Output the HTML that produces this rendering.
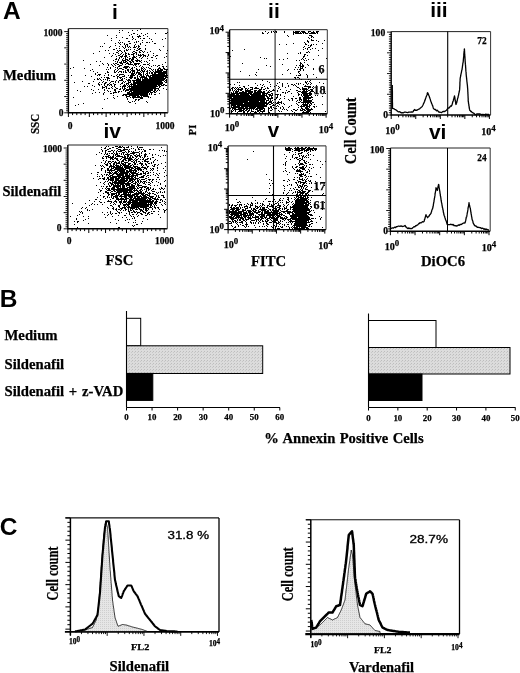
<!DOCTYPE html>
<html><head><meta charset="utf-8"><title>Figure</title>
<style>html,body{margin:0;padding:0;background:#fff}svg{display:block}text{fill:#000}</style>
</head><body>
<svg width="520" height="673" viewBox="0 0 520 673">
<defs>
<filter id="soft" x="0" y="0" width="520" height="673" filterUnits="userSpaceOnUse"><feGaussianBlur stdDeviation="0.35"/></filter>
<pattern id="dots" width="3" height="3" patternUnits="userSpaceOnUse"><rect width="3" height="3" fill="#dcdcdc"/><rect x="0" y="0" width="1" height="1" fill="#bdbdbd"/><rect x="2" y="1" width="1" height="1" fill="#c8c8c8"/></pattern>
<pattern id="dots2" width="2" height="2" patternUnits="userSpaceOnUse"><rect width="2" height="2" fill="#e6e6e6"/><rect x="0" y="0" width="1" height="1" fill="#cfcfcf"/></pattern>
</defs><rect width="520" height="673" fill="#fff"/>
<g filter="url(#soft)">
<text x="2.9" y="18.8" style="font-family:'Liberation Sans',sans-serif;font-weight:bold;font-size:24.5px" text-anchor="start" >A</text>
<text x="-0.3" y="307.3" style="font-family:'Liberation Sans',sans-serif;font-weight:bold;font-size:24.5px" text-anchor="start" >B</text>
<text x="-0.3" y="534.8" style="font-family:'Liberation Sans',sans-serif;font-weight:bold;font-size:24.5px" text-anchor="start" >C</text>
<text x="114.9" y="18.8" style="font-family:'Liberation Sans',sans-serif;font-weight:bold;font-size:21px" text-anchor="middle" >i</text>
<text x="273.9" y="18.1" style="font-family:'Liberation Sans',sans-serif;font-weight:bold;font-size:21px" text-anchor="middle" >ii</text>
<text x="438.9" y="16.9" style="font-family:'Liberation Sans',sans-serif;font-weight:bold;font-size:21px" text-anchor="middle" >iii</text>
<text x="112.2" y="137.7" style="font-family:'Liberation Sans',sans-serif;font-weight:bold;font-size:21px" text-anchor="middle" >iv</text>
<text x="273.5" y="136.9" style="font-family:'Liberation Sans',sans-serif;font-weight:bold;font-size:20.5px" text-anchor="middle" >v</text>
<text x="437.7" y="138.5" style="font-family:'Liberation Sans',sans-serif;font-weight:bold;font-size:21px" text-anchor="middle" >vi</text>
<line x1="68.4" y1="28.6" x2="68.4" y2="113.3" stroke="#000" stroke-width="1.4"/>
<line x1="67.9" y1="112.8" x2="167.9" y2="112.8" stroke="#000" stroke-width="1.4"/>
<line x1="68.4" y1="28.6" x2="167.9" y2="28.6" stroke="#222" stroke-width="1.0"/>
<line x1="167.9" y1="28.6" x2="167.9" y2="112.8" stroke="#333" stroke-width="1.0"/>
<line x1="64.2" y1="112.8" x2="68.4" y2="112.8" stroke="#000" stroke-width="0.9"/>
<line x1="66.10000000000001" y1="110.77" x2="68.4" y2="110.77" stroke="#000" stroke-width="0.9"/>
<line x1="66.10000000000001" y1="108.74" x2="68.4" y2="108.74" stroke="#000" stroke-width="0.9"/>
<line x1="66.10000000000001" y1="106.71" x2="68.4" y2="106.71" stroke="#000" stroke-width="0.9"/>
<line x1="66.10000000000001" y1="104.67999999999999" x2="68.4" y2="104.67999999999999" stroke="#000" stroke-width="0.9"/>
<line x1="66.10000000000001" y1="102.65" x2="68.4" y2="102.65" stroke="#000" stroke-width="0.9"/>
<line x1="66.10000000000001" y1="100.62" x2="68.4" y2="100.62" stroke="#000" stroke-width="0.9"/>
<line x1="66.10000000000001" y1="98.59" x2="68.4" y2="98.59" stroke="#000" stroke-width="0.9"/>
<line x1="64.2" y1="96.56" x2="68.4" y2="96.56" stroke="#000" stroke-width="0.9"/>
<line x1="66.10000000000001" y1="94.53" x2="68.4" y2="94.53" stroke="#000" stroke-width="0.9"/>
<line x1="66.10000000000001" y1="92.5" x2="68.4" y2="92.5" stroke="#000" stroke-width="0.9"/>
<line x1="66.10000000000001" y1="90.47" x2="68.4" y2="90.47" stroke="#000" stroke-width="0.9"/>
<line x1="66.10000000000001" y1="88.44" x2="68.4" y2="88.44" stroke="#000" stroke-width="0.9"/>
<line x1="66.10000000000001" y1="86.41" x2="68.4" y2="86.41" stroke="#000" stroke-width="0.9"/>
<line x1="66.10000000000001" y1="84.38" x2="68.4" y2="84.38" stroke="#000" stroke-width="0.9"/>
<line x1="66.10000000000001" y1="82.35" x2="68.4" y2="82.35" stroke="#000" stroke-width="0.9"/>
<line x1="64.2" y1="80.32" x2="68.4" y2="80.32" stroke="#000" stroke-width="0.9"/>
<line x1="66.10000000000001" y1="78.28999999999999" x2="68.4" y2="78.28999999999999" stroke="#000" stroke-width="0.9"/>
<line x1="66.10000000000001" y1="76.25999999999999" x2="68.4" y2="76.25999999999999" stroke="#000" stroke-width="0.9"/>
<line x1="66.10000000000001" y1="74.23" x2="68.4" y2="74.23" stroke="#000" stroke-width="0.9"/>
<line x1="66.10000000000001" y1="72.2" x2="68.4" y2="72.2" stroke="#000" stroke-width="0.9"/>
<line x1="66.10000000000001" y1="70.17" x2="68.4" y2="70.17" stroke="#000" stroke-width="0.9"/>
<line x1="66.10000000000001" y1="68.14000000000001" x2="68.4" y2="68.14000000000001" stroke="#000" stroke-width="0.9"/>
<line x1="66.10000000000001" y1="66.11000000000001" x2="68.4" y2="66.11000000000001" stroke="#000" stroke-width="0.9"/>
<line x1="64.2" y1="64.08000000000001" x2="68.4" y2="64.08000000000001" stroke="#000" stroke-width="0.9"/>
<line x1="66.10000000000001" y1="62.050000000000004" x2="68.4" y2="62.050000000000004" stroke="#000" stroke-width="0.9"/>
<line x1="66.10000000000001" y1="60.02" x2="68.4" y2="60.02" stroke="#000" stroke-width="0.9"/>
<line x1="66.10000000000001" y1="57.99000000000001" x2="68.4" y2="57.99000000000001" stroke="#000" stroke-width="0.9"/>
<line x1="66.10000000000001" y1="55.96000000000001" x2="68.4" y2="55.96000000000001" stroke="#000" stroke-width="0.9"/>
<line x1="66.10000000000001" y1="53.93000000000001" x2="68.4" y2="53.93000000000001" stroke="#000" stroke-width="0.9"/>
<line x1="66.10000000000001" y1="51.900000000000006" x2="68.4" y2="51.900000000000006" stroke="#000" stroke-width="0.9"/>
<line x1="66.10000000000001" y1="49.870000000000005" x2="68.4" y2="49.870000000000005" stroke="#000" stroke-width="0.9"/>
<line x1="64.2" y1="47.84" x2="68.4" y2="47.84" stroke="#000" stroke-width="0.9"/>
<line x1="66.10000000000001" y1="45.81000000000002" x2="68.4" y2="45.81000000000002" stroke="#000" stroke-width="0.9"/>
<line x1="66.10000000000001" y1="43.78" x2="68.4" y2="43.78" stroke="#000" stroke-width="0.9"/>
<line x1="66.10000000000001" y1="41.750000000000014" x2="68.4" y2="41.750000000000014" stroke="#000" stroke-width="0.9"/>
<line x1="66.10000000000001" y1="39.72" x2="68.4" y2="39.72" stroke="#000" stroke-width="0.9"/>
<line x1="66.10000000000001" y1="37.69000000000001" x2="68.4" y2="37.69000000000001" stroke="#000" stroke-width="0.9"/>
<line x1="66.10000000000001" y1="35.66000000000001" x2="68.4" y2="35.66000000000001" stroke="#000" stroke-width="0.9"/>
<line x1="66.10000000000001" y1="33.63000000000001" x2="68.4" y2="33.63000000000001" stroke="#000" stroke-width="0.9"/>
<line x1="64.2" y1="31.60000000000001" x2="68.4" y2="31.60000000000001" stroke="#000" stroke-width="0.9"/>
<line x1="68.4" y1="112.8" x2="68.4" y2="117.0" stroke="#000" stroke-width="1.0"/>
<line x1="72.5913043478261" y1="112.8" x2="72.5913043478261" y2="115.1" stroke="#000" stroke-width="1.0"/>
<line x1="76.78260869565219" y1="112.8" x2="76.78260869565219" y2="115.1" stroke="#000" stroke-width="1.0"/>
<line x1="80.97391304347826" y1="112.8" x2="80.97391304347826" y2="115.1" stroke="#000" stroke-width="1.0"/>
<line x1="85.16521739130435" y1="112.8" x2="85.16521739130435" y2="115.1" stroke="#000" stroke-width="1.0"/>
<line x1="89.35652173913044" y1="112.8" x2="89.35652173913044" y2="117.0" stroke="#000" stroke-width="1.0"/>
<line x1="93.54782608695653" y1="112.8" x2="93.54782608695653" y2="115.1" stroke="#000" stroke-width="1.0"/>
<line x1="97.73913043478262" y1="112.8" x2="97.73913043478262" y2="115.1" stroke="#000" stroke-width="1.0"/>
<line x1="101.9304347826087" y1="112.8" x2="101.9304347826087" y2="115.1" stroke="#000" stroke-width="1.0"/>
<line x1="106.12173913043479" y1="112.8" x2="106.12173913043479" y2="117.0" stroke="#000" stroke-width="1.0"/>
<line x1="110.31304347826088" y1="112.8" x2="110.31304347826088" y2="115.1" stroke="#000" stroke-width="1.0"/>
<line x1="114.50434782608696" y1="112.8" x2="114.50434782608696" y2="115.1" stroke="#000" stroke-width="1.0"/>
<line x1="118.69565217391306" y1="112.8" x2="118.69565217391306" y2="115.1" stroke="#000" stroke-width="1.0"/>
<line x1="122.88695652173914" y1="112.8" x2="122.88695652173914" y2="115.1" stroke="#000" stroke-width="1.0"/>
<line x1="127.07826086956523" y1="112.8" x2="127.07826086956523" y2="117.0" stroke="#000" stroke-width="1.0"/>
<line x1="131.26956521739132" y1="112.8" x2="131.26956521739132" y2="115.1" stroke="#000" stroke-width="1.0"/>
<line x1="135.46086956521742" y1="112.8" x2="135.46086956521742" y2="115.1" stroke="#000" stroke-width="1.0"/>
<line x1="139.6521739130435" y1="112.8" x2="139.6521739130435" y2="115.1" stroke="#000" stroke-width="1.0"/>
<line x1="143.84347826086957" y1="112.8" x2="143.84347826086957" y2="117.0" stroke="#000" stroke-width="1.0"/>
<line x1="148.03478260869565" y1="112.8" x2="148.03478260869565" y2="115.1" stroke="#000" stroke-width="1.0"/>
<line x1="152.22608695652173" y1="112.8" x2="152.22608695652173" y2="115.1" stroke="#000" stroke-width="1.0"/>
<line x1="156.41739130434783" y1="112.8" x2="156.41739130434783" y2="115.1" stroke="#000" stroke-width="1.0"/>
<line x1="160.60869565217394" y1="112.8" x2="160.60869565217394" y2="115.1" stroke="#000" stroke-width="1.0"/>
<line x1="164.8" y1="112.8" x2="164.8" y2="117.0" stroke="#000" stroke-width="1.0"/>
<text x="62.5" y="36" style="font-family:'Liberation Serif',serif;font-weight:bold;stroke:#000;stroke-width:0.25px;font-size:9.5px" text-anchor="end" >1000</text>
<text x="63.5" y="116" style="font-family:'Liberation Serif',serif;font-weight:bold;stroke:#000;stroke-width:0.25px;font-size:9.5px" text-anchor="end" >0</text>
<text x="70" y="128.6" style="font-family:'Liberation Serif',serif;font-weight:bold;stroke:#000;stroke-width:0.25px;font-size:9.5px" text-anchor="middle" >0</text>
<text x="165" y="129.1" style="font-family:'Liberation Serif',serif;font-weight:bold;stroke:#000;stroke-width:0.25px;font-size:9.5px" text-anchor="middle" >1000</text>
<path d="M159 80h1M145 89h1M139 89h1M145 79h1M153 87h1M140 88h1M149 84h1M143 81h1M149 86h1M147 79h1M158 83h1M142 98h1M145 80h1M142 77h1M153 82h1M139 94h1M132 94h1M128 90h1M135 97h1M159 81h1M152 84h1M150 82h1M131 83h1M148 97h1M147 84h1M160 83h1M146 88h1M144 86h1M134 93h1M144 93h1M142 79h1M144 95h1M142 84h1M135 85h1M143 82h1M157 82h1M146 94h1M148 90h1M143 79h1M150 89h1M148 81h1M143 85h1M143 94h1M157 86h1M149 89h1M145 87h1M140 89h1M163 85h1M142 86h1M138 91h1M148 79h1M149 83h1M156 84h1M143 89h1M135 91h1M145 85h1M140 97h1M150 86h1M144 91h1M149 87h1M153 86h1M140 87h1M141 89h1M136 81h1M146 80h1M129 94h1M139 91h1M141 83h1M135 88h1M143 84h1M143 80h1M145 78h1M143 91h1M154 92h1M133 95h1M155 88h1M138 92h1M160 75h1M149 91h1M139 92h1M136 86h1M138 90h1M144 92h1M137 89h1M134 94h1M141 90h1M147 92h1M146 78h1M143 93h1M147 83h1M154 80h1M129 102h1M130 95h1M153 85h1M132 96h1M133 85h1M142 92h1M147 90h1M141 87h1M136 89h1M150 84h1M143 90h1M146 95h1M143 87h1M137 90h1M145 91h1M144 85h1M148 91h1M154 82h1M144 78h1M155 84h1M151 79h1M155 81h1M144 81h1M144 90h1M141 84h1M145 90h1M155 87h1M131 94h1M157 83h1M141 91h1M145 94h1M149 82h1M150 90h1M127 98h1M140 79h1M131 91h1M151 84h1M149 80h1M134 95h1M155 79h1M142 93h1M160 82h1M158 80h1M148 85h1M132 93h1M144 94h1M135 83h1M140 83h1M156 85h1M138 86h1M138 84h1M150 85h1M132 97h1M140 82h1M144 87h1M159 77h1M134 88h1M136 87h1M158 79h1M166 89h1M143 77h1M144 88h1M127 94h1M140 85h1M146 89h1M140 78h1M150 78h1M145 81h1M133 97h1M143 83h1M120 88h1M146 90h1M138 88h1M157 88h1M146 79h1M156 80h1M150 83h1M153 91h1M138 82h1M142 85h1M149 73h1M136 88h1M133 91h1M139 93h1M150 87h1M148 84h1M162 77h1M151 87h1M153 71h1M140 84h1M144 84h1M140 92h1M160 68h1M134 86h1M151 90h1M146 83h1M146 86h1M140 90h1M136 94h1M154 78h1M154 88h1M143 92h1M142 89h1M154 83h1M135 92h1M157 74h1M138 81h1M135 82h1M158 81h1M137 84h1M135 99h1M139 85h1M147 93h1M156 81h1M147 87h1M146 81h1M156 83h1M137 88h1M141 88h1M153 78h1M130 94h1M149 85h1M151 81h1M136 93h1M150 76h1M136 91h1M154 81h1M165 82h1M152 88h1M152 87h1M142 91h1M146 93h1M139 86h1M150 91h1M160 86h1M155 85h1M141 94h1M158 85h1M145 92h1M139 84h1M160 80h1M145 82h1M130 84h1M154 91h1M143 96h1M137 93h1M151 78h1M134 97h1M155 83h1M150 80h1M147 91h1M137 86h1M148 86h1M145 93h1M151 82h1M161 71h1M136 85h1M158 84h1M148 87h1M139 82h1M147 86h1M144 79h1M140 74h1M152 79h1M144 83h1M154 76h1M155 94h1M141 82h1M143 95h1M130 90h1M130 93h1M142 94h1M134 81h1M153 88h1M140 86h1M151 86h1M147 78h1M152 80h1M127 90h1M148 96h1M142 82h1M162 82h1M137 97h1M141 96h1M138 93h1M158 82h1M138 83h1M147 85h1M145 83h1M146 85h1M133 93h1M151 89h1M151 75h1M152 85h1M137 83h1M139 90h1M145 86h1M153 79h1M145 95h1M160 74h1M151 94h1M157 81h1M162 85h1M142 90h1M129 96h1M145 84h1M141 95h1M148 82h1M140 94h1M151 93h1M135 87h1M135 103h1M139 88h1M151 88h1M133 92h1M142 88h1M135 89h1M156 82h1M159 87h1M138 85h1M154 89h1M154 87h1M159 79h1M146 84h1M154 85h1M151 80h1M150 88h1M153 84h1M150 97h1M156 91h1M156 76h1M155 92h1M154 84h1M151 92h1M156 74h1M136 83h1M146 91h1M149 90h1M159 90h1M164 84h1M133 87h1M135 86h1M154 72h1M138 89h1M126 97h1M132 87h1M142 81h1M142 87h1M157 90h1M157 72h1M143 72h1M151 85h1M155 82h1M148 88h1M152 78h1M138 87h1M147 88h1M135 93h1M154 90h1M153 80h1M156 88h1M134 83h1M140 81h1M146 87h1M148 83h1M155 69h1M161 84h1M127 99h1M137 91h1M152 82h1M146 96h1M148 80h1M139 96h1M141 97h1M152 83h1M152 77h1M141 92h1M131 90h1M150 77h1M155 89h1M131 85h1M152 76h1M133 98h1M154 79h1M130 102h1M142 83h1M151 83h1M136 97h1M134 92h1M151 77h1M132 88h1M155 90h1M155 80h1M139 87h1M137 95h1M141 81h1M143 88h1M152 89h1M144 89h1M135 96h1M143 86h1M140 80h1M138 100h1M133 86h1M130 97h1M138 97h1M166 81h1M144 82h1M145 96h1M129 88h1M144 96h1M134 87h1M124 87h1M141 86h1M154 94h1M158 89h1M163 77h1M153 83h1M131 93h1M141 85h1M162 80h1M150 81h1M126 94h1M149 76h1M133 96h1M139 83h1M126 95h1M134 101h1M152 90h1M128 101h1M152 81h1M132 86h1M136 92h1M136 95h1M129 85h1M138 78h1M165 85h1M161 82h1M132 95h1M129 82h1M161 85h1M157 79h1M149 72h1M147 80h1M136 79h1M162 76h1M129 95h1M123 95h1M139 79h1M156 75h1M146 82h1M140 93h1M147 81h1M142 97h1M163 84h1M147 82h1M155 77h1M158 76h1M155 76h1M159 82h1M159 78h1M155 78h1M157 75h1M162 75h1M161 72h1M165 71h1M145 77h1M164 72h1M166 73h1M155 71h1M160 69h1M151 72h1M166 77h1M147 89h1M151 73h1M163 80h1M165 72h1M163 73h1M149 77h1M162 78h1M148 76h1M160 78h1M153 77h1M156 71h1M164 68h1M155 73h1M166 82h1M155 72h1M147 75h1M154 74h1M152 75h1M158 71h1M163 68h1M158 75h1M164 69h1M156 79h1M151 66h1M153 75h1M164 78h1M159 85h1M162 83h1M160 79h1M147 74h1M154 73h1M159 83h1M166 74h1M157 80h1M152 70h1M161 77h1M164 75h1M158 77h1M149 81h1M159 68h1M162 74h1M159 76h1M161 69h1M165 78h1M163 78h1M155 86h1M153 69h1M164 73h1M163 76h1M155 70h1M165 76h1M152 74h1M150 79h1M157 71h1M161 76h1M160 72h1M161 83h1M164 81h1M162 69h1M161 73h1M149 79h1M160 70h1M161 81h1M162 70h1M166 71h1M154 75h1M154 86h1M165 73h1M157 76h1M159 86h1M164 76h1M164 71h1M166 72h1M156 77h1M161 75h1M156 72h1M150 71h1M165 80h1M158 88h1M160 76h1M159 73h1M159 67h1M158 78h1M156 86h1M163 66h1M166 79h1M160 84h1M161 74h1M163 74h1M160 77h1M157 84h1M155 74h1M160 71h1M163 67h1M154 77h1M163 79h1M163 75h1M163 72h1M167 75h1M146 77h1M161 78h1M167 77h1M159 70h1M158 65h1M150 92h1M153 81h1M159 71h1M164 79h1M159 74h1M153 74h1M156 78h1M165 69h1M162 79h1M158 73h1M157 70h1M161 79h1M164 74h1M160 73h1M153 65h1M152 92h1M161 80h1M162 73h1M161 70h1M159 93h1M167 69h1M162 72h1M159 75h1M165 75h1M166 80h1M158 74h1M165 62h1M165 77h1M157 77h1M148 92h1M158 72h1M159 72h1M163 88h1M163 71h1M153 76h1M157 69h1M159 84h1M166 85h1M166 70h1M166 75h1M166 76h1M158 70h1M149 78h1M158 69h1M157 78h1M155 75h1M152 73h1M160 81h1M166 69h1M150 75h1M130 91h1M141 68h1M128 82h1M141 77h1M133 89h1M131 87h1M128 92h1M148 75h1M122 79h1M145 74h1M137 81h1M138 70h1M142 78h1M134 84h1M139 80h1M134 96h1M137 79h1M137 77h1M133 82h1M135 77h1M134 85h1M134 80h1M147 72h1M130 80h1M131 75h1M130 82h1M131 88h1M138 79h1M137 80h1M134 82h1M137 94h1M133 84h1M120 80h1M141 74h1M124 82h1M129 86h1M137 72h1M139 74h1M124 88h1M132 90h1M137 78h1M133 75h1M130 75h1M124 94h1M127 85h1M128 86h1M140 91h1M136 90h1M144 80h1M135 90h1M137 82h1M125 94h1M135 65h1M139 81h1M128 83h1M139 72h1M134 89h1M127 87h1M115 81h1M133 81h1M126 79h1M132 101h1M129 77h1M126 90h1M146 76h1M136 82h1M135 78h1M126 77h1M141 76h1M128 75h1M128 94h1M146 75h1M133 88h1M129 89h1M152 86h1M131 73h1M142 80h1M131 92h1M130 78h1M122 95h1M138 96h1M137 87h1M129 87h1M144 77h1M125 95h1M131 84h1M139 73h1M132 84h1M141 75h1M137 85h1M135 84h1M123 90h1M131 86h1M135 80h1M145 88h1M122 87h1M142 95h1M135 94h1M133 90h1M140 98h1M147 94h1M133 94h1M141 93h1M134 91h1M149 94h1M139 97h1M135 95h1M137 92h1M131 89h1M130 88h1M130 86h1M146 92h1M134 90h1M131 95h1M137 96h1M138 95h1M149 93h1M140 95h1M146 101h1M138 99h1M141 98h1M132 92h1M132 89h1M127 92h1M129 91h1M126 89h1M128 89h1M129 93h1M147 96h1M139 99h1M138 94h1M135 100h1M130 89h1M127 93h1M148 89h1M127 83h1M129 92h1M147 95h1M128 96h1M124 89h1M109 53h1M143 35h1M138 36h1M113 63h1M119 57h1M115 63h1M137 36h1M134 64h1M138 41h1M125 53h1M116 48h1M120 63h1M136 54h1M136 61h1M140 38h1M129 59h1M129 64h1M136 60h1M133 54h1M126 50h1M139 69h1M142 51h1M126 96h1M139 36h1M136 63h1M124 56h1M118 53h1M119 43h1M123 47h1M135 74h1M126 55h1M134 57h1M102 46h1M133 70h1M122 60h1M124 67h1M152 72h1M127 67h1M117 70h1M120 56h1M136 52h1M131 64h1M129 41h1M133 62h1M152 41h1M139 52h1M124 86h1M126 72h1M129 46h1M125 54h1M125 88h1M133 33h1M149 63h1M119 66h1M125 62h1M141 70h1M131 78h1M103 64h1M132 64h1M144 61h1M143 55h1M125 68h1M134 46h1M139 55h1M128 32h1M138 47h1M123 58h1M115 59h1M144 55h1M118 69h1M145 45h1M143 56h1M99 65h1M149 68h1M140 65h1M116 56h1M117 50h1M109 47h1M127 57h1M102 108h1M136 64h1M107 67h1M115 69h1M131 60h1M133 51h1M136 56h1M156 58h1M102 87h1M120 44h1M128 79h1M150 51h1M130 63h1M121 53h1M126 59h1M140 29h1M133 65h1M143 52h1M124 62h1M122 52h1M121 51h1M117 52h1M119 50h1M113 76h1M131 59h1M116 71h1M125 59h1M129 58h1M139 46h1M121 63h1M126 68h1M138 54h1M141 55h1M119 46h1M136 46h1M99 75h1M132 71h1M139 66h1M132 60h1M119 30h1M106 69h1M137 59h1M120 71h1M128 60h1M124 43h1M117 67h1M126 67h1M127 63h1M133 73h1M116 88h1M127 46h1M154 43h1M128 49h1M132 36h1M131 54h1M144 38h1M125 60h1M130 77h1M127 44h1M113 60h1M133 74h1M135 39h1M134 49h1M142 54h1M125 52h1M139 57h1M115 61h1M140 71h1M135 63h1M111 40h1M137 50h1M128 70h1M107 35h1M134 51h1M124 78h1M131 34h1M147 64h1M122 78h1M118 51h1M120 65h1M121 65h1M132 61h1M119 32h1M132 39h1M132 59h1M127 60h1M134 45h1M131 76h1M137 75h1M149 65h1M118 59h1M133 58h1M145 64h1M138 46h1M134 67h1M128 69h1M151 57h1M121 79h1M133 57h1M152 60h1M148 55h1M115 54h1M140 36h1M131 68h1M132 67h1M107 85h1M132 52h1M136 42h1M115 43h1M138 45h1M130 43h1M128 53h1M120 78h1M155 43h1M116 37h1M146 61h1M132 76h1M130 71h1M147 62h1M137 63h1M135 64h1M108 50h1M121 61h1M127 66h1M132 73h1M109 78h1M124 48h1M128 81h1M132 30h1M92 69h1M155 33h1M121 62h1M111 64h1M121 74h1M115 45h1M120 54h1M120 42h1M122 37h1M139 51h1M114 64h1M110 68h1M134 47h1M138 60h1M123 54h1M142 42h1M132 57h1M113 53h1M134 56h1M127 38h1M125 61h1M146 42h1M145 49h1M112 55h1M133 47h1M130 47h1M145 48h1M117 68h1M122 82h1M125 55h1M119 62h1M131 70h1M127 50h1M116 52h1M124 75h1M137 34h1M138 55h1M130 58h1M116 63h1M128 71h1M134 77h1M134 42h1M136 41h1M120 62h1M119 55h1M139 49h1M118 42h1M159 49h1M140 50h1M118 55h1M119 40h1M107 63h1M123 81h1M122 55h1M141 33h1M115 67h1M129 43h1M137 60h1M122 59h1M133 56h1M112 65h1M133 55h1M121 83h1M127 59h1M122 56h1M111 38h1M121 56h1M121 71h1M127 70h1M133 80h1M115 65h1M116 35h1M130 72h1M125 58h1M120 84h1M132 54h1M118 66h1M126 38h1M123 62h1M134 71h1M123 60h1M120 50h1M133 71h1M129 35h1M119 48h1M93 53h1M125 67h1M127 45h1M123 61h1M134 63h1M137 30h1M130 64h1M117 64h1M122 42h1M114 70h1M134 75h1M136 66h1M116 58h1M125 90h1M117 76h1M121 72h1M122 76h1M111 56h1M118 82h1M113 49h1M128 41h1M114 49h1M127 80h1M138 73h1M123 72h1M137 71h1M128 54h1M126 66h1M147 58h1M142 40h1M104 57h1M132 37h1M126 63h1M128 64h1M140 55h1M123 69h1M140 52h1M143 69h1M124 60h1M119 71h1M100 46h1M122 69h1M124 50h1M133 53h1M120 68h1M126 49h1M135 60h1M124 76h1M139 35h1M110 46h1M137 61h1M122 46h1M110 67h1M128 66h1M138 63h1M144 64h1M122 63h1M151 39h1M130 61h1M148 54h1M135 52h1M116 59h1M125 70h1M140 44h1M147 36h1M122 64h1M124 44h1M135 44h1M138 37h1M139 70h1M140 43h1M125 57h1M125 56h1M102 63h1M131 77h1M136 50h1M125 46h1M124 51h1M139 63h1M134 53h1M119 68h1M128 47h1M118 60h1M136 58h1M132 75h1M117 74h1M119 65h1M129 79h1M118 64h1M108 69h1M135 47h1M126 61h1M99 51h1M143 75h1M125 45h1M144 68h1M133 61h1M117 77h1M126 83h1M120 74h1M119 80h1M134 33h1M113 66h1M127 89h1M119 58h1M128 63h1M147 56h1M111 85h1M133 38h1M121 57h1M129 72h1M126 53h1M129 67h1M105 50h1M107 71h1M129 61h1M149 42h1M141 60h1M122 30h1M115 84h1M126 56h1M125 47h1M108 74h1M155 56h1M104 77h1M132 70h1M129 56h1M140 54h1M141 50h1M130 49h1M138 49h1M119 75h1M132 58h1M117 61h1M132 69h1M108 64h1M118 72h1M123 94h1M104 43h1M139 48h1M140 48h1M137 48h1M130 69h1M115 72h1M126 44h1M123 74h1M130 62h1M129 54h1M141 58h1M95 73h1M103 81h1M114 71h1M115 92h1M104 90h1M102 82h1M104 92h1M118 92h1M98 83h1M113 93h1M107 78h1M123 89h1M121 91h1M97 78h1M114 90h1M114 85h1M116 80h1M106 77h1M117 88h1M114 84h1M85 75h1M109 85h1M116 92h1M103 87h1M92 85h1M89 83h1M88 83h1M122 86h1M114 92h1M84 68h1M108 78h1M104 99h1M125 91h1M102 86h1M111 84h1M123 76h1M123 85h1M120 86h1M103 79h1M111 87h1M136 99h1M108 77h1M109 88h1M93 81h1M94 86h1M123 86h1M110 91h1M113 81h1M105 83h1M108 91h1M99 85h1M107 72h1M115 87h1M97 72h1M117 96h1M109 83h1M115 82h1M104 89h1M98 89h1M111 93h1M91 89h1M108 88h1M101 77h1M119 89h1M114 89h1M114 76h1M106 82h1M127 96h1M100 74h1M115 89h1M121 80h1M120 89h1M105 79h1M121 68h1M119 91h1M102 88h1M107 77h1M106 87h1M109 80h1M115 90h1M122 83h1M104 75h1M108 84h1M118 76h1M118 91h1M106 86h1M97 75h1M99 84h1M104 84h1M98 74h1M112 86h1M112 81h1M111 75h1M98 84h1M99 92h1M104 85h1M107 98h1M107 90h1M108 75h1M114 98h1M113 97h1M115 91h1M104 83h1M113 92h1M99 74h1M107 84h1M113 95h1M103 94h1M114 86h1M93 90h1M113 83h1M91 76h1M95 74h1M100 79h1M106 88h1M105 82h1M111 81h1M110 82h1M122 88h1M101 80h1M105 73h1M110 84h1M118 81h1M110 93h1M101 84h1M107 79h1M105 86h1M112 88h1M107 80h1M108 72h1M97 79h1M104 87h1M103 93h1M95 92h1M125 66h1M124 85h1M143 74h1M147 71h1M142 71h1M142 66h1M120 77h1M130 81h1M127 69h1M125 71h1M131 62h1M146 73h1M133 59h1M134 73h1M136 80h1M138 72h1M125 86h1M141 67h1M136 72h1M141 72h1M125 72h1M143 67h1M140 73h1M136 73h1M139 61h1M132 80h1M121 77h1M131 74h1M138 80h1M146 71h1M123 67h1M149 88h1M136 69h1M114 72h1M141 62h1M122 74h1M147 73h1M130 76h1M117 62h1M140 75h1M139 60h1M123 71h1M144 76h1M155 65h1M143 64h1M122 80h1M147 70h1M159 65h1M133 83h1M143 73h1M125 85h1M132 68h1M134 72h1M132 77h1M134 70h1M132 72h1M148 64h1M143 71h1M145 56h1M135 57h1M124 66h1M140 77h1M141 69h1M132 74h1M142 76h1M128 84h1M140 61h1M119 77h1M108 65h1M119 74h1M134 78h1M147 102h1M129 80h1M125 81h1M124 84h1M146 67h1M148 67h1M117 78h1M142 57h1M138 64h1M149 70h1M116 75h1M138 74h1M126 84h1M143 76h1M137 70h1M144 71h1M139 76h1M128 93h1M137 76h1M137 69h1M145 69h1M125 64h1M136 53h1M127 62h1M144 70h1M128 80h1M151 69h1M136 68h1M83 103h1M93 71h1M99 78h1M96 61h1M90 64h1M90 70h1M83 60h1M75 105h1M99 82h1M73 97h1M82 81h1M100 61h1M74 82h1M87 86h1M80 91h1M77 90h1M70 68h1M71 75h1M98 79h1M84 86h1M78 104h1M73 67h1M92 93h1M94 79h1M162 64h1M147 52h1M157 55h1M153 53h1M167 50h1M145 34h1M165 38h1M143 38h1M166 33h1M153 55h1M158 68h1M147 42h1M167 32h1M164 57h1M150 68h1M166 53h1M144 51h1M162 66h1M145 55h1M163 46h1M142 68h1M149 60h1M166 56h1M160 50h1M152 57h1M142 70h1M147 33h1M140 56h1M157 66h1M162 39h1M156 55h1M166 66h1M149 38h1M165 33h1M143 54h1" stroke="#000" stroke-width="1.0" fill="none" transform="translate(0 0.5)"/>
<text x="3" y="80" style="font-family:'Liberation Serif',serif;font-weight:bold;stroke:#000;stroke-width:0.25px;font-size:14.7px" text-anchor="start" >Medium</text>
<text transform="translate(39.3 124) rotate(-90) scale(0.83 1)" style="font-family:'Liberation Serif',serif;font-weight:bold;stroke:#000;stroke-width:0.25px;font-size:13.3px" text-anchor="middle">SSC</text>
<line x1="67.85" y1="145" x2="67.85" y2="229.3" stroke="#000" stroke-width="1.4"/>
<line x1="67.35" y1="228.8" x2="167.3" y2="228.8" stroke="#000" stroke-width="1.4"/>
<line x1="67.85" y1="145" x2="167.3" y2="145" stroke="#222" stroke-width="1.0"/>
<line x1="167.3" y1="145" x2="167.3" y2="228.8" stroke="#333" stroke-width="1.0"/>
<line x1="63.64999999999999" y1="228.8" x2="67.85" y2="228.8" stroke="#000" stroke-width="0.9"/>
<line x1="65.55" y1="226.78" x2="67.85" y2="226.78" stroke="#000" stroke-width="0.9"/>
<line x1="65.55" y1="224.76000000000002" x2="67.85" y2="224.76000000000002" stroke="#000" stroke-width="0.9"/>
<line x1="65.55" y1="222.74" x2="67.85" y2="222.74" stroke="#000" stroke-width="0.9"/>
<line x1="65.55" y1="220.72" x2="67.85" y2="220.72" stroke="#000" stroke-width="0.9"/>
<line x1="65.55" y1="218.70000000000002" x2="67.85" y2="218.70000000000002" stroke="#000" stroke-width="0.9"/>
<line x1="65.55" y1="216.68" x2="67.85" y2="216.68" stroke="#000" stroke-width="0.9"/>
<line x1="65.55" y1="214.66" x2="67.85" y2="214.66" stroke="#000" stroke-width="0.9"/>
<line x1="63.64999999999999" y1="212.64000000000001" x2="67.85" y2="212.64000000000001" stroke="#000" stroke-width="0.9"/>
<line x1="65.55" y1="210.62" x2="67.85" y2="210.62" stroke="#000" stroke-width="0.9"/>
<line x1="65.55" y1="208.60000000000002" x2="67.85" y2="208.60000000000002" stroke="#000" stroke-width="0.9"/>
<line x1="65.55" y1="206.58" x2="67.85" y2="206.58" stroke="#000" stroke-width="0.9"/>
<line x1="65.55" y1="204.56" x2="67.85" y2="204.56" stroke="#000" stroke-width="0.9"/>
<line x1="65.55" y1="202.54000000000002" x2="67.85" y2="202.54000000000002" stroke="#000" stroke-width="0.9"/>
<line x1="65.55" y1="200.52" x2="67.85" y2="200.52" stroke="#000" stroke-width="0.9"/>
<line x1="65.55" y1="198.5" x2="67.85" y2="198.5" stroke="#000" stroke-width="0.9"/>
<line x1="63.64999999999999" y1="196.48000000000002" x2="67.85" y2="196.48000000000002" stroke="#000" stroke-width="0.9"/>
<line x1="65.55" y1="194.46" x2="67.85" y2="194.46" stroke="#000" stroke-width="0.9"/>
<line x1="65.55" y1="192.44" x2="67.85" y2="192.44" stroke="#000" stroke-width="0.9"/>
<line x1="65.55" y1="190.42000000000002" x2="67.85" y2="190.42000000000002" stroke="#000" stroke-width="0.9"/>
<line x1="65.55" y1="188.4" x2="67.85" y2="188.4" stroke="#000" stroke-width="0.9"/>
<line x1="65.55" y1="186.38" x2="67.85" y2="186.38" stroke="#000" stroke-width="0.9"/>
<line x1="65.55" y1="184.36" x2="67.85" y2="184.36" stroke="#000" stroke-width="0.9"/>
<line x1="65.55" y1="182.34" x2="67.85" y2="182.34" stroke="#000" stroke-width="0.9"/>
<line x1="63.64999999999999" y1="180.32" x2="67.85" y2="180.32" stroke="#000" stroke-width="0.9"/>
<line x1="65.55" y1="178.3" x2="67.85" y2="178.3" stroke="#000" stroke-width="0.9"/>
<line x1="65.55" y1="176.28" x2="67.85" y2="176.28" stroke="#000" stroke-width="0.9"/>
<line x1="65.55" y1="174.26" x2="67.85" y2="174.26" stroke="#000" stroke-width="0.9"/>
<line x1="65.55" y1="172.24" x2="67.85" y2="172.24" stroke="#000" stroke-width="0.9"/>
<line x1="65.55" y1="170.22" x2="67.85" y2="170.22" stroke="#000" stroke-width="0.9"/>
<line x1="65.55" y1="168.2" x2="67.85" y2="168.2" stroke="#000" stroke-width="0.9"/>
<line x1="65.55" y1="166.18" x2="67.85" y2="166.18" stroke="#000" stroke-width="0.9"/>
<line x1="63.64999999999999" y1="164.16" x2="67.85" y2="164.16" stroke="#000" stroke-width="0.9"/>
<line x1="65.55" y1="162.14" x2="67.85" y2="162.14" stroke="#000" stroke-width="0.9"/>
<line x1="65.55" y1="160.12" x2="67.85" y2="160.12" stroke="#000" stroke-width="0.9"/>
<line x1="65.55" y1="158.1" x2="67.85" y2="158.1" stroke="#000" stroke-width="0.9"/>
<line x1="65.55" y1="156.08" x2="67.85" y2="156.08" stroke="#000" stroke-width="0.9"/>
<line x1="65.55" y1="154.06" x2="67.85" y2="154.06" stroke="#000" stroke-width="0.9"/>
<line x1="65.55" y1="152.04" x2="67.85" y2="152.04" stroke="#000" stroke-width="0.9"/>
<line x1="65.55" y1="150.02" x2="67.85" y2="150.02" stroke="#000" stroke-width="0.9"/>
<line x1="63.64999999999999" y1="148.0" x2="67.85" y2="148.0" stroke="#000" stroke-width="0.9"/>
<line x1="67.85" y1="228.8" x2="67.85" y2="233.0" stroke="#000" stroke-width="1.0"/>
<line x1="72.0391304347826" y1="228.8" x2="72.0391304347826" y2="231.10000000000002" stroke="#000" stroke-width="1.0"/>
<line x1="76.22826086956522" y1="228.8" x2="76.22826086956522" y2="231.10000000000002" stroke="#000" stroke-width="1.0"/>
<line x1="80.41739130434783" y1="228.8" x2="80.41739130434783" y2="231.10000000000002" stroke="#000" stroke-width="1.0"/>
<line x1="84.60652173913043" y1="228.8" x2="84.60652173913043" y2="231.10000000000002" stroke="#000" stroke-width="1.0"/>
<line x1="88.79565217391304" y1="228.8" x2="88.79565217391304" y2="233.0" stroke="#000" stroke-width="1.0"/>
<line x1="92.98478260869565" y1="228.8" x2="92.98478260869565" y2="231.10000000000002" stroke="#000" stroke-width="1.0"/>
<line x1="97.17391304347827" y1="228.8" x2="97.17391304347827" y2="231.10000000000002" stroke="#000" stroke-width="1.0"/>
<line x1="101.36304347826086" y1="228.8" x2="101.36304347826086" y2="231.10000000000002" stroke="#000" stroke-width="1.0"/>
<line x1="105.55217391304348" y1="228.8" x2="105.55217391304348" y2="233.0" stroke="#000" stroke-width="1.0"/>
<line x1="109.74130434782609" y1="228.8" x2="109.74130434782609" y2="231.10000000000002" stroke="#000" stroke-width="1.0"/>
<line x1="113.9304347826087" y1="228.8" x2="113.9304347826087" y2="231.10000000000002" stroke="#000" stroke-width="1.0"/>
<line x1="118.11956521739131" y1="228.8" x2="118.11956521739131" y2="231.10000000000002" stroke="#000" stroke-width="1.0"/>
<line x1="122.30869565217392" y1="228.8" x2="122.30869565217392" y2="231.10000000000002" stroke="#000" stroke-width="1.0"/>
<line x1="126.49782608695654" y1="228.8" x2="126.49782608695654" y2="233.0" stroke="#000" stroke-width="1.0"/>
<line x1="130.68695652173915" y1="228.8" x2="130.68695652173915" y2="231.10000000000002" stroke="#000" stroke-width="1.0"/>
<line x1="134.87608695652176" y1="228.8" x2="134.87608695652176" y2="231.10000000000002" stroke="#000" stroke-width="1.0"/>
<line x1="139.06521739130437" y1="228.8" x2="139.06521739130437" y2="231.10000000000002" stroke="#000" stroke-width="1.0"/>
<line x1="143.25434782608698" y1="228.8" x2="143.25434782608698" y2="233.0" stroke="#000" stroke-width="1.0"/>
<line x1="147.4434782608696" y1="228.8" x2="147.4434782608696" y2="231.10000000000002" stroke="#000" stroke-width="1.0"/>
<line x1="151.6326086956522" y1="228.8" x2="151.6326086956522" y2="231.10000000000002" stroke="#000" stroke-width="1.0"/>
<line x1="155.8217391304348" y1="228.8" x2="155.8217391304348" y2="231.10000000000002" stroke="#000" stroke-width="1.0"/>
<line x1="160.01086956521743" y1="228.8" x2="160.01086956521743" y2="231.10000000000002" stroke="#000" stroke-width="1.0"/>
<line x1="164.20000000000002" y1="228.8" x2="164.20000000000002" y2="233.0" stroke="#000" stroke-width="1.0"/>
<text x="62" y="151.7" style="font-family:'Liberation Serif',serif;font-weight:bold;stroke:#000;stroke-width:0.25px;font-size:9.5px" text-anchor="end" >1000</text>
<text x="61.5" y="231" style="font-family:'Liberation Serif',serif;font-weight:bold;stroke:#000;stroke-width:0.25px;font-size:9.5px" text-anchor="end" >0</text>
<text x="69" y="244" style="font-family:'Liberation Serif',serif;font-weight:bold;stroke:#000;stroke-width:0.25px;font-size:9.5px" text-anchor="middle" >0</text>
<text x="164.5" y="243.9" style="font-family:'Liberation Serif',serif;font-weight:bold;stroke:#000;stroke-width:0.25px;font-size:9.5px" text-anchor="middle" >1000</text>
<path d="M141 181h1M121 177h1M122 163h1M131 173h1M108 193h1M120 150h1M123 163h1M127 155h1M119 146h1M106 175h1M116 202h1M114 177h1M107 201h1M124 148h1M127 167h1M153 200h1M113 187h1M130 170h1M120 171h1M111 179h1M117 173h1M119 162h1M150 185h1M133 226h1M101 147h1M132 152h1M123 207h1M105 192h1M128 159h1M140 181h1M132 178h1M139 190h1M111 158h1M113 189h1M132 182h1M121 165h1M129 192h1M134 207h1M147 173h1M158 208h1M128 184h1M132 168h1M115 176h1M129 171h1M116 189h1M113 157h1M128 181h1M115 161h1M114 181h1M130 192h1M123 160h1M134 225h1M146 161h1M134 175h1M123 171h1M113 147h1M130 159h1M117 168h1M125 168h1M122 168h1M128 183h1M144 189h1M117 186h1M137 168h1M144 182h1M142 151h1M113 178h1M114 190h1M120 173h1M131 169h1M119 199h1M123 181h1M131 180h1M131 212h1M139 153h1M110 157h1M127 185h1M153 168h1M116 179h1M139 174h1M136 174h1M145 212h1M150 188h1M136 154h1M130 171h1M138 168h1M121 161h1M149 182h1M111 167h1M107 196h1M128 150h1M145 178h1M152 170h1M130 193h1M135 176h1M139 185h1M124 157h1M141 179h1M131 176h1M129 170h1M158 214h1M133 183h1M133 162h1M132 176h1M119 163h1M115 184h1M124 162h1M130 180h1M123 202h1M121 151h1M126 158h1M135 188h1M120 185h1M119 167h1M119 207h1M108 172h1M113 173h1M129 168h1M122 172h1M131 188h1M134 185h1M131 178h1M135 155h1M112 159h1M128 165h1M112 180h1M119 156h1M129 175h1M130 187h1M116 169h1M122 188h1M123 194h1M117 175h1M141 153h1M107 186h1M134 194h1M135 196h1M131 155h1M107 163h1M137 191h1M117 176h1M126 176h1M112 193h1M137 159h1M122 194h1M118 200h1M110 190h1M147 166h1M141 193h1M116 177h1M142 171h1M103 166h1M122 186h1M135 212h1M134 201h1M114 183h1M136 195h1M118 175h1M108 180h1M111 191h1M127 189h1M132 185h1M135 179h1M103 196h1M115 191h1M131 184h1M126 181h1M127 177h1M132 170h1M127 153h1M121 182h1M133 154h1M135 160h1M151 197h1M121 183h1M142 163h1M146 182h1M120 169h1M107 188h1M130 167h1M109 166h1M129 167h1M132 189h1M131 186h1M124 165h1M108 146h1M118 187h1M124 158h1M136 161h1M109 157h1M116 173h1M129 181h1M130 190h1M125 207h1M121 175h1M141 185h1M122 175h1M109 185h1M141 192h1M127 183h1M126 206h1M100 165h1M114 182h1M122 177h1M149 184h1M135 171h1M115 157h1M142 159h1M118 215h1M129 178h1M121 156h1M129 195h1M113 166h1M145 173h1M134 217h1M141 189h1M121 184h1M117 150h1M116 162h1M111 193h1M113 156h1M126 184h1M145 184h1M106 158h1M136 166h1M130 209h1M105 147h1M135 149h1M132 173h1M102 168h1M130 208h1M116 187h1M107 192h1M125 204h1M107 153h1M102 204h1M114 189h1M132 184h1M107 170h1M132 192h1M144 167h1M105 152h1M113 165h1M120 210h1M137 164h1M114 164h1M128 178h1M124 156h1M110 163h1M108 195h1M139 206h1M139 193h1M146 190h1M119 170h1M122 169h1M123 161h1M153 189h1M113 170h1M124 192h1M122 217h1M107 174h1M118 178h1M130 156h1M125 163h1M115 158h1M121 163h1M115 168h1M107 197h1M128 160h1M125 149h1M123 178h1M119 188h1M113 177h1M124 205h1M134 189h1M117 211h1M129 163h1M135 197h1M117 178h1M156 181h1M124 155h1M112 177h1M134 162h1M121 167h1M112 194h1M122 152h1M111 166h1M105 164h1M137 195h1M126 183h1M101 186h1M132 181h1M127 157h1M118 147h1M118 170h1M115 195h1M113 180h1M127 173h1M122 187h1M110 158h1M126 217h1M114 167h1M125 195h1M124 166h1M118 184h1M126 200h1M127 174h1M109 161h1M129 183h1M146 168h1M133 176h1M128 171h1M116 195h1M121 181h1M134 170h1M133 160h1M108 194h1M114 169h1M112 158h1M126 168h1M139 151h1M117 154h1M107 207h1M145 187h1M135 183h1M129 189h1M116 208h1M120 159h1M148 182h1M128 198h1M153 179h1M125 151h1M124 206h1M114 158h1M102 150h1M106 174h1M129 200h1M135 164h1M135 168h1M109 148h1M104 167h1M111 214h1M129 151h1M136 196h1M101 168h1M150 203h1M119 149h1M119 177h1M123 168h1M111 197h1M119 161h1M127 179h1M124 197h1M110 179h1M137 169h1M126 188h1M131 177h1M108 157h1M124 171h1M120 166h1M110 203h1M161 195h1M130 165h1M137 179h1M102 188h1M117 190h1M118 189h1M116 199h1M114 201h1M106 154h1M132 204h1M120 190h1M112 156h1M124 215h1M120 146h1M126 162h1M140 187h1M105 162h1M140 177h1M129 201h1M116 158h1M122 184h1M102 165h1M148 175h1M124 181h1M112 147h1M109 188h1M117 156h1M116 148h1M109 189h1M124 169h1M140 189h1M117 146h1M115 196h1M110 212h1M120 149h1M117 199h1M133 165h1M137 202h1M127 188h1M135 209h1M127 176h1M138 155h1M119 151h1M129 174h1M127 147h1M120 189h1M121 189h1M131 187h1M121 172h1M107 168h1M119 202h1M108 177h1M119 175h1M137 175h1M111 175h1M136 182h1M133 151h1M136 168h1M107 178h1M104 177h1M145 168h1M111 194h1M148 163h1M126 172h1M108 190h1M140 157h1M125 205h1M146 196h1M117 182h1M111 201h1M128 202h1M117 167h1M107 181h1M112 208h1M118 166h1M114 185h1M128 158h1M112 174h1M112 179h1M108 178h1M120 192h1M119 171h1M114 150h1M126 175h1M149 214h1M121 194h1M123 196h1M136 190h1M137 167h1M165 186h1M112 182h1M117 196h1M120 165h1M121 154h1M126 174h1M122 161h1M123 179h1M100 191h1M144 156h1M110 156h1M125 157h1M112 206h1M138 205h1M105 181h1M134 198h1M115 167h1M120 164h1M122 171h1M127 165h1M110 166h1M121 195h1M154 203h1M132 186h1M125 209h1M108 188h1M135 222h1M123 205h1M109 197h1M108 169h1M147 162h1M132 214h1M145 194h1M115 209h1M131 179h1M130 169h1M101 190h1M128 166h1M119 186h1M132 161h1M111 173h1M125 198h1M108 189h1M118 206h1M139 168h1M126 185h1M141 167h1M124 185h1M128 167h1M109 170h1M114 187h1M144 183h1M134 187h1M134 161h1M141 188h1M149 195h1M113 197h1M143 199h1M121 169h1M143 165h1M137 181h1M118 186h1M116 174h1M138 152h1M122 174h1M146 208h1M150 168h1M140 170h1M112 189h1M121 200h1M106 146h1M145 200h1M126 147h1M136 224h1M113 184h1M115 193h1M109 179h1M138 192h1M128 147h1M121 198h1M132 175h1M135 198h1M110 205h1M126 171h1M118 185h1M116 183h1M134 167h1M119 185h1M123 187h1M123 169h1M140 147h1M140 196h1M129 185h1M130 189h1M117 184h1M122 191h1M127 192h1M119 182h1M157 168h1M106 156h1M120 175h1M134 152h1M133 199h1M124 170h1M131 210h1M128 154h1M143 186h1M136 214h1M123 165h1M143 172h1M118 181h1M128 163h1M146 171h1M116 165h1M126 180h1M131 171h1M120 177h1M131 158h1M125 165h1M124 164h1M125 180h1M134 206h1M135 194h1M131 206h1M107 172h1M112 191h1M128 206h1M126 173h1M97 172h1M118 167h1M109 176h1M121 170h1M103 179h1M136 175h1M116 186h1M135 170h1M161 204h1M144 187h1M133 168h1M113 196h1M126 194h1M126 165h1M137 188h1M140 174h1M151 202h1M128 151h1M122 173h1M120 203h1M142 166h1M132 164h1M108 184h1M117 189h1M139 183h1M145 164h1M118 182h1M141 147h1M137 199h1M114 172h1M117 169h1M118 149h1M134 163h1M106 164h1M112 184h1M116 146h1M138 161h1M125 174h1M118 179h1M124 188h1M144 160h1M150 199h1M109 171h1M111 205h1M109 167h1M116 152h1M109 163h1M146 200h1M117 166h1M126 195h1M117 163h1M123 149h1M140 192h1M116 171h1M111 180h1M153 162h1M133 202h1M110 213h1M115 173h1M130 194h1M135 173h1M117 198h1M113 186h1M134 180h1M117 165h1M143 159h1M116 164h1M120 183h1M140 182h1M145 172h1M133 192h1M126 189h1M110 199h1M135 181h1M119 191h1M137 224h1M123 201h1M133 148h1M107 164h1M140 205h1M139 204h1M123 175h1M138 200h1M117 188h1M127 187h1M116 210h1M135 166h1M101 166h1M118 169h1M115 186h1M141 169h1M138 185h1M108 149h1M125 196h1M121 196h1M152 165h1M119 169h1M139 163h1M120 199h1M138 198h1M112 183h1M117 192h1M131 191h1M122 179h1M130 174h1M129 160h1M123 192h1M130 178h1M122 181h1M132 203h1M141 214h1M132 167h1M142 157h1M136 160h1M135 190h1M127 166h1M136 173h1M123 182h1M127 202h1M144 154h1M115 165h1M122 176h1M129 157h1M129 158h1M126 190h1M121 191h1M118 151h1M136 189h1M119 181h1M105 153h1M135 169h1M115 155h1M130 155h1M111 184h1M131 168h1M115 183h1M115 181h1M98 179h1M138 174h1M125 159h1M108 192h1M121 192h1M136 170h1M125 154h1M144 193h1M121 162h1M120 174h1M133 194h1M107 154h1M119 166h1M129 191h1M133 171h1M115 169h1M130 179h1M113 152h1M132 157h1M146 159h1M147 192h1M142 200h1M156 173h1M126 152h1M124 186h1M115 177h1M130 157h1M118 160h1M137 216h1M116 213h1M126 170h1M138 212h1M148 195h1M113 164h1M125 167h1M118 212h1M102 176h1M131 151h1M109 153h1M135 158h1M134 153h1M110 178h1M111 153h1M144 200h1M152 168h1M139 192h1M117 170h1M112 175h1M140 193h1M117 183h1M118 162h1M127 190h1M127 149h1M126 193h1M119 173h1M135 175h1M134 190h1M135 193h1M108 201h1M134 155h1M106 179h1M119 147h1M112 166h1M123 188h1M120 172h1M104 184h1M137 184h1M150 183h1M128 156h1M119 192h1M141 149h1M123 172h1M130 196h1M129 159h1M121 153h1M110 222h1M118 199h1M122 185h1M112 181h1M131 161h1M108 161h1M131 196h1M104 154h1M117 160h1M135 177h1M115 179h1M138 169h1M111 189h1M145 205h1M133 172h1M134 186h1M131 175h1M137 193h1M106 186h1M110 175h1M104 182h1M116 181h1M123 183h1M131 153h1M114 162h1M129 199h1M131 189h1M128 211h1M124 147h1M102 212h1M117 155h1M124 201h1M117 153h1M131 170h1M110 182h1M113 204h1M112 176h1M116 168h1M147 197h1M137 183h1M124 179h1M131 216h1M110 176h1M118 220h1M133 188h1M139 187h1M121 212h1M115 189h1M117 179h1M131 199h1M126 198h1M141 198h1M137 187h1M111 168h1M138 204h1M106 160h1M134 169h1M133 206h1M103 178h1M140 203h1M134 164h1M142 221h1M132 174h1M130 186h1M142 176h1M125 215h1M141 174h1M111 177h1M134 177h1M108 155h1M130 200h1M102 157h1M120 151h1M128 207h1M105 171h1M123 173h1M116 154h1M110 169h1M112 153h1M124 177h1M119 194h1M120 201h1M134 195h1M127 180h1M124 149h1M117 158h1M124 173h1M143 195h1M145 181h1M150 172h1M143 176h1M116 167h1M123 184h1M154 199h1M124 200h1M117 195h1M128 222h1M125 160h1M123 185h1M112 170h1M102 151h1M123 157h1M147 171h1M143 181h1M148 161h1M142 190h1M119 213h1M163 209h1M146 180h1M122 207h1M129 154h1M113 198h1M105 172h1M116 194h1M140 173h1M138 148h1M112 216h1M125 192h1M136 194h1M130 183h1M110 170h1M132 196h1M126 154h1M101 162h1M123 150h1M141 155h1M129 164h1M122 156h1M131 172h1M144 151h1M146 188h1M107 149h1M124 202h1M126 201h1M140 195h1M109 194h1M119 180h1M144 181h1M145 167h1M128 177h1M121 178h1M98 192h1M105 217h1M111 150h1M139 156h1M110 201h1M133 178h1M133 190h1M112 150h1M105 150h1M145 154h1M124 199h1M148 173h1M119 168h1M138 170h1M133 203h1M119 174h1M114 163h1M111 195h1M148 209h1M130 198h1M148 189h1M136 152h1M119 227h1M110 161h1M123 170h1M148 187h1M123 191h1M108 183h1M135 178h1M125 199h1M120 188h1M128 194h1M145 161h1M139 167h1M128 146h1M133 181h1M129 180h1M118 165h1M128 152h1M145 174h1M121 168h1M135 167h1M110 173h1M123 164h1M142 161h1M113 193h1M114 153h1M135 184h1M150 179h1M118 195h1M118 194h1M128 182h1M113 155h1M115 146h1M109 186h1M152 208h1M133 222h1M138 178h1M126 179h1M120 168h1M119 209h1M111 196h1M116 178h1M118 163h1M131 185h1M125 162h1M144 212h1M133 170h1M131 146h1M120 179h1M115 171h1M143 169h1M108 156h1M121 190h1M127 172h1M136 193h1M127 184h1M119 155h1M121 173h1M124 150h1M134 191h1M100 190h1M132 202h1M142 206h1M122 150h1M119 212h1M131 198h1M134 188h1M120 156h1M136 162h1M146 189h1M102 158h1M137 156h1M109 201h1M129 212h1M138 186h1M101 169h1M102 178h1M106 192h1M130 181h1M126 177h1M134 179h1M119 183h1M115 197h1M121 174h1M142 205h1M99 189h1M130 163h1M140 168h1M146 169h1M128 164h1M138 158h1M129 184h1M119 196h1M149 180h1M125 175h1M114 170h1M117 197h1M139 147h1M123 204h1M125 158h1M138 182h1M138 172h1M154 166h1M133 185h1M135 150h1M97 174h1M128 190h1M125 173h1M146 206h1M127 207h1M146 165h1M114 166h1M99 152h1M105 161h1M120 195h1M128 189h1M124 187h1M124 172h1M141 187h1M134 208h1M122 164h1M104 178h1M143 175h1M138 180h1M131 159h1M134 211h1M139 169h1M99 176h1M109 172h1M147 187h1M124 195h1M148 177h1M119 201h1M135 182h1M129 190h1M152 191h1M129 214h1M107 212h1M132 218h1M133 216h1M138 188h1M116 198h1M140 169h1M116 201h1M129 173h1M129 176h1M162 205h1M104 179h1M108 179h1M112 161h1M122 178h1M122 180h1M138 167h1M129 187h1M126 166h1M109 151h1M114 203h1M107 190h1M111 165h1M119 193h1M116 209h1M111 157h1M140 162h1M144 175h1M146 209h1M132 159h1M117 191h1M130 172h1M144 155h1M117 174h1M135 200h1M103 156h1M113 154h1M145 192h1M125 194h1M121 147h1M123 174h1M110 177h1M128 203h1M142 167h1M150 198h1M146 176h1M139 149h1M141 165h1M125 178h1M107 177h1M138 181h1M141 223h1M126 203h1M127 156h1M136 156h1M125 220h1M115 154h1M124 196h1M113 202h1M128 176h1M123 198h1M127 158h1M105 191h1M108 208h1M128 168h1M97 176h1M107 228h1M128 172h1M146 164h1M152 179h1M108 200h1M111 162h1M143 193h1M112 213h1M118 176h1M137 213h1M119 178h1M110 164h1M118 192h1M134 159h1M121 209h1M123 210h1M130 176h1M116 172h1M123 186h1M132 156h1M139 209h1M121 188h1M121 171h1M137 166h1M103 186h1M143 209h1M125 156h1M99 178h1M145 150h1M134 173h1M152 155h1M104 163h1M118 227h1M116 223h1M151 162h1M113 185h1M160 184h1M109 174h1M125 176h1M131 165h1M125 169h1M132 194h1M113 209h1M121 158h1M132 172h1M139 161h1M129 219h1M137 178h1M137 155h1M134 166h1M127 219h1M143 158h1M121 179h1M104 148h1M127 204h1M111 178h1M106 157h1M133 200h1M120 186h1M127 170h1M117 187h1M113 182h1M136 159h1M128 201h1M130 160h1M133 198h1M120 167h1M113 188h1M139 154h1M122 170h1M134 197h1M130 199h1M137 190h1M131 197h1M146 178h1M109 182h1M144 168h1M122 166h1M104 196h1M119 205h1M112 157h1M119 206h1M125 190h1M120 182h1M104 174h1M113 179h1M131 182h1M133 152h1M117 159h1M132 188h1M145 160h1M116 163h1M132 177h1M113 151h1M106 187h1M135 163h1M109 190h1M134 193h1M147 194h1M134 200h1M132 179h1M130 191h1M120 176h1M106 191h1M100 199h1M123 176h1M142 197h1M101 149h1M136 171h1M113 167h1M138 149h1M113 161h1M115 172h1M110 151h1M108 170h1M135 220h1M109 155h1M141 170h1M159 197h1M130 210h1M121 208h1M101 170h1M118 177h1M119 153h1M124 193h1M135 172h1M129 169h1M142 187h1M107 169h1M133 179h1M147 159h1M107 165h1M139 179h1M133 214h1M135 156h1M128 193h1M139 202h1M112 172h1M112 198h1M127 194h1M110 180h1M112 195h1M141 164h1M106 150h1M144 179h1M101 153h1M137 198h1M147 161h1M141 177h1M103 183h1M131 190h1M118 191h1M108 162h1M139 177h1M122 160h1M113 168h1M137 200h1M111 171h1M132 153h1M144 173h1M151 169h1M137 147h1M128 161h1M133 157h1M115 182h1M151 181h1M129 177h1M133 186h1M141 152h1M133 166h1M143 218h1M139 199h1M145 196h1M129 166h1M110 192h1M137 180h1M116 159h1M133 175h1M125 164h1M132 187h1M128 175h1M134 212h1M129 149h1M147 219h1M100 182h1M120 181h1M116 193h1M152 182h1M121 202h1M110 165h1M111 170h1M122 198h1M118 180h1M140 180h1M120 184h1M118 172h1M113 163h1M125 183h1M95 165h1M128 204h1M132 225h1M142 182h1M130 153h1M127 168h1M122 146h1M133 173h1M121 201h1M110 183h1M145 201h1M124 159h1M113 194h1M115 200h1M126 160h1M144 186h1M105 151h1M118 209h1M151 213h1M137 194h1M110 211h1M133 153h1M128 209h1M116 185h1M124 204h1M126 167h1M103 158h1M126 197h1M137 146h1M123 193h1M126 149h1M144 203h1M134 218h1M127 171h1M128 155h1M116 196h1M128 208h1M122 167h1M127 154h1M120 170h1M119 176h1M118 193h1M142 194h1M134 172h1M101 174h1M117 148h1M145 153h1M128 210h1M118 198h1M116 190h1M136 157h1M137 176h1M118 156h1M125 172h1M115 162h1M137 204h1M103 160h1M114 176h1M105 198h1M107 156h1M118 188h1M130 166h1M98 172h1M138 215h1M128 185h1M110 159h1M112 168h1M152 197h1M115 178h1M137 174h1M132 180h1M113 176h1M109 173h1M100 178h1M108 214h1M131 148h1M123 180h1M124 152h1M137 185h1M131 167h1M102 175h1M118 174h1M108 151h1M130 158h1M112 187h1M115 219h1M93 178h1M126 213h1M116 166h1M127 178h1M133 187h1M147 158h1M138 191h1M142 164h1M108 168h1M123 159h1M123 154h1M111 169h1M125 166h1M151 201h1M121 199h1M137 212h1M111 202h1M137 152h1M114 188h1M139 200h1M134 196h1M127 191h1M123 153h1M107 193h1M130 188h1M115 204h1M160 183h1M125 184h1M133 174h1M123 147h1M106 165h1M149 179h1M116 156h1M134 183h1M125 181h1M117 171h1M144 157h1M121 150h1M105 188h1M105 148h1M123 152h1M116 153h1M136 205h1M144 150h1M140 185h1M127 175h1M136 186h1M137 173h1M136 178h1M147 175h1M140 190h1M113 159h1M143 179h1M124 176h1M116 151h1M126 204h1M150 175h1M145 186h1M117 185h1M141 176h1M142 179h1M96 185h1M149 163h1M155 164h1M139 196h1M135 152h1M148 184h1M115 180h1M120 147h1M105 156h1M132 199h1M115 213h1M127 162h1M106 189h1M118 155h1M141 173h1M138 184h1M157 177h1M122 157h1M123 190h1M117 180h1M96 154h1M146 191h1M118 190h1M129 194h1M138 199h1M120 196h1M121 197h1M126 186h1M126 199h1M123 177h1M120 202h1M126 196h1M108 175h1M124 167h1M118 168h1M111 185h1M129 197h1M119 189h1M120 191h1M122 189h1M116 197h1M110 172h1M125 193h1M125 201h1M126 191h1M123 189h1M124 178h1M116 180h1M125 189h1M122 199h1M125 208h1M128 196h1M112 188h1M128 187h1M132 191h1M105 170h1M112 178h1M113 207h1M127 195h1M130 195h1M114 173h1M122 182h1M114 194h1M116 192h1M122 183h1M126 209h1M116 182h1M123 199h1M113 208h1M115 185h1M122 196h1M128 195h1M126 178h1M129 179h1M120 180h1M129 196h1M125 188h1M122 190h1M125 202h1M124 194h1M124 191h1M130 197h1M124 190h1M116 176h1M129 186h1M134 202h1M128 192h1M125 191h1M111 183h1M124 182h1M129 188h1M118 183h1M132 197h1M119 190h1M133 195h1M120 198h1M114 196h1M113 190h1M114 193h1M131 200h1M131 192h1M131 202h1M133 205h1M127 182h1M113 174h1M114 191h1M124 180h1M124 183h1M120 187h1M124 189h1M110 186h1M126 192h1M111 188h1M121 180h1M114 186h1M142 202h1M129 211h1M130 207h1M152 202h1M133 211h1M149 192h1M138 202h1M144 199h1M142 195h1M137 207h1M152 198h1M149 198h1M140 200h1M148 190h1M124 208h1M135 206h1M149 204h1M141 196h1M145 197h1M147 195h1M131 205h1M154 198h1M146 203h1M141 197h1M132 200h1M155 203h1M143 200h1M160 200h1M144 205h1M145 209h1M156 200h1M145 203h1M153 191h1M141 205h1M145 207h1M137 209h1M150 197h1M149 200h1M152 193h1M144 207h1M141 203h1M138 208h1M136 199h1M136 203h1M147 210h1M137 197h1M143 212h1M138 203h1M142 203h1M142 198h1M118 205h1M156 195h1M131 195h1M132 205h1M156 201h1M150 201h1M141 213h1M146 197h1M135 204h1M150 207h1M153 198h1M143 196h1M148 203h1M136 206h1M134 204h1M152 200h1M147 201h1M146 205h1M137 206h1M150 202h1M144 206h1M143 198h1M142 201h1M141 202h1M135 202h1M132 201h1M143 202h1M145 195h1M141 209h1M130 202h1M135 207h1M154 207h1M142 204h1M137 201h1M154 202h1M135 201h1M129 203h1M136 202h1M146 194h1M144 198h1M148 200h1M127 205h1M145 206h1M133 210h1M129 206h1M138 197h1M140 206h1M140 201h1M155 199h1M130 203h1M145 215h1M144 202h1M140 213h1M122 203h1M145 198h1M129 202h1M144 201h1M141 201h1M145 202h1M139 201h1M154 194h1M137 196h1M148 206h1M143 211h1M141 204h1M146 202h1M147 199h1M142 199h1M140 198h1M156 196h1M134 205h1M146 207h1M143 205h1M150 196h1M140 199h1M144 195h1M148 213h1M155 197h1M145 204h1M148 204h1M130 201h1M154 191h1M137 205h1M150 200h1M152 201h1M132 207h1M128 205h1M155 198h1M145 208h1M139 205h1M151 203h1M136 208h1M133 207h1M143 207h1M135 205h1M157 198h1M157 193h1M148 208h1M143 201h1M142 211h1M129 207h1M148 201h1M140 204h1M131 207h1M162 195h1M149 212h1M140 207h1M149 202h1M130 215h1M147 204h1M143 192h1M147 208h1M122 208h1M148 198h1M147 200h1M150 204h1M127 198h1M137 203h1M151 205h1M163 196h1M135 203h1M153 196h1M147 202h1M143 204h1M140 202h1M141 194h1M158 197h1M131 204h1M150 193h1M149 199h1M139 212h1M120 208h1M154 205h1M156 203h1M145 210h1M149 207h1M146 198h1M145 213h1M155 204h1M144 196h1M132 206h1M133 208h1M149 201h1M158 196h1M139 197h1M136 192h1M132 208h1M138 206h1M150 206h1M138 207h1M159 209h1M160 202h1M142 193h1M158 195h1M143 206h1M138 196h1M143 194h1M140 209h1M146 204h1M136 207h1M124 207h1M136 201h1M152 206h1M143 197h1M151 199h1M152 196h1M131 208h1M136 198h1M156 205h1M148 205h1M136 200h1M141 206h1M153 204h1M157 199h1M153 193h1M133 204h1M162 201h1M138 194h1M144 204h1M143 203h1M139 203h1M154 211h1M147 206h1M146 210h1M139 198h1M156 192h1M145 199h1M142 207h1M139 208h1M150 205h1M143 208h1M155 194h1M148 202h1M141 199h1M135 199h1M133 201h1M120 204h1M155 201h1M129 213h1M141 207h1M149 193h1M158 199h1M136 204h1M115 201h1M141 200h1M144 197h1M146 201h1M140 191h1M132 195h1M157 207h1M148 197h1M125 210h1M132 212h1M140 210h1M148 193h1M136 209h1M132 209h1M140 211h1M149 196h1M155 207h1M151 204h1M136 211h1M142 210h1M125 197h1M151 196h1M129 204h1M155 202h1M147 205h1M149 189h1M149 194h1M153 201h1M153 166h1M145 163h1M159 173h1M142 186h1M158 207h1M143 183h1M166 151h1M153 172h1M161 163h1M158 177h1M165 166h1M161 188h1M153 174h1M160 199h1M159 202h1M165 202h1M163 155h1M154 206h1M158 211h1M156 179h1M148 212h1M157 167h1M140 159h1M142 214h1M164 210h1M141 163h1M150 187h1M161 199h1M153 157h1M164 172h1M152 157h1M159 179h1M164 192h1M165 204h1M165 210h1M143 167h1M159 150h1M152 154h1M157 174h1M150 170h1M146 215h1M142 177h1M155 154h1M150 149h1M158 175h1M164 212h1M148 179h1M145 159h1M148 172h1M166 175h1M166 209h1M165 199h1M154 165h1M165 170h1M148 158h1M163 195h1M148 188h1M152 189h1M149 149h1M158 164h1M155 208h1M161 187h1M164 151h1M156 202h1M164 197h1M155 189h1M143 177h1M151 163h1M151 211h1M157 201h1M164 176h1M160 189h1M154 185h1M143 149h1M143 171h1M143 173h1M145 156h1M164 203h1M148 166h1M138 193h1M152 213h1M153 169h1M162 200h1M165 185h1M157 160h1M165 155h1M147 213h1M159 188h1M154 160h1M157 185h1M165 180h1M150 159h1M163 197h1M157 165h1M162 188h1M140 163h1M162 192h1M149 153h1M151 190h1M158 182h1M153 161h1M145 151h1M162 150h1M152 180h1M146 186h1M164 191h1M147 167h1M160 192h1M161 147h1M153 149h1M140 156h1M156 199h1M165 162h1M146 154h1M142 147h1M158 192h1M155 159h1M154 164h1M147 156h1M144 161h1M157 170h1M150 158h1M164 201h1M164 211h1M145 155h1M152 209h1M160 191h1M163 189h1M163 168h1M147 214h1M164 181h1M164 150h1M164 188h1M147 188h1M146 211h1M141 191h1M160 156h1M158 155h1M153 188h1M152 203h1M139 155h1M88 223h1M134 203h1M145 191h1M153 211h1M155 175h1M104 214h1M141 210h1M151 207h1M72 203h1M110 148h1M107 215h1M92 203h1M78 221h1M91 173h1M77 227h1M160 217h1M82 212h1M77 215h1M81 208h1M79 214h1M79 211h1M89 210h1M100 195h1M87 210h1M96 199h1M97 197h1M76 219h1M91 204h1M86 207h1M97 204h1M77 222h1M104 202h1M82 213h1M94 201h1M85 208h1M76 218h1M83 216h1M74 221h1M100 202h1M85 203h1M89 205h1M83 220h1M103 193h1M85 219h1M99 201h1M101 202h1M87 209h1M80 212h1M89 200h1M94 204h1M70 216h1M103 197h1M88 218h1M77 221h1M95 199h1M74 224h1M92 209h1M81 211h1M88 216h1M82 207h1" stroke="#000" stroke-width="1.0" fill="none" transform="translate(0 0.5)"/>
<text x="2.5" y="196" style="font-family:'Liberation Serif',serif;font-weight:bold;stroke:#000;stroke-width:0.25px;font-size:14.5px" text-anchor="start" >Sildenafil</text>
<text x="105.5" y="264.9" style="font-family:'Liberation Serif',serif;font-weight:bold;stroke:#000;stroke-width:0.25px;font-size:14.7px" text-anchor="start" >FSC</text>
<line x1="229.6" y1="29.7" x2="229.6" y2="114.2" stroke="#000" stroke-width="1.4"/>
<line x1="229.1" y1="113.7" x2="327.3" y2="113.7" stroke="#000" stroke-width="1.4"/>
<line x1="229.6" y1="29.7" x2="327.3" y2="29.7" stroke="#222" stroke-width="1.0"/>
<line x1="327.3" y1="29.7" x2="327.3" y2="113.7" stroke="#333" stroke-width="1.0"/>
<line x1="229.6" y1="113.7" x2="229.6" y2="117.7" stroke="#000" stroke-width="1.0"/>
<line x1="236.86234864539355" y1="113.7" x2="236.86234864539355" y2="116.0" stroke="#000" stroke-width="1.0"/>
<line x1="241.11055027011184" y1="113.7" x2="241.11055027011184" y2="116.0" stroke="#000" stroke-width="1.0"/>
<line x1="244.12469729078708" y1="113.7" x2="244.12469729078708" y2="116.0" stroke="#000" stroke-width="1.0"/>
<line x1="246.46265135460646" y1="113.7" x2="246.46265135460646" y2="116.0" stroke="#000" stroke-width="1.0"/>
<line x1="248.3728989155054" y1="113.7" x2="248.3728989155054" y2="116.0" stroke="#000" stroke-width="1.0"/>
<line x1="249.98799021534393" y1="113.7" x2="249.98799021534393" y2="116.0" stroke="#000" stroke-width="1.0"/>
<line x1="251.38704593618064" y1="113.7" x2="251.38704593618064" y2="116.0" stroke="#000" stroke-width="1.0"/>
<line x1="252.62110054022372" y1="113.7" x2="252.62110054022372" y2="116.0" stroke="#000" stroke-width="1.0"/>
<line x1="253.725" y1="113.7" x2="253.725" y2="117.7" stroke="#000" stroke-width="1.0"/>
<line x1="260.9873486453935" y1="113.7" x2="260.9873486453935" y2="116.0" stroke="#000" stroke-width="1.0"/>
<line x1="265.23555027011184" y1="113.7" x2="265.23555027011184" y2="116.0" stroke="#000" stroke-width="1.0"/>
<line x1="268.2496972907871" y1="113.7" x2="268.2496972907871" y2="116.0" stroke="#000" stroke-width="1.0"/>
<line x1="270.58765135460646" y1="113.7" x2="270.58765135460646" y2="116.0" stroke="#000" stroke-width="1.0"/>
<line x1="272.4978989155054" y1="113.7" x2="272.4978989155054" y2="116.0" stroke="#000" stroke-width="1.0"/>
<line x1="274.1129902153439" y1="113.7" x2="274.1129902153439" y2="116.0" stroke="#000" stroke-width="1.0"/>
<line x1="275.51204593618064" y1="113.7" x2="275.51204593618064" y2="116.0" stroke="#000" stroke-width="1.0"/>
<line x1="276.7461005402237" y1="113.7" x2="276.7461005402237" y2="116.0" stroke="#000" stroke-width="1.0"/>
<line x1="277.85" y1="113.7" x2="277.85" y2="117.7" stroke="#000" stroke-width="1.0"/>
<line x1="285.1123486453936" y1="113.7" x2="285.1123486453936" y2="116.0" stroke="#000" stroke-width="1.0"/>
<line x1="289.36055027011184" y1="113.7" x2="289.36055027011184" y2="116.0" stroke="#000" stroke-width="1.0"/>
<line x1="292.3746972907871" y1="113.7" x2="292.3746972907871" y2="116.0" stroke="#000" stroke-width="1.0"/>
<line x1="294.71265135460646" y1="113.7" x2="294.71265135460646" y2="116.0" stroke="#000" stroke-width="1.0"/>
<line x1="296.6228989155054" y1="113.7" x2="296.6228989155054" y2="116.0" stroke="#000" stroke-width="1.0"/>
<line x1="298.237990215344" y1="113.7" x2="298.237990215344" y2="116.0" stroke="#000" stroke-width="1.0"/>
<line x1="299.63704593618064" y1="113.7" x2="299.63704593618064" y2="116.0" stroke="#000" stroke-width="1.0"/>
<line x1="300.8711005402237" y1="113.7" x2="300.8711005402237" y2="116.0" stroke="#000" stroke-width="1.0"/>
<line x1="301.975" y1="113.7" x2="301.975" y2="117.7" stroke="#000" stroke-width="1.0"/>
<line x1="309.2373486453936" y1="113.7" x2="309.2373486453936" y2="116.0" stroke="#000" stroke-width="1.0"/>
<line x1="313.48555027011184" y1="113.7" x2="313.48555027011184" y2="116.0" stroke="#000" stroke-width="1.0"/>
<line x1="316.4996972907871" y1="113.7" x2="316.4996972907871" y2="116.0" stroke="#000" stroke-width="1.0"/>
<line x1="318.83765135460646" y1="113.7" x2="318.83765135460646" y2="116.0" stroke="#000" stroke-width="1.0"/>
<line x1="320.7478989155054" y1="113.7" x2="320.7478989155054" y2="116.0" stroke="#000" stroke-width="1.0"/>
<line x1="322.362990215344" y1="113.7" x2="322.362990215344" y2="116.0" stroke="#000" stroke-width="1.0"/>
<line x1="323.76204593618064" y1="113.7" x2="323.76204593618064" y2="116.0" stroke="#000" stroke-width="1.0"/>
<line x1="324.9961005402237" y1="113.7" x2="324.9961005402237" y2="116.0" stroke="#000" stroke-width="1.0"/>
<line x1="326.1" y1="113.7" x2="326.1" y2="117.7" stroke="#000" stroke-width="1.0"/>
<line x1="225.6" y1="113.7" x2="229.6" y2="113.7" stroke="#000" stroke-width="1.0"/>
<line x1="227.29999999999998" y1="107.56651383834638" x2="229.6" y2="107.56651383834638" stroke="#000" stroke-width="1.0"/>
<line x1="227.29999999999998" y1="103.97865443508688" x2="229.6" y2="103.97865443508688" stroke="#000" stroke-width="1.0"/>
<line x1="227.29999999999998" y1="101.43302767669277" x2="229.6" y2="101.43302767669277" stroke="#000" stroke-width="1.0"/>
<line x1="227.29999999999998" y1="99.45848616165362" x2="229.6" y2="99.45848616165362" stroke="#000" stroke-width="1.0"/>
<line x1="227.29999999999998" y1="97.84516827343326" x2="229.6" y2="97.84516827343326" stroke="#000" stroke-width="1.0"/>
<line x1="227.29999999999998" y1="96.48112743470952" x2="229.6" y2="96.48112743470952" stroke="#000" stroke-width="1.0"/>
<line x1="227.29999999999998" y1="95.29954151503915" x2="229.6" y2="95.29954151503915" stroke="#000" stroke-width="1.0"/>
<line x1="227.29999999999998" y1="94.25730887017376" x2="229.6" y2="94.25730887017376" stroke="#000" stroke-width="1.0"/>
<line x1="225.6" y1="93.325" x2="229.6" y2="93.325" stroke="#000" stroke-width="1.0"/>
<line x1="227.29999999999998" y1="87.19151383834638" x2="229.6" y2="87.19151383834638" stroke="#000" stroke-width="1.0"/>
<line x1="227.29999999999998" y1="83.60365443508688" x2="229.6" y2="83.60365443508688" stroke="#000" stroke-width="1.0"/>
<line x1="227.29999999999998" y1="81.05802767669277" x2="229.6" y2="81.05802767669277" stroke="#000" stroke-width="1.0"/>
<line x1="227.29999999999998" y1="79.08348616165362" x2="229.6" y2="79.08348616165362" stroke="#000" stroke-width="1.0"/>
<line x1="227.29999999999998" y1="77.47016827343327" x2="229.6" y2="77.47016827343327" stroke="#000" stroke-width="1.0"/>
<line x1="227.29999999999998" y1="76.10612743470952" x2="229.6" y2="76.10612743470952" stroke="#000" stroke-width="1.0"/>
<line x1="227.29999999999998" y1="74.92454151503915" x2="229.6" y2="74.92454151503915" stroke="#000" stroke-width="1.0"/>
<line x1="227.29999999999998" y1="73.88230887017376" x2="229.6" y2="73.88230887017376" stroke="#000" stroke-width="1.0"/>
<line x1="225.6" y1="72.95" x2="229.6" y2="72.95" stroke="#000" stroke-width="1.0"/>
<line x1="227.29999999999998" y1="66.81651383834638" x2="229.6" y2="66.81651383834638" stroke="#000" stroke-width="1.0"/>
<line x1="227.29999999999998" y1="63.22865443508688" x2="229.6" y2="63.22865443508688" stroke="#000" stroke-width="1.0"/>
<line x1="227.29999999999998" y1="60.68302767669277" x2="229.6" y2="60.68302767669277" stroke="#000" stroke-width="1.0"/>
<line x1="227.29999999999998" y1="58.708486161653624" x2="229.6" y2="58.708486161653624" stroke="#000" stroke-width="1.0"/>
<line x1="227.29999999999998" y1="57.09516827343326" x2="229.6" y2="57.09516827343326" stroke="#000" stroke-width="1.0"/>
<line x1="227.29999999999998" y1="55.73112743470952" x2="229.6" y2="55.73112743470952" stroke="#000" stroke-width="1.0"/>
<line x1="227.29999999999998" y1="54.54954151503915" x2="229.6" y2="54.54954151503915" stroke="#000" stroke-width="1.0"/>
<line x1="227.29999999999998" y1="53.50730887017376" x2="229.6" y2="53.50730887017376" stroke="#000" stroke-width="1.0"/>
<line x1="225.6" y1="52.575" x2="229.6" y2="52.575" stroke="#000" stroke-width="1.0"/>
<line x1="227.29999999999998" y1="46.44151383834638" x2="229.6" y2="46.44151383834638" stroke="#000" stroke-width="1.0"/>
<line x1="227.29999999999998" y1="42.85365443508688" x2="229.6" y2="42.85365443508688" stroke="#000" stroke-width="1.0"/>
<line x1="227.29999999999998" y1="40.30802767669276" x2="229.6" y2="40.30802767669276" stroke="#000" stroke-width="1.0"/>
<line x1="227.29999999999998" y1="38.333486161653624" x2="229.6" y2="38.333486161653624" stroke="#000" stroke-width="1.0"/>
<line x1="227.29999999999998" y1="36.72016827343326" x2="229.6" y2="36.72016827343326" stroke="#000" stroke-width="1.0"/>
<line x1="227.29999999999998" y1="35.35612743470952" x2="229.6" y2="35.35612743470952" stroke="#000" stroke-width="1.0"/>
<line x1="227.29999999999998" y1="34.17454151503915" x2="229.6" y2="34.17454151503915" stroke="#000" stroke-width="1.0"/>
<line x1="227.29999999999998" y1="33.13230887017376" x2="229.6" y2="33.13230887017376" stroke="#000" stroke-width="1.0"/>
<line x1="225.6" y1="32.2" x2="229.6" y2="32.2" stroke="#000" stroke-width="1.0"/>
<line x1="275.1" y1="29.7" x2="275.1" y2="113.7" stroke="#222" stroke-width="1.1"/>
<line x1="229.6" y1="79.3" x2="327.3" y2="79.3" stroke="#000" stroke-width="1.1"/>
<text x="224" y="34.3" style="font-family:'Liberation Serif',serif;font-weight:bold;stroke:#000;stroke-width:0.25px;font-size:10.1px" text-anchor="end">10<tspan dy="-3.7" style="font-size:8.9px">4</tspan></text>
<text x="224.5" y="117" style="font-family:'Liberation Serif',serif;font-weight:bold;stroke:#000;stroke-width:0.25px;font-size:10.1px" text-anchor="end">10<tspan dy="-3.7" style="font-size:8.9px">0</tspan></text>
<text x="232" y="131" style="font-family:'Liberation Serif',serif;font-weight:bold;stroke:#000;stroke-width:0.25px;font-size:10.1px" text-anchor="middle">10<tspan dy="-3.7" style="font-size:8.9px">0</tspan></text>
<text x="326" y="132.5" style="font-family:'Liberation Serif',serif;font-weight:bold;stroke:#000;stroke-width:0.25px;font-size:10.1px" text-anchor="middle">10<tspan dy="-3.7" style="font-size:8.9px">4</tspan></text>
<path d="M254 97h1M257 105h1M239 101h1M231 88h1M263 103h1M244 97h1M241 96h1M231 97h1M259 99h1M254 95h1M243 101h1M232 101h1M251 106h1M230 94h1M260 99h1M241 100h1M237 98h1M241 98h1M246 107h1M250 102h1M247 103h1M236 102h1M231 92h1M251 97h1M246 99h1M234 103h1M236 96h1M236 98h1M261 96h1M257 108h1M250 107h1M258 108h1M254 108h1M262 93h1M247 108h1M244 98h1M256 103h1M234 97h1M250 98h1M259 91h1M264 86h1M243 97h1M238 101h1M260 100h1M251 104h1M251 102h1M251 100h1M248 97h1M240 99h1M243 109h1M233 96h1M240 97h1M240 103h1M234 99h1M257 101h1M251 105h1M230 98h1M236 92h1M260 104h1M243 86h1M264 105h1M249 97h1M247 97h1M257 100h1M255 92h1M261 91h1M256 88h1M239 98h1M247 96h1M251 87h1M253 103h1M251 96h1M259 102h1M234 102h1M245 104h1M260 97h1M238 102h1M256 98h1M243 110h1M250 108h1M250 105h1M233 100h1M262 99h1M233 107h1M254 101h1M253 101h1M237 100h1M256 100h1M241 99h1M251 107h1M256 97h1M241 92h1M247 105h1M262 106h1M240 105h1M243 96h1M255 100h1M254 91h1M262 100h1M251 101h1M247 104h1M236 104h1M235 100h1M255 106h1M242 100h1M237 102h1M263 108h1M251 111h1M263 91h1M264 98h1M251 93h1M255 101h1M261 101h1M256 92h1M235 101h1M261 95h1M237 93h1M257 99h1M233 98h1M250 103h1M245 96h1M231 94h1M264 93h1M237 99h1M257 111h1M237 94h1M253 99h1M248 92h1M252 99h1M249 95h1M230 102h1M233 94h1M259 96h1M249 96h1M244 100h1M263 99h1M252 98h1M231 107h1M239 87h1M253 105h1M248 93h1M258 107h1M245 101h1M233 91h1M254 93h1M254 98h1M230 96h1M250 101h1M249 100h1M240 109h1M234 88h1M253 95h1M256 108h1M241 103h1M234 105h1M241 95h1M264 100h1M264 102h1M231 103h1M257 98h1M246 105h1M238 96h1M247 102h1M246 100h1M252 97h1M262 102h1M237 104h1M252 94h1M258 106h1M256 106h1M238 104h1M259 104h1M244 106h1M232 95h1M237 106h1M255 98h1M232 108h1M249 108h1M244 86h1M259 106h1M259 103h1M240 96h1M237 95h1M237 101h1M259 95h1M231 96h1M236 97h1M261 107h1M259 97h1M245 105h1M246 97h1M230 100h1M255 104h1M258 104h1M252 104h1M242 99h1M249 103h1M250 99h1M246 88h1M230 90h1M252 95h1M250 112h1M235 97h1M256 112h1M240 104h1M262 97h1M258 98h1M232 100h1M254 94h1M254 99h1M252 103h1M257 107h1M245 107h1M253 104h1M260 102h1M260 105h1M249 102h1M248 98h1M250 92h1M239 97h1M249 106h1M258 100h1M246 92h1M255 102h1M249 105h1M243 99h1M231 93h1M244 101h1M249 104h1M242 101h1M244 99h1M241 90h1M242 91h1M253 94h1M262 92h1M250 100h1M249 93h1M232 104h1M252 102h1M231 110h1M248 91h1M236 99h1M259 107h1M252 100h1M243 95h1M260 91h1M262 96h1M239 99h1M235 89h1M264 97h1M238 100h1M244 102h1M231 98h1M240 107h1M245 90h1M257 104h1M244 93h1M250 97h1M244 103h1M261 98h1M249 101h1M234 98h1M258 93h1M237 112h1M235 102h1M258 103h1M238 90h1M248 102h1M255 93h1M235 104h1M239 95h1M245 110h1M260 93h1M261 89h1M260 103h1M248 94h1M255 103h1M252 88h1M247 112h1M231 106h1M235 99h1M237 96h1M248 106h1M262 107h1M252 106h1M249 90h1M248 103h1M253 97h1M256 105h1M236 103h1M259 105h1M263 105h1M240 101h1M244 108h1M258 110h1M259 92h1M258 95h1M244 105h1M233 102h1M255 111h1M243 105h1M233 93h1M253 100h1M260 109h1M230 108h1M244 92h1M239 100h1M245 92h1M241 101h1M258 101h1M260 96h1M247 94h1M236 109h1M248 96h1M251 95h1M231 95h1M258 111h1M239 105h1M238 109h1M239 82h1M256 99h1M245 106h1M253 106h1M232 103h1M258 92h1M233 95h1M240 87h1M262 105h1M245 94h1M249 99h1M246 93h1M246 103h1M241 108h1M258 102h1M233 97h1M252 96h1M249 98h1M256 104h1M233 106h1M232 99h1M232 109h1M252 92h1M241 104h1M257 110h1M254 112h1M249 110h1M257 109h1M262 108h1M248 95h1M246 102h1M260 108h1M234 94h1M254 105h1M238 111h1M240 92h1M242 107h1M234 100h1M235 105h1M236 94h1M241 97h1M249 92h1M254 88h1M256 102h1M246 109h1M232 102h1M250 104h1M262 85h1M244 95h1M241 94h1M248 110h1M260 101h1M230 89h1M232 93h1M232 89h1M261 103h1M251 98h1M252 108h1M240 110h1M247 100h1M245 97h1M234 104h1M238 99h1M230 84h1M246 90h1M234 95h1M258 97h1M238 98h1M260 94h1M259 98h1M257 91h1M250 94h1M236 95h1M232 105h1M245 98h1M237 103h1M247 101h1M253 98h1M250 90h1M232 107h1M240 98h1M249 107h1M260 106h1M263 98h1M241 89h1M237 105h1M261 104h1M244 96h1M242 94h1M253 102h1M248 100h1M251 110h1M256 95h1M246 91h1M262 103h1M239 109h1M242 96h1M245 100h1M262 111h1M254 96h1M232 98h1M261 111h1M252 91h1M242 97h1M263 100h1M250 93h1M236 100h1M235 108h1M263 101h1M247 91h1M230 103h1M264 109h1M254 100h1M262 104h1M260 98h1M264 103h1M248 90h1M263 92h1M261 108h1M261 106h1M234 107h1M240 111h1M241 109h1M242 105h1M259 109h1M257 103h1M238 103h1M251 99h1M239 92h1M263 97h1M243 106h1M235 98h1M232 87h1M240 100h1M246 106h1M252 101h1M233 105h1M241 102h1M241 110h1M262 95h1M245 89h1M243 104h1M253 93h1M244 94h1M260 111h1M240 102h1M232 88h1M263 96h1M257 97h1M242 98h1M264 101h1M261 105h1M235 103h1M233 104h1M255 94h1M240 95h1M259 110h1M238 108h1M260 95h1M261 88h1M262 101h1M252 87h1M235 95h1M232 96h1M232 90h1M254 90h1M261 102h1M252 105h1M264 95h1M247 99h1M256 96h1M251 108h1M243 102h1M240 89h1M255 95h1M260 84h1M244 111h1M234 90h1M243 107h1M238 107h1M255 96h1M239 93h1M257 85h1M239 106h1M239 89h1M247 98h1M236 101h1M254 102h1M235 110h1M230 97h1M261 109h1M261 97h1M252 107h1M260 90h1M246 94h1M246 96h1M235 106h1M247 106h1M238 94h1M263 93h1M231 104h1M238 91h1M238 89h1M235 109h1M234 93h1M255 107h1M242 104h1M245 103h1M263 94h1M240 94h1M242 106h1M257 102h1M250 91h1M264 91h1M239 111h1M233 103h1M238 105h1M247 111h1M242 102h1M233 92h1M251 92h1M234 96h1M256 93h1M263 104h1M234 84h1M245 99h1M248 105h1M261 100h1M236 107h1M239 104h1M237 82h1M244 112h1M233 87h1M262 94h1M252 89h1M264 108h1M248 108h1M253 96h1M247 107h1M250 87h1M258 96h1M235 93h1M231 102h1M245 108h1M251 103h1M239 107h1M242 89h1M256 94h1M254 104h1M260 107h1M263 110h1M236 88h1M231 99h1M249 91h1M247 89h1M243 91h1M234 109h1M237 97h1M241 105h1M245 91h1M239 96h1M257 95h1M237 87h1M239 85h1M248 111h1M247 95h1M251 94h1M242 108h1M231 105h1M241 88h1M256 109h1M264 99h1M260 110h1M236 106h1M231 100h1M242 93h1M239 102h1M259 89h1M254 107h1M257 92h1M231 101h1M263 95h1M242 92h1M258 99h1M237 113h1M253 111h1M250 96h1M237 107h1M233 99h1M256 90h1M239 108h1M239 110h1M255 105h1M243 100h1M248 99h1M237 92h1M238 95h1M235 96h1M263 89h1M234 101h1M243 98h1M258 94h1M243 108h1M232 111h1M233 101h1M240 93h1M257 94h1M242 103h1M235 87h1M263 102h1M240 90h1M264 94h1M255 97h1M258 105h1M264 110h1M233 108h1M261 92h1M255 87h1M241 93h1M242 95h1M246 108h1M241 107h1M234 106h1M243 111h1M259 93h1M254 92h1M251 109h1M262 112h1M262 80h1M248 104h1M248 85h1M261 99h1M249 109h1M259 108h1M243 112h1M238 97h1M230 95h1M246 110h1M255 99h1M253 108h1M245 95h1M247 109h1M246 101h1M257 93h1M263 107h1M238 106h1M241 111h1M256 101h1M251 91h1M261 87h1M260 92h1M239 103h1M255 109h1M250 106h1M252 111h1M259 90h1M246 95h1M243 93h1M255 112h1M245 93h1M257 96h1M255 91h1M241 106h1M237 109h1M258 90h1M233 110h1M257 106h1M231 112h1M238 93h1M262 98h1M234 108h1M240 108h1M262 109h1M244 87h1M235 91h1M255 88h1M242 110h1M245 88h1M248 88h1M232 94h1M235 111h1M245 102h1M238 88h1M237 89h1M257 88h1M244 104h1M236 90h1M231 111h1M244 109h1M237 91h1M254 103h1M243 94h1M236 93h1M235 107h1M246 98h1M235 92h1M247 93h1M247 90h1M253 109h1M236 91h1M246 104h1M242 88h1M267 100h1M266 104h1M269 92h1M268 94h1M278 94h1M270 86h1M264 96h1M272 109h1M273 102h1M268 99h1M266 100h1M268 92h1M276 97h1M271 101h1M266 105h1M270 110h1M275 94h1M264 89h1M271 103h1M271 96h1M270 100h1M271 107h1M272 100h1M284 98h1M276 106h1M266 102h1M250 89h1M275 108h1M268 110h1M255 90h1M266 95h1M280 102h1M272 93h1M267 92h1M269 90h1M259 94h1M269 112h1M265 103h1M268 103h1M272 98h1M270 104h1M276 85h1M269 95h1M269 102h1M269 96h1M267 88h1M271 110h1M269 101h1M272 105h1M259 112h1M269 94h1M268 100h1M268 97h1M264 104h1M270 99h1M270 102h1M272 103h1M273 90h1M277 95h1M267 96h1M282 86h1M268 88h1M276 94h1M270 91h1M270 107h1M255 83h1M268 112h1M266 106h1M266 93h1M278 103h1M267 98h1M264 92h1M272 97h1M276 103h1M265 93h1M274 99h1M278 88h1M266 103h1M270 84h1M277 105h1M277 103h1M267 81h1M268 91h1M269 104h1M286 90h1M274 105h1M264 106h1M277 97h1M278 102h1M268 108h1M279 104h1M277 94h1M271 98h1M271 95h1M267 97h1M254 106h1M263 111h1M270 101h1M267 104h1M270 94h1M269 98h1M258 91h1M265 105h1M270 106h1M275 99h1M265 95h1M260 89h1M278 106h1M272 95h1M273 104h1M258 88h1M268 107h1M271 93h1M281 103h1M270 95h1M279 102h1M272 94h1M259 100h1M266 90h1M268 109h1M265 106h1M277 102h1M272 90h1M267 87h1M267 93h1M275 104h1M279 87h1M269 82h1M266 94h1M271 102h1M274 90h1M256 87h1M276 108h1M278 101h1M271 108h1M276 98h1M265 99h1M271 97h1M263 84h1M271 106h1M263 106h1M266 96h1M273 107h1M265 98h1M251 89h1M265 102h1M274 108h1M253 107h1M275 102h1M274 86h1M243 92h1M262 87h1M267 103h1M273 89h1M271 91h1M264 111h1M268 98h1M265 88h1M270 98h1M266 101h1M268 111h1M273 105h1M268 102h1M269 108h1M306 101h1M300 106h1M311 89h1M310 110h1M303 102h1M306 97h1M303 92h1M302 92h1M305 97h1M304 100h1M309 86h1M307 91h1M311 100h1M307 106h1M310 89h1M306 93h1M312 91h1M308 96h1M311 97h1M304 110h1M304 94h1M304 98h1M314 104h1M305 99h1M306 100h1M304 95h1M307 100h1M305 108h1M310 101h1M301 106h1M312 87h1M308 95h1M311 83h1M304 99h1M305 105h1M311 93h1M308 87h1M297 104h1M305 112h1M306 113h1M312 90h1M306 98h1M310 105h1M310 91h1M298 95h1M305 94h1M308 99h1M305 103h1M300 101h1M305 95h1M303 91h1M313 106h1M306 92h1M305 88h1M305 104h1M303 84h1M310 93h1M306 112h1M308 100h1M305 89h1M309 92h1M308 112h1M308 109h1M303 93h1M310 112h1M308 93h1M309 105h1M305 81h1M308 86h1M306 106h1M310 95h1M301 99h1M306 107h1M307 108h1M306 90h1M308 98h1M306 88h1M307 101h1M307 75h1M300 89h1M305 93h1M304 92h1M303 98h1M307 97h1M303 97h1M304 102h1M302 93h1M309 87h1M300 74h1M305 100h1M305 102h1M306 94h1M302 102h1M309 94h1M305 101h1M311 103h1M310 84h1M311 101h1M309 102h1M307 104h1M311 96h1M306 95h1M302 106h1M308 110h1M307 111h1M310 82h1M314 106h1M309 93h1M309 111h1M296 103h1M303 106h1M302 104h1M303 105h1M303 103h1M307 86h1M307 102h1M306 96h1M309 98h1M307 98h1M304 93h1M308 83h1M303 100h1M308 79h1M306 104h1M304 104h1M304 89h1M301 100h1M305 85h1M301 107h1M305 98h1M303 99h1M303 109h1M306 86h1M314 92h1M305 91h1M300 110h1M304 97h1M306 105h1M306 102h1M312 97h1M308 101h1M312 89h1M299 102h1M309 97h1M309 90h1M301 108h1M313 88h1M304 86h1M311 94h1M299 99h1M307 103h1M299 91h1M301 95h1M300 97h1M307 105h1M307 89h1M308 106h1M309 101h1M307 95h1M307 81h1M304 90h1M311 104h1M307 96h1M313 102h1M302 110h1M310 87h1M310 94h1M302 96h1M304 88h1M304 91h1M303 95h1M304 109h1M308 108h1M302 109h1M301 105h1M308 102h1M306 91h1M307 77h1M303 111h1M300 109h1M308 88h1M306 99h1M308 111h1M303 90h1M301 94h1M307 110h1M307 94h1M302 108h1M305 82h1M303 89h1M310 97h1M303 94h1M308 90h1M310 98h1M309 95h1M308 103h1M307 84h1M303 104h1M297 100h1M301 92h1M306 108h1M313 86h1M310 103h1M303 112h1M310 86h1M309 110h1M310 109h1M310 102h1M302 91h1M309 81h1M309 109h1M311 90h1M310 80h1M307 107h1M304 112h1M306 82h1M306 111h1M305 107h1M312 102h1M309 106h1M303 88h1M306 89h1M302 88h1M307 112h1M316 106h1M304 106h1M304 96h1M309 104h1M301 102h1M313 91h1M307 76h1M303 101h1M312 99h1M304 101h1M310 100h1M300 99h1M305 110h1M309 107h1M307 109h1M308 113h1M306 109h1M311 108h1M310 92h1M299 97h1M304 105h1M299 94h1M311 91h1M305 92h1M311 109h1M306 83h1M305 86h1M305 96h1M301 110h1M296 101h1M307 93h1M302 89h1M308 97h1M302 112h1M299 100h1M309 100h1M302 87h1M307 49h1M311 45h1M301 66h1M300 75h1M303 57h1M304 56h1M302 58h1M302 65h1M310 49h1M307 52h1M300 67h1M308 42h1M304 46h1M297 77h1M300 65h1M316 40h1M299 71h1M312 40h1M298 72h1M304 55h1M311 35h1M306 52h1M303 49h1M305 43h1M303 70h1M306 44h1M310 46h1M309 35h1M298 77h1M299 65h1M300 70h1M296 65h1M309 52h1M312 48h1M299 78h1M296 75h1M305 58h1M307 41h1M295 77h1M303 66h1M297 69h1M313 37h1M311 39h1M305 48h1M308 45h1M307 40h1M303 65h1M313 40h1M305 67h1M311 37h1M303 56h1M308 41h1M308 59h1M304 54h1M309 47h1M312 36h1M298 71h1M301 63h1M309 38h1M302 66h1M300 68h1M307 55h1M299 73h1M303 47h1M299 69h1M301 68h1M302 68h1M300 62h1M304 60h1M302 64h1M307 64h1M310 35h1M308 51h1M300 66h1M300 63h1M310 45h1M304 62h1M304 42h1M308 47h1M303 59h1M305 54h1M298 67h1M306 60h1M294 69h1M298 75h1M308 37h1M305 44h1M299 60h1M294 77h1M300 69h1M300 53h1M307 48h1M311 36h1M301 59h1M311 44h1M302 67h1M271 32h1M262 32h1M273 31h1M262 33h1M274 32h1M268 32h1M267 33h1M276 32h1M271 31h1M276 31h1M263 33h1M265 31h1M275 31h1M311 32h1M299 31h1M300 33h1M301 31h1M297 31h1M298 31h1M316 32h1M293 33h1M318 31h1M317 32h1M304 32h1M298 33h1M314 33h1M307 33h1M313 33h1M302 31h1M296 31h1M296 32h1M295 33h1M303 33h1M312 33h1M309 31h1M310 31h1M298 32h1M295 32h1M305 32h1M304 31h1M316 31h1M299 33h1M293 32h1M315 33h1M308 32h1M301 33h1M309 33h1M311 33h1M312 32h1M308 31h1M313 31h1M306 33h1M314 32h1M305 33h1M300 32h1M295 31h1M303 32h1M297 33h1M297 32h1M296 33h1M313 32h1M317 31h1M303 31h1M310 33h1M293 31h1M317 33h1M302 32h1M295 85h1M283 92h1M285 93h1M288 85h1M279 111h1M280 98h1M277 91h1M293 85h1M291 98h1M291 84h1M296 86h1M288 107h1M277 90h1M285 87h1M293 96h1M292 111h1M293 109h1M289 100h1M283 107h1M296 83h1M300 98h1M287 92h1M282 109h1M291 93h1M294 84h1M297 92h1M284 104h1M294 109h1M300 83h1M291 105h1M277 96h1M277 83h1M292 99h1M289 91h1M297 109h1M279 99h1M299 98h1M278 86h1M298 93h1M280 94h1M282 84h1M288 91h1M298 91h1M283 103h1M284 96h1M281 101h1M299 88h1M297 90h1M298 83h1M287 83h1M298 105h1M295 110h1M292 98h1M282 106h1M296 90h1M284 109h1M288 99h1M298 87h1M292 100h1M279 82h1M296 98h1M281 102h1M282 85h1M280 108h1M298 84h1M285 92h1M290 89h1M296 110h1M281 111h1M292 84h1M280 95h1M295 98h1M282 92h1M298 102h1M298 107h1M287 110h1M280 89h1M300 91h1M282 83h1M294 112h1M289 106h1M278 110h1M286 109h1M280 107h1M297 87h1M283 108h1M291 110h1M298 94h1M288 86h1M325 111h1M324 89h1M314 107h1M325 93h1M322 96h1M319 82h1M315 95h1M317 95h1M323 83h1M312 109h1M322 104h1M316 85h1M294 32h1M322 48h1M299 75h1M303 69h1M322 43h1M284 31h1M316 44h1M315 48h1M311 40h1M318 50h1M300 52h1M306 74h1M326 58h1M279 44h1M301 79h1M316 77h1M324 40h1M295 67h1M318 41h1M282 64h1M318 55h1M287 53h1M288 36h1M290 73h1M313 59h1M296 60h1M284 32h1M313 69h1M287 58h1M286 44h1M293 43h1M282 74h1M279 59h1M293 34h1M300 64h1M288 69h1M298 53h1M313 68h1M287 70h1M321 73h1M283 59h1M308 65h1M313 74h1M295 78h1M313 44h1M287 35h1M242 63h1M255 74h1M266 65h1M232 50h1M240 71h1M244 49h1M264 58h1M256 75h1M256 72h1M270 66h1M258 69h1M249 75h1M260 57h1M230 56h1M266 58h1" stroke="#000" stroke-width="1.0" fill="none" transform="translate(0 0.5)"/>
<text x="321.5" y="73" style="font-family:'Liberation Serif',serif;font-weight:bold;stroke:#000;stroke-width:0.25px;font-size:12px" text-anchor="middle" >6</text>
<text x="319.5" y="94" style="font-family:'Liberation Serif',serif;font-weight:bold;stroke:#000;stroke-width:0.25px;font-size:12px" text-anchor="middle" >18</text>
<text transform="translate(196 130) rotate(-90) scale(1.0 1)" style="font-family:'Liberation Serif',serif;font-weight:bold;stroke:#000;stroke-width:0.25px;font-size:10.5px" text-anchor="middle">PI</text>
<line x1="228.1" y1="145.9" x2="228.1" y2="230.1" stroke="#000" stroke-width="1.4"/>
<line x1="227.6" y1="229.6" x2="326" y2="229.6" stroke="#000" stroke-width="1.4"/>
<line x1="228.1" y1="145.9" x2="326" y2="145.9" stroke="#222" stroke-width="1.0"/>
<line x1="326" y1="145.9" x2="326" y2="229.6" stroke="#333" stroke-width="1.0"/>
<line x1="228.1" y1="229.6" x2="228.1" y2="233.6" stroke="#000" stroke-width="1.0"/>
<line x1="235.37740014517675" y1="229.6" x2="235.37740014517675" y2="231.9" stroke="#000" stroke-width="1.0"/>
<line x1="239.63440633284785" y1="229.6" x2="239.63440633284785" y2="231.9" stroke="#000" stroke-width="1.0"/>
<line x1="242.65480029035348" y1="229.6" x2="242.65480029035348" y2="231.9" stroke="#000" stroke-width="1.0"/>
<line x1="244.99759985482325" y1="229.6" x2="244.99759985482325" y2="231.9" stroke="#000" stroke-width="1.0"/>
<line x1="246.91180647802457" y1="229.6" x2="246.91180647802457" y2="231.9" stroke="#000" stroke-width="1.0"/>
<line x1="248.53024511734466" y1="229.6" x2="248.53024511734466" y2="231.9" stroke="#000" stroke-width="1.0"/>
<line x1="249.93220043553023" y1="229.6" x2="249.93220043553023" y2="231.9" stroke="#000" stroke-width="1.0"/>
<line x1="251.16881266569567" y1="229.6" x2="251.16881266569567" y2="231.9" stroke="#000" stroke-width="1.0"/>
<line x1="252.275" y1="229.6" x2="252.275" y2="233.6" stroke="#000" stroke-width="1.0"/>
<line x1="259.55240014517676" y1="229.6" x2="259.55240014517676" y2="231.9" stroke="#000" stroke-width="1.0"/>
<line x1="263.80940633284786" y1="229.6" x2="263.80940633284786" y2="231.9" stroke="#000" stroke-width="1.0"/>
<line x1="266.8298002903535" y1="229.6" x2="266.8298002903535" y2="231.9" stroke="#000" stroke-width="1.0"/>
<line x1="269.17259985482326" y1="229.6" x2="269.17259985482326" y2="231.9" stroke="#000" stroke-width="1.0"/>
<line x1="271.0868064780246" y1="229.6" x2="271.0868064780246" y2="231.9" stroke="#000" stroke-width="1.0"/>
<line x1="272.70524511734465" y1="229.6" x2="272.70524511734465" y2="231.9" stroke="#000" stroke-width="1.0"/>
<line x1="274.1072004355302" y1="229.6" x2="274.1072004355302" y2="231.9" stroke="#000" stroke-width="1.0"/>
<line x1="275.3438126656957" y1="229.6" x2="275.3438126656957" y2="231.9" stroke="#000" stroke-width="1.0"/>
<line x1="276.45" y1="229.6" x2="276.45" y2="233.6" stroke="#000" stroke-width="1.0"/>
<line x1="283.7274001451767" y1="229.6" x2="283.7274001451767" y2="231.9" stroke="#000" stroke-width="1.0"/>
<line x1="287.9844063328478" y1="229.6" x2="287.9844063328478" y2="231.9" stroke="#000" stroke-width="1.0"/>
<line x1="291.0048002903535" y1="229.6" x2="291.0048002903535" y2="231.9" stroke="#000" stroke-width="1.0"/>
<line x1="293.3475998548232" y1="229.6" x2="293.3475998548232" y2="231.9" stroke="#000" stroke-width="1.0"/>
<line x1="295.2618064780246" y1="229.6" x2="295.2618064780246" y2="231.9" stroke="#000" stroke-width="1.0"/>
<line x1="296.88024511734466" y1="229.6" x2="296.88024511734466" y2="231.9" stroke="#000" stroke-width="1.0"/>
<line x1="298.2822004355302" y1="229.6" x2="298.2822004355302" y2="231.9" stroke="#000" stroke-width="1.0"/>
<line x1="299.5188126656957" y1="229.6" x2="299.5188126656957" y2="231.9" stroke="#000" stroke-width="1.0"/>
<line x1="300.625" y1="229.6" x2="300.625" y2="233.6" stroke="#000" stroke-width="1.0"/>
<line x1="307.9024001451767" y1="229.6" x2="307.9024001451767" y2="231.9" stroke="#000" stroke-width="1.0"/>
<line x1="312.1594063328478" y1="229.6" x2="312.1594063328478" y2="231.9" stroke="#000" stroke-width="1.0"/>
<line x1="315.17980029035346" y1="229.6" x2="315.17980029035346" y2="231.9" stroke="#000" stroke-width="1.0"/>
<line x1="317.5225998548233" y1="229.6" x2="317.5225998548233" y2="231.9" stroke="#000" stroke-width="1.0"/>
<line x1="319.4368064780246" y1="229.6" x2="319.4368064780246" y2="231.9" stroke="#000" stroke-width="1.0"/>
<line x1="321.05524511734467" y1="229.6" x2="321.05524511734467" y2="231.9" stroke="#000" stroke-width="1.0"/>
<line x1="322.45720043553024" y1="229.6" x2="322.45720043553024" y2="231.9" stroke="#000" stroke-width="1.0"/>
<line x1="323.69381266569565" y1="229.6" x2="323.69381266569565" y2="231.9" stroke="#000" stroke-width="1.0"/>
<line x1="324.8" y1="229.6" x2="324.8" y2="233.6" stroke="#000" stroke-width="1.0"/>
<line x1="224.1" y1="229.6" x2="228.1" y2="229.6" stroke="#000" stroke-width="1.0"/>
<line x1="225.79999999999998" y1="223.48909108802118" x2="228.1" y2="223.48909108802118" stroke="#000" stroke-width="1.0"/>
<line x1="225.79999999999998" y1="219.91443852919085" x2="228.1" y2="219.91443852919085" stroke="#000" stroke-width="1.0"/>
<line x1="225.79999999999998" y1="217.37818217604237" x2="228.1" y2="217.37818217604237" stroke="#000" stroke-width="1.0"/>
<line x1="225.79999999999998" y1="215.41090891197882" x2="228.1" y2="215.41090891197882" stroke="#000" stroke-width="1.0"/>
<line x1="225.79999999999998" y1="213.80352961721204" x2="228.1" y2="213.80352961721204" stroke="#000" stroke-width="1.0"/>
<line x1="225.79999999999998" y1="212.4445097877106" x2="228.1" y2="212.4445097877106" stroke="#000" stroke-width="1.0"/>
<line x1="225.79999999999998" y1="211.26727326406353" x2="228.1" y2="211.26727326406353" stroke="#000" stroke-width="1.0"/>
<line x1="225.79999999999998" y1="210.2288770583817" x2="228.1" y2="210.2288770583817" stroke="#000" stroke-width="1.0"/>
<line x1="224.1" y1="209.3" x2="228.1" y2="209.3" stroke="#000" stroke-width="1.0"/>
<line x1="225.79999999999998" y1="203.18909108802117" x2="228.1" y2="203.18909108802117" stroke="#000" stroke-width="1.0"/>
<line x1="225.79999999999998" y1="199.61443852919086" x2="228.1" y2="199.61443852919086" stroke="#000" stroke-width="1.0"/>
<line x1="225.79999999999998" y1="197.07818217604236" x2="228.1" y2="197.07818217604236" stroke="#000" stroke-width="1.0"/>
<line x1="225.79999999999998" y1="195.1109089119788" x2="228.1" y2="195.1109089119788" stroke="#000" stroke-width="1.0"/>
<line x1="225.79999999999998" y1="193.50352961721202" x2="228.1" y2="193.50352961721202" stroke="#000" stroke-width="1.0"/>
<line x1="225.79999999999998" y1="192.14450978771058" x2="228.1" y2="192.14450978771058" stroke="#000" stroke-width="1.0"/>
<line x1="225.79999999999998" y1="190.96727326406355" x2="228.1" y2="190.96727326406355" stroke="#000" stroke-width="1.0"/>
<line x1="225.79999999999998" y1="189.92887705838172" x2="228.1" y2="189.92887705838172" stroke="#000" stroke-width="1.0"/>
<line x1="224.1" y1="189.0" x2="228.1" y2="189.0" stroke="#000" stroke-width="1.0"/>
<line x1="225.79999999999998" y1="182.8890910880212" x2="228.1" y2="182.8890910880212" stroke="#000" stroke-width="1.0"/>
<line x1="225.79999999999998" y1="179.31443852919085" x2="228.1" y2="179.31443852919085" stroke="#000" stroke-width="1.0"/>
<line x1="225.79999999999998" y1="176.77818217604238" x2="228.1" y2="176.77818217604238" stroke="#000" stroke-width="1.0"/>
<line x1="225.79999999999998" y1="174.81090891197883" x2="228.1" y2="174.81090891197883" stroke="#000" stroke-width="1.0"/>
<line x1="225.79999999999998" y1="173.20352961721204" x2="228.1" y2="173.20352961721204" stroke="#000" stroke-width="1.0"/>
<line x1="225.79999999999998" y1="171.8445097877106" x2="228.1" y2="171.8445097877106" stroke="#000" stroke-width="1.0"/>
<line x1="225.79999999999998" y1="170.66727326406354" x2="228.1" y2="170.66727326406354" stroke="#000" stroke-width="1.0"/>
<line x1="225.79999999999998" y1="169.6288770583817" x2="228.1" y2="169.6288770583817" stroke="#000" stroke-width="1.0"/>
<line x1="224.1" y1="168.7" x2="228.1" y2="168.7" stroke="#000" stroke-width="1.0"/>
<line x1="225.79999999999998" y1="162.58909108802118" x2="228.1" y2="162.58909108802118" stroke="#000" stroke-width="1.0"/>
<line x1="225.79999999999998" y1="159.01443852919084" x2="228.1" y2="159.01443852919084" stroke="#000" stroke-width="1.0"/>
<line x1="225.79999999999998" y1="156.47818217604237" x2="228.1" y2="156.47818217604237" stroke="#000" stroke-width="1.0"/>
<line x1="225.79999999999998" y1="154.51090891197885" x2="228.1" y2="154.51090891197885" stroke="#000" stroke-width="1.0"/>
<line x1="225.79999999999998" y1="152.90352961721203" x2="228.1" y2="152.90352961721203" stroke="#000" stroke-width="1.0"/>
<line x1="225.79999999999998" y1="151.54450978771058" x2="228.1" y2="151.54450978771058" stroke="#000" stroke-width="1.0"/>
<line x1="225.79999999999998" y1="150.36727326406356" x2="228.1" y2="150.36727326406356" stroke="#000" stroke-width="1.0"/>
<line x1="225.79999999999998" y1="149.3288770583817" x2="228.1" y2="149.3288770583817" stroke="#000" stroke-width="1.0"/>
<line x1="224.1" y1="148.4" x2="228.1" y2="148.4" stroke="#000" stroke-width="1.0"/>
<line x1="273.5" y1="145.9" x2="273.5" y2="229.6" stroke="#000" stroke-width="1.1"/>
<line x1="228.1" y1="195.5" x2="326" y2="195.5" stroke="#000" stroke-width="1.0"/>
<text x="222.3" y="150.8" style="font-family:'Liberation Serif',serif;font-weight:bold;stroke:#000;stroke-width:0.25px;font-size:10.1px" text-anchor="end">10<tspan dy="-3.7" style="font-size:8.9px">4</tspan></text>
<text x="224" y="233" style="font-family:'Liberation Serif',serif;font-weight:bold;stroke:#000;stroke-width:0.25px;font-size:10.1px" text-anchor="end">10<tspan dy="-3.7" style="font-size:8.9px">0</tspan></text>
<text x="231" y="247.5" style="font-family:'Liberation Serif',serif;font-weight:bold;stroke:#000;stroke-width:0.25px;font-size:10.1px" text-anchor="middle">10<tspan dy="-3.7" style="font-size:8.9px">0</tspan></text>
<text x="325.5" y="249" style="font-family:'Liberation Serif',serif;font-weight:bold;stroke:#000;stroke-width:0.25px;font-size:10.1px" text-anchor="middle">10<tspan dy="-3.7" style="font-size:8.9px">4</tspan></text>
<path d="M271 211h1M231 208h1M233 208h1M261 216h1M232 215h1M262 218h1M275 209h1M269 204h1M251 209h1M273 210h1M274 219h1M266 212h1M265 217h1M276 215h1M236 213h1M270 213h1M267 206h1M274 217h1M231 222h1M248 215h1M254 208h1M265 211h1M260 208h1M262 215h1M266 209h1M235 215h1M256 220h1M229 210h1M266 198h1M270 214h1M251 214h1M264 214h1M275 208h1M280 216h1M250 222h1M253 211h1M243 216h1M259 211h1M238 209h1M232 220h1M264 209h1M266 217h1M258 218h1M254 217h1M272 207h1M257 206h1M239 217h1M253 223h1M262 208h1M268 215h1M256 213h1M243 215h1M277 223h1M254 212h1M237 216h1M273 215h1M271 212h1M272 218h1M249 218h1M267 214h1M231 219h1M244 210h1M239 213h1M236 210h1M234 216h1M231 214h1M239 219h1M274 220h1M274 218h1M277 217h1M231 223h1M234 205h1M248 218h1M262 214h1M234 207h1M255 212h1M231 209h1M263 215h1M271 217h1M247 215h1M245 210h1M234 214h1M267 210h1M276 208h1M271 205h1M241 213h1M237 219h1M261 212h1M238 215h1M262 207h1M253 210h1M266 223h1M275 206h1M255 227h1M231 211h1M277 205h1M244 213h1M249 214h1M269 217h1M250 219h1M241 212h1M248 219h1M251 223h1M261 219h1M253 215h1M229 216h1M244 207h1M277 219h1M237 213h1M262 211h1M252 220h1M232 208h1M275 212h1M233 211h1M241 204h1M241 214h1M231 205h1M243 218h1M233 222h1M264 211h1M262 212h1M244 215h1M278 222h1M255 209h1M271 220h1M271 214h1M247 210h1M230 211h1M272 213h1M233 216h1M245 227h1M250 212h1M252 205h1M244 226h1M239 201h1M236 211h1M231 213h1M236 209h1M254 220h1M233 210h1M251 208h1M255 216h1M279 214h1M240 202h1M241 211h1M269 212h1M234 227h1M269 214h1M239 209h1M240 217h1M260 222h1M251 203h1M269 215h1M267 207h1M253 217h1M265 209h1M245 216h1M240 214h1M230 209h1M276 223h1M267 219h1M262 210h1M260 207h1M275 211h1M279 209h1M237 222h1M270 206h1M235 220h1M251 211h1M263 218h1M243 220h1M233 228h1M255 211h1M275 216h1M243 211h1M237 208h1M274 222h1M240 208h1M268 210h1M262 203h1M277 215h1M249 211h1M236 216h1M265 212h1M278 209h1M259 221h1M233 214h1M244 204h1M276 219h1M239 220h1M254 209h1M266 216h1M246 216h1M248 216h1M266 225h1M279 213h1M265 220h1M258 222h1M246 220h1M272 215h1M230 218h1M278 215h1M229 223h1M263 224h1M242 210h1M258 217h1M247 214h1M234 211h1M243 209h1M270 212h1M258 219h1M252 213h1M256 221h1M272 206h1M232 218h1M236 218h1M278 204h1M242 218h1M256 217h1M239 216h1M230 214h1M274 225h1M232 217h1M271 215h1M247 206h1M240 220h1M251 215h1M276 206h1M263 214h1M251 202h1M261 209h1M260 219h1M233 218h1M238 214h1M250 217h1M269 216h1M268 205h1M229 211h1M268 224h1M268 213h1M279 216h1M238 211h1M252 214h1M268 212h1M229 212h1M278 226h1M256 210h1M265 199h1M246 225h1M237 215h1M237 209h1M270 215h1M250 218h1M243 212h1M239 205h1M277 218h1M240 212h1M235 222h1M279 215h1M250 206h1M272 227h1M275 213h1M262 209h1M264 213h1M248 212h1M235 221h1M237 224h1M245 213h1M247 217h1M236 199h1M259 218h1M257 208h1M250 216h1M229 204h1M264 212h1M249 213h1M267 215h1M246 222h1M276 210h1M234 215h1M276 217h1M265 213h1M245 208h1M252 197h1M232 209h1M238 217h1M259 226h1M245 214h1M262 217h1M267 220h1M242 214h1M272 201h1M255 210h1M270 209h1M273 212h1M274 204h1M266 221h1M230 216h1M267 221h1M280 214h1M262 205h1M257 213h1M246 208h1M256 212h1M274 221h1M268 214h1M268 211h1M277 211h1M248 217h1M261 218h1M247 219h1M260 209h1M260 214h1M234 218h1M267 213h1M278 207h1M236 215h1M244 216h1M241 217h1M238 213h1M250 211h1M275 207h1M240 211h1M269 218h1M265 221h1M272 216h1M278 223h1M238 225h1M268 201h1M250 205h1M236 205h1M266 215h1M242 221h1M255 205h1M270 222h1M261 210h1M271 218h1M259 215h1M230 207h1M253 209h1M264 226h1M253 208h1M240 213h1M231 225h1M249 215h1M277 210h1M250 221h1M259 214h1M270 217h1M269 222h1M268 218h1M234 209h1M244 220h1M242 222h1M273 218h1M232 219h1M262 221h1M247 207h1M277 216h1M268 208h1M241 215h1M250 215h1M249 212h1M240 204h1M270 219h1M232 204h1M251 213h1M273 207h1M240 224h1M238 208h1M275 228h1M258 216h1M260 217h1M242 209h1M276 218h1M277 212h1M276 213h1M234 220h1M274 215h1M231 206h1M231 207h1M257 202h1M256 219h1M255 203h1M277 202h1M243 213h1M264 215h1M275 222h1M259 209h1M236 208h1M248 226h1M267 226h1M276 203h1M235 218h1M264 208h1M260 203h1M238 210h1M244 217h1M233 212h1M238 226h1M266 219h1M242 219h1M276 212h1M264 216h1M279 207h1M263 207h1M229 221h1M247 213h1M246 213h1M238 218h1M251 205h1M241 216h1M236 214h1M231 215h1M238 202h1M272 209h1M261 206h1M230 221h1M231 218h1M240 219h1M259 206h1M233 219h1M251 218h1M232 226h1M243 219h1M229 217h1M255 207h1M264 217h1M243 214h1M255 215h1M247 203h1M273 220h1M258 207h1M252 203h1M269 201h1M263 223h1M274 214h1M245 224h1M263 204h1M246 211h1M242 217h1M248 210h1M231 216h1M277 214h1M271 206h1M260 211h1M239 204h1M238 207h1M263 208h1M280 208h1M236 207h1M259 212h1M255 219h1M263 216h1M256 216h1M237 217h1M239 212h1M277 220h1M262 220h1M267 212h1M261 215h1M267 218h1M232 205h1M272 212h1M237 210h1M246 206h1M236 223h1M266 207h1M235 212h1M257 207h1M253 220h1M255 223h1M245 221h1M257 216h1M269 206h1M264 207h1M237 214h1M278 213h1M270 210h1M252 212h1M246 224h1M245 218h1M264 210h1M245 209h1M255 206h1M269 203h1M237 207h1M277 213h1M249 207h1M248 211h1M255 218h1M237 202h1M253 213h1M267 223h1M233 221h1M252 210h1M262 213h1M258 211h1M255 217h1M266 213h1M280 205h1M257 212h1M273 216h1M267 205h1M261 213h1M241 218h1M260 205h1M235 227h1M274 213h1M272 217h1M263 209h1M266 211h1M262 216h1M245 217h1M271 222h1M246 205h1M239 215h1M249 217h1M275 226h1M275 227h1M233 207h1M260 216h1M232 221h1M257 219h1M242 207h1M270 216h1M242 223h1M239 206h1M246 223h1M275 219h1M280 218h1M257 217h1M251 220h1M280 206h1M237 220h1M243 225h1M232 211h1M270 201h1M269 213h1M260 220h1M236 217h1M273 217h1M246 212h1M261 217h1M232 213h1M276 225h1M257 203h1M245 206h1M254 211h1M245 215h1M279 222h1M275 220h1M265 210h1M252 204h1M267 229h1M250 210h1M276 220h1M240 218h1M258 223h1M251 222h1M235 226h1M230 217h1M272 221h1M262 204h1M268 220h1M256 206h1M274 210h1M250 214h1M239 222h1M267 211h1M230 212h1M266 228h1M233 209h1M241 221h1M254 225h1M273 224h1M246 219h1M258 210h1M240 222h1M272 205h1M264 205h1M248 204h1M253 222h1M231 212h1M245 219h1M235 214h1M244 214h1M261 214h1M274 208h1M247 208h1M280 217h1M246 215h1M229 213h1M241 205h1M237 212h1M246 226h1M244 206h1M244 212h1M242 225h1M239 211h1M266 222h1M235 205h1M236 212h1M252 216h1M256 208h1M229 205h1M232 214h1M242 211h1M234 212h1M279 208h1M265 218h1M275 221h1M247 224h1M275 214h1M232 210h1M253 214h1M255 222h1M250 207h1M255 200h1M237 204h1M238 216h1M245 212h1M258 214h1M252 217h1M262 226h1M272 214h1M249 210h1M273 206h1M274 211h1M263 210h1M250 213h1M269 209h1M250 204h1M258 212h1M272 210h1M263 221h1M276 209h1M267 224h1M258 220h1M243 210h1M235 213h1M235 210h1M241 222h1M235 217h1M235 206h1M238 212h1M234 208h1M236 221h1M233 213h1M232 212h1M234 213h1M230 223h1M240 207h1M231 217h1M233 217h1M240 215h1M235 208h1M235 211h1M286 202h1M278 217h1M285 218h1M276 222h1M281 214h1M280 220h1M285 211h1M277 207h1M282 227h1M278 210h1M283 206h1M287 205h1M292 211h1M287 213h1M271 204h1M284 215h1M296 212h1M283 211h1M290 222h1M275 203h1M297 215h1M290 208h1M287 209h1M287 210h1M286 222h1M283 204h1M292 221h1M288 213h1M286 218h1M297 210h1M292 215h1M282 217h1M282 208h1M280 212h1M290 215h1M286 208h1M284 211h1M293 210h1M288 219h1M286 216h1M286 210h1M290 220h1M292 209h1M293 206h1M278 203h1M285 213h1M282 221h1M288 209h1M300 213h1M292 217h1M290 212h1M278 205h1M292 201h1M281 217h1M284 218h1M286 203h1M295 208h1M289 214h1M287 197h1M282 226h1M293 208h1M297 221h1M289 212h1M288 212h1M296 214h1M290 209h1M300 222h1M282 202h1M286 207h1M284 212h1M284 205h1M278 211h1M275 210h1M294 223h1M282 214h1M295 219h1M286 211h1M303 218h1M275 201h1M290 211h1M297 201h1M263 201h1M292 204h1M293 205h1M303 211h1M284 220h1M311 210h1M281 215h1M294 219h1M282 218h1M289 213h1M288 226h1M293 203h1M296 220h1M282 219h1M279 212h1M293 209h1M282 200h1M293 214h1M289 219h1M301 221h1M280 221h1M281 227h1M284 217h1M271 226h1M288 204h1M283 218h1M291 195h1M294 209h1M292 216h1M302 202h1M282 209h1M306 209h1M303 188h1M305 207h1M297 207h1M299 217h1M305 209h1M302 214h1M300 221h1M296 207h1M300 212h1M297 213h1M300 207h1M301 218h1M303 209h1M304 227h1M299 223h1M304 203h1M301 210h1M300 204h1M303 212h1M304 196h1M304 206h1M305 214h1M301 201h1M300 192h1M300 211h1M299 212h1M301 219h1M302 226h1M299 216h1M304 213h1M302 227h1M304 201h1M301 205h1M304 208h1M303 210h1M303 222h1M295 224h1M297 214h1M304 218h1M310 206h1M302 210h1M296 216h1M298 222h1M297 216h1M301 193h1M300 200h1M304 219h1M307 210h1M294 212h1M305 219h1M304 224h1M310 219h1M297 209h1M302 204h1M294 197h1M303 214h1M299 224h1M294 214h1M303 225h1M305 211h1M295 200h1M301 226h1M298 219h1M297 222h1M306 217h1M301 213h1M296 209h1M296 210h1M299 213h1M299 199h1M301 227h1M295 187h1M302 209h1M298 204h1M301 197h1M298 206h1M300 205h1M303 199h1M297 208h1M302 205h1M306 206h1M301 211h1M301 204h1M297 224h1M296 208h1M295 205h1M298 226h1M298 198h1M299 205h1M298 190h1M308 208h1M302 218h1M306 211h1M291 224h1M300 202h1M303 195h1M300 210h1M303 205h1M301 200h1M301 224h1M296 227h1M311 221h1M308 202h1M306 195h1M303 198h1M302 223h1M300 217h1M300 228h1M301 216h1M305 216h1M301 203h1M301 225h1M299 222h1M307 212h1M300 193h1M300 206h1M306 210h1M305 208h1M302 189h1M297 218h1M295 216h1M299 204h1M295 201h1M297 219h1M299 215h1M296 205h1M298 209h1M308 221h1M300 214h1M304 191h1M302 198h1M302 219h1M296 215h1M298 207h1M297 203h1M302 203h1M299 208h1M306 212h1M298 210h1M302 213h1M301 198h1M303 200h1M296 222h1M313 210h1M301 215h1M303 207h1M303 224h1M299 210h1M304 226h1M295 217h1M300 194h1M306 200h1M307 225h1M300 216h1M304 215h1M304 210h1M306 222h1M307 209h1M300 201h1M294 224h1M299 190h1M306 208h1M304 207h1M301 217h1M308 212h1M302 220h1M305 213h1M308 209h1M301 202h1M305 221h1M302 215h1M303 206h1M307 216h1M299 220h1M303 202h1M298 215h1M299 214h1M307 196h1M308 199h1M302 211h1M301 206h1M303 223h1M298 201h1M303 216h1M298 208h1M294 207h1M302 207h1M304 217h1M299 200h1M298 196h1M302 217h1M302 201h1M305 205h1M305 212h1M297 226h1M294 195h1M300 199h1M298 213h1M303 201h1M303 197h1M302 216h1M303 217h1M296 201h1M300 219h1M295 212h1M307 201h1M301 214h1M308 214h1M301 223h1M296 225h1M301 199h1M304 211h1M298 221h1M296 204h1M298 195h1M296 196h1M304 225h1M298 197h1M298 225h1M305 218h1M304 195h1M303 220h1M306 213h1M297 198h1M294 215h1M297 202h1M298 211h1M301 212h1M300 196h1M293 217h1M296 217h1M307 205h1M294 216h1M305 217h1M304 221h1M295 213h1M297 225h1M305 215h1M288 224h1M304 192h1M294 208h1M305 196h1M298 228h1M298 223h1M300 223h1M307 217h1M299 207h1M303 196h1M297 220h1M294 199h1M300 195h1M290 206h1M296 199h1M303 228h1M295 223h1M302 212h1M307 195h1M299 219h1M304 200h1M300 218h1M304 216h1M297 206h1M304 209h1M300 198h1M305 197h1M301 222h1M298 212h1M305 204h1M306 221h1M302 222h1M296 219h1M302 208h1M304 205h1M298 205h1M306 207h1M299 227h1M309 203h1M300 208h1M301 209h1M303 204h1M307 197h1M304 214h1M294 217h1M292 206h1M301 220h1M294 210h1M294 204h1M307 206h1M306 216h1M298 202h1M303 221h1M302 206h1M307 222h1M303 215h1M297 228h1M296 213h1M291 227h1M304 228h1M293 188h1M302 199h1M292 222h1M309 217h1M303 227h1M305 224h1M304 222h1M296 197h1M305 225h1M304 220h1M309 222h1M298 217h1M299 197h1M298 199h1M303 219h1M296 203h1M309 224h1M295 204h1M295 228h1M305 203h1M299 202h1M302 195h1M305 223h1M302 190h1M297 223h1M307 202h1M305 210h1M300 220h1M301 208h1M308 219h1M298 224h1M308 220h1M310 208h1M298 218h1M296 211h1M304 223h1M298 192h1M292 226h1M303 208h1M303 193h1M297 204h1M299 206h1M299 211h1M305 194h1M306 218h1M310 204h1M312 223h1M306 198h1M298 203h1M306 220h1M297 199h1M302 224h1M311 214h1M311 223h1M307 200h1M300 226h1M300 215h1M309 226h1M303 226h1M305 222h1M302 221h1M308 217h1M305 206h1M294 226h1M309 214h1M304 198h1M299 203h1M305 200h1M300 191h1M298 220h1M291 217h1M305 182h1M310 202h1M303 203h1M294 211h1M299 226h1M292 219h1M300 225h1M308 228h1M309 212h1M304 202h1M291 185h1M295 206h1M305 227h1M294 205h1M306 228h1M303 213h1M311 206h1M306 203h1M305 202h1M297 227h1M294 218h1M309 209h1M301 228h1M298 214h1M296 218h1M300 224h1M307 219h1M296 228h1M305 198h1M300 209h1M295 198h1M297 189h1M299 209h1M307 193h1M298 200h1M293 225h1M295 202h1M308 213h1M293 216h1M310 215h1M295 214h1M297 196h1M299 187h1M297 212h1M295 191h1M311 218h1M310 211h1M299 218h1M311 215h1M307 207h1M295 207h1M294 221h1M305 193h1M304 212h1M308 205h1M297 211h1M296 206h1M308 203h1M300 189h1M302 193h1M297 191h1M305 226h1M298 216h1M308 204h1M297 205h1M306 219h1M307 220h1M306 205h1M299 225h1M300 203h1M301 207h1M309 219h1M306 214h1M293 192h1M314 207h1M293 207h1M302 228h1M302 194h1M308 216h1M291 202h1M312 215h1M295 220h1M296 202h1M306 183h1M293 219h1M306 202h1M304 199h1M302 200h1M302 225h1M301 187h1M299 201h1M311 197h1M307 204h1M308 201h1M295 203h1M295 211h1M306 223h1M295 209h1M297 200h1M309 211h1M293 213h1M307 227h1M294 206h1M310 200h1M305 199h1M303 192h1M307 215h1M296 194h1M300 171h1M311 207h1M306 199h1M302 186h1M299 228h1M307 213h1M301 196h1M301 190h1M299 194h1M306 201h1M306 193h1M306 215h1M306 204h1M307 218h1M302 197h1M307 192h1M294 225h1M296 224h1M308 226h1M291 212h1M290 221h1M294 228h1M306 225h1M306 224h1M287 211h1M291 223h1M309 210h1M307 228h1M310 214h1M310 224h1M293 211h1M288 211h1M311 226h1M315 218h1M290 219h1M296 223h1M312 218h1M295 218h1M314 212h1M295 225h1M292 214h1M292 218h1M305 220h1M291 216h1M296 221h1M313 218h1M295 222h1M292 207h1M309 218h1M308 218h1M288 220h1M308 210h1M299 221h1M295 227h1M310 221h1M293 227h1M293 221h1M308 222h1M316 222h1M295 221h1M306 227h1M293 218h1M309 225h1M296 226h1M311 220h1M297 170h1M306 172h1M302 168h1M309 190h1M304 179h1M301 182h1M299 153h1M299 162h1M303 169h1M299 175h1M301 152h1M296 158h1M303 167h1M299 164h1M307 198h1M299 151h1M294 179h1M302 182h1M301 159h1M301 147h1M299 156h1M313 155h1M311 176h1M303 191h1M299 174h1M300 186h1M300 175h1M305 167h1M294 189h1M308 190h1M296 171h1M309 181h1M307 153h1M304 183h1M301 167h1M305 162h1M299 178h1M302 159h1M301 168h1M294 169h1M298 187h1M306 189h1M298 170h1M313 167h1M299 185h1M303 164h1M309 170h1M303 183h1M305 175h1M297 173h1M303 182h1M303 156h1M298 151h1M297 169h1M302 166h1M306 176h1M308 191h1M299 177h1M304 160h1M294 158h1M302 178h1M300 197h1M304 168h1M307 172h1M309 148h1M301 153h1M310 181h1M301 192h1M309 164h1M305 191h1M304 175h1M300 167h1M306 149h1M308 194h1M302 147h1M300 170h1M312 191h1M308 157h1M302 157h1M296 157h1M298 159h1M305 180h1M293 179h1M298 186h1M293 168h1M300 160h1M311 182h1M302 164h1M304 161h1M303 180h1M300 182h1M300 183h1M295 157h1M302 149h1M305 188h1M305 181h1M301 163h1M311 183h1M308 169h1M304 157h1M292 167h1M303 184h1M289 172h1M307 208h1M305 170h1M305 163h1M309 167h1M306 179h1M301 173h1M306 166h1M300 168h1M303 173h1M300 153h1M300 158h1M301 176h1M317 188h1M307 189h1M304 165h1M306 194h1M306 181h1M300 174h1M293 154h1M302 156h1M303 174h1M306 163h1M310 190h1M311 187h1M303 166h1M299 167h1M308 154h1M310 154h1M294 177h1M306 161h1M299 179h1M299 171h1M308 162h1M297 166h1M306 151h1M312 164h1M308 197h1M302 185h1M305 156h1M301 149h1M310 148h1M302 167h1M301 186h1M309 183h1M305 177h1M307 171h1M298 181h1M304 151h1M299 170h1M296 167h1M304 182h1M307 178h1M296 170h1M303 155h1M304 186h1M297 192h1M309 191h1M306 185h1M306 165h1M299 192h1M299 181h1M302 174h1M300 176h1M301 179h1M306 157h1M304 169h1M297 184h1M308 152h1M298 154h1M297 180h1M302 169h1M304 185h1M287 193h1M301 171h1M305 185h1M300 163h1M295 192h1M298 182h1M302 158h1M304 162h1M303 160h1M302 184h1M301 155h1M310 149h1M299 155h1M299 191h1M311 168h1M299 158h1M295 182h1M305 189h1M295 154h1M302 176h1M308 176h1M307 186h1M302 152h1M308 155h1M301 164h1M309 173h1M309 171h1M310 164h1M300 179h1M295 167h1M310 176h1M302 192h1M297 159h1M310 159h1M302 150h1M301 188h1M292 166h1M303 168h1M302 180h1M315 183h1M297 157h1M302 179h1M301 175h1M298 153h1M302 191h1M320 161h1M310 180h1M302 171h1M302 163h1M303 187h1M308 180h1M296 189h1M301 174h1M304 149h1M306 155h1M305 174h1M306 187h1M297 177h1M299 160h1M301 195h1M295 152h1M308 192h1M300 185h1M300 181h1M286 150h1M298 149h1M299 148h1M287 149h1M285 149h1M308 149h1M315 148h1M295 147h1M309 147h1M313 148h1M296 149h1M288 150h1M312 150h1M304 150h1M289 150h1M289 148h1M286 149h1M302 148h1M297 148h1M290 149h1M300 150h1M289 147h1M296 150h1M303 148h1M292 149h1M289 149h1M311 148h1M303 149h1M311 149h1M301 148h1M287 148h1M295 150h1M306 147h1M287 150h1M307 148h1M296 148h1M294 150h1M315 150h1M305 148h1M299 149h1M297 150h1M286 148h1M285 148h1M313 147h1M288 149h1M313 150h1M295 149h1M312 148h1M298 148h1M305 150h1M304 148h1M290 150h1M309 149h1M308 148h1M310 150h1M315 149h1M298 147h1M316 148h1M294 148h1M291 148h1M312 149h1M301 150h1M314 148h1M307 150h1M306 150h1M295 148h1M288 148h1M288 147h1M300 148h1M285 147h1M307 149h1M308 150h1M290 148h1M305 147h1M297 147h1M308 147h1M297 149h1M316 149h1M314 149h1M298 150h1M285 219h1M284 208h1M291 218h1M283 215h1M296 200h1M279 206h1M288 197h1M281 218h1M288 202h1M285 216h1M288 198h1M287 212h1M276 214h1M284 209h1M293 215h1M286 201h1M285 208h1M287 224h1M278 201h1M281 213h1M281 211h1M278 216h1M280 226h1M284 225h1M294 227h1M287 202h1M290 216h1M286 226h1M291 198h1M279 200h1M276 224h1M289 201h1M279 199h1M292 228h1M274 212h1M283 198h1M279 205h1M288 199h1M295 215h1M286 217h1M292 213h1M280 200h1M279 228h1M289 228h1M278 228h1M292 212h1M284 207h1M283 219h1M280 202h1M284 224h1M275 218h1M291 221h1M291 207h1M289 211h1M287 217h1M278 221h1M277 228h1M276 226h1M287 199h1M280 210h1M279 224h1M288 222h1M290 207h1M291 220h1M287 219h1M289 221h1M288 200h1M274 199h1M283 212h1M295 210h1M280 198h1M291 215h1M280 223h1M282 211h1M289 227h1M290 218h1M276 211h1M282 224h1M286 206h1M324 202h1M320 218h1M320 219h1M322 227h1M321 208h1M319 216h1M322 209h1M321 217h1M312 221h1M287 181h1M285 168h1M295 173h1M283 180h1M300 172h1M298 171h1M286 194h1M283 164h1M289 180h1M285 162h1M292 156h1M299 161h1M290 188h1M287 185h1M288 192h1M297 193h1M285 163h1M299 169h1M285 170h1M283 193h1M286 161h1M291 184h1M283 185h1M298 163h1M295 164h1M288 179h1M292 155h1M296 183h1M297 185h1M290 159h1M287 174h1M292 151h1M292 193h1M283 192h1M297 195h1M300 164h1M296 182h1M297 171h1M285 165h1M286 156h1M284 188h1M284 180h1M286 171h1M296 166h1M289 152h1M289 190h1M292 157h1M285 164h1M289 184h1M291 190h1M284 154h1M283 171h1M299 165h1M297 194h1M285 158h1M299 150h1M284 186h1M284 190h1M315 181h1M320 167h1M316 174h1M310 151h1M324 185h1M325 161h1M323 193h1M317 160h1M322 164h1M320 177h1M322 194h1M253 151h1M247 159h1M266 174h1M242 195h1M269 183h1M270 185h1M272 183h1M269 192h1M272 194h1M271 180h1M269 188h1M269 179h1" stroke="#000" stroke-width="1.0" fill="none" transform="translate(0 0.5)"/>
<text x="319.5" y="189.5" style="font-family:'Liberation Serif',serif;font-weight:bold;stroke:#000;stroke-width:0.25px;font-size:12px" text-anchor="middle" >17</text>
<text x="319.5" y="209" style="font-family:'Liberation Serif',serif;font-weight:bold;stroke:#000;stroke-width:0.25px;font-size:12px" text-anchor="middle" >61</text>
<text x="251" y="265.9" style="font-family:'Liberation Serif',serif;font-weight:bold;stroke:#000;stroke-width:0.25px;font-size:14.7px" text-anchor="start" >FITC</text>
<text transform="translate(355.5 130.8) rotate(-90) scale(0.87 1)" style="font-family:'Liberation Serif',serif;font-weight:bold;stroke:#000;stroke-width:0.25px;font-size:16.6px" text-anchor="middle">Cell Count</text>
<line x1="391.2" y1="31.6" x2="391.2" y2="115.5" stroke="#000" stroke-width="1.4"/>
<line x1="390.7" y1="115" x2="490.6" y2="115" stroke="#000" stroke-width="1.4"/>
<line x1="391.2" y1="31.6" x2="490.6" y2="31.6" stroke="#222" stroke-width="1.0"/>
<line x1="490.6" y1="31.6" x2="490.6" y2="115" stroke="#333" stroke-width="1.0"/>
<line x1="391.2" y1="115" x2="391.2" y2="119" stroke="#000" stroke-width="1.0"/>
<line x1="398.59028639355074" y1="115" x2="398.59028639355074" y2="117.3" stroke="#000" stroke-width="1.0"/>
<line x1="402.9133268033677" y1="115" x2="402.9133268033677" y2="117.3" stroke="#000" stroke-width="1.0"/>
<line x1="405.9805727871015" y1="115" x2="405.9805727871015" y2="117.3" stroke="#000" stroke-width="1.0"/>
<line x1="408.35971360644925" y1="115" x2="408.35971360644925" y2="117.3" stroke="#000" stroke-width="1.0"/>
<line x1="410.30361319691843" y1="115" x2="410.30361319691843" y2="117.3" stroke="#000" stroke-width="1.0"/>
<line x1="411.94715688235" y1="115" x2="411.94715688235" y2="117.3" stroke="#000" stroke-width="1.0"/>
<line x1="413.3708591806522" y1="115" x2="413.3708591806522" y2="117.3" stroke="#000" stroke-width="1.0"/>
<line x1="414.62665360673543" y1="115" x2="414.62665360673543" y2="117.3" stroke="#000" stroke-width="1.0"/>
<line x1="415.75" y1="115" x2="415.75" y2="119" stroke="#000" stroke-width="1.0"/>
<line x1="423.14028639355075" y1="115" x2="423.14028639355075" y2="117.3" stroke="#000" stroke-width="1.0"/>
<line x1="427.4633268033677" y1="115" x2="427.4633268033677" y2="117.3" stroke="#000" stroke-width="1.0"/>
<line x1="430.5305727871015" y1="115" x2="430.5305727871015" y2="117.3" stroke="#000" stroke-width="1.0"/>
<line x1="432.90971360644926" y1="115" x2="432.90971360644926" y2="117.3" stroke="#000" stroke-width="1.0"/>
<line x1="434.85361319691845" y1="115" x2="434.85361319691845" y2="117.3" stroke="#000" stroke-width="1.0"/>
<line x1="436.49715688235" y1="115" x2="436.49715688235" y2="117.3" stroke="#000" stroke-width="1.0"/>
<line x1="437.9208591806522" y1="115" x2="437.9208591806522" y2="117.3" stroke="#000" stroke-width="1.0"/>
<line x1="439.17665360673544" y1="115" x2="439.17665360673544" y2="117.3" stroke="#000" stroke-width="1.0"/>
<line x1="440.3" y1="115" x2="440.3" y2="119" stroke="#000" stroke-width="1.0"/>
<line x1="447.69028639355076" y1="115" x2="447.69028639355076" y2="117.3" stroke="#000" stroke-width="1.0"/>
<line x1="452.0133268033677" y1="115" x2="452.0133268033677" y2="117.3" stroke="#000" stroke-width="1.0"/>
<line x1="455.08057278710146" y1="115" x2="455.08057278710146" y2="117.3" stroke="#000" stroke-width="1.0"/>
<line x1="457.45971360644927" y1="115" x2="457.45971360644927" y2="117.3" stroke="#000" stroke-width="1.0"/>
<line x1="459.40361319691846" y1="115" x2="459.40361319691846" y2="117.3" stroke="#000" stroke-width="1.0"/>
<line x1="461.04715688235" y1="115" x2="461.04715688235" y2="117.3" stroke="#000" stroke-width="1.0"/>
<line x1="462.4708591806522" y1="115" x2="462.4708591806522" y2="117.3" stroke="#000" stroke-width="1.0"/>
<line x1="463.72665360673545" y1="115" x2="463.72665360673545" y2="117.3" stroke="#000" stroke-width="1.0"/>
<line x1="464.85" y1="115" x2="464.85" y2="119" stroke="#000" stroke-width="1.0"/>
<line x1="472.2402863935508" y1="115" x2="472.2402863935508" y2="117.3" stroke="#000" stroke-width="1.0"/>
<line x1="476.5633268033677" y1="115" x2="476.5633268033677" y2="117.3" stroke="#000" stroke-width="1.0"/>
<line x1="479.6305727871015" y1="115" x2="479.6305727871015" y2="117.3" stroke="#000" stroke-width="1.0"/>
<line x1="482.0097136064493" y1="115" x2="482.0097136064493" y2="117.3" stroke="#000" stroke-width="1.0"/>
<line x1="483.95361319691847" y1="115" x2="483.95361319691847" y2="117.3" stroke="#000" stroke-width="1.0"/>
<line x1="485.59715688235" y1="115" x2="485.59715688235" y2="117.3" stroke="#000" stroke-width="1.0"/>
<line x1="487.0208591806522" y1="115" x2="487.0208591806522" y2="117.3" stroke="#000" stroke-width="1.0"/>
<line x1="488.2766536067354" y1="115" x2="488.2766536067354" y2="117.3" stroke="#000" stroke-width="1.0"/>
<line x1="489.40000000000003" y1="115" x2="489.40000000000003" y2="119" stroke="#000" stroke-width="1.0"/>
<line x1="387.0" y1="115.0" x2="391.2" y2="115.0" stroke="#000" stroke-width="0.9"/>
<line x1="388.9" y1="112.69722222222222" x2="391.2" y2="112.69722222222222" stroke="#000" stroke-width="0.9"/>
<line x1="388.9" y1="110.39444444444445" x2="391.2" y2="110.39444444444445" stroke="#000" stroke-width="0.9"/>
<line x1="388.9" y1="108.09166666666667" x2="391.2" y2="108.09166666666667" stroke="#000" stroke-width="0.9"/>
<line x1="388.9" y1="105.78888888888889" x2="391.2" y2="105.78888888888889" stroke="#000" stroke-width="0.9"/>
<line x1="388.9" y1="103.48611111111111" x2="391.2" y2="103.48611111111111" stroke="#000" stroke-width="0.9"/>
<line x1="388.9" y1="101.18333333333334" x2="391.2" y2="101.18333333333334" stroke="#000" stroke-width="0.9"/>
<line x1="388.9" y1="98.88055555555556" x2="391.2" y2="98.88055555555556" stroke="#000" stroke-width="0.9"/>
<line x1="388.9" y1="96.57777777777778" x2="391.2" y2="96.57777777777778" stroke="#000" stroke-width="0.9"/>
<line x1="387.0" y1="94.275" x2="391.2" y2="94.275" stroke="#000" stroke-width="0.9"/>
<line x1="388.9" y1="91.97222222222223" x2="391.2" y2="91.97222222222223" stroke="#000" stroke-width="0.9"/>
<line x1="388.9" y1="89.66944444444444" x2="391.2" y2="89.66944444444444" stroke="#000" stroke-width="0.9"/>
<line x1="388.9" y1="87.36666666666666" x2="391.2" y2="87.36666666666666" stroke="#000" stroke-width="0.9"/>
<line x1="388.9" y1="85.06388888888888" x2="391.2" y2="85.06388888888888" stroke="#000" stroke-width="0.9"/>
<line x1="388.9" y1="82.7611111111111" x2="391.2" y2="82.7611111111111" stroke="#000" stroke-width="0.9"/>
<line x1="388.9" y1="80.45833333333334" x2="391.2" y2="80.45833333333334" stroke="#000" stroke-width="0.9"/>
<line x1="388.9" y1="78.15555555555555" x2="391.2" y2="78.15555555555555" stroke="#000" stroke-width="0.9"/>
<line x1="388.9" y1="75.85277777777777" x2="391.2" y2="75.85277777777777" stroke="#000" stroke-width="0.9"/>
<line x1="387.0" y1="73.55" x2="391.2" y2="73.55" stroke="#000" stroke-width="0.9"/>
<line x1="388.9" y1="71.24722222222222" x2="391.2" y2="71.24722222222222" stroke="#000" stroke-width="0.9"/>
<line x1="388.9" y1="68.94444444444444" x2="391.2" y2="68.94444444444444" stroke="#000" stroke-width="0.9"/>
<line x1="388.9" y1="66.64166666666667" x2="391.2" y2="66.64166666666667" stroke="#000" stroke-width="0.9"/>
<line x1="388.9" y1="64.33888888888887" x2="391.2" y2="64.33888888888887" stroke="#000" stroke-width="0.9"/>
<line x1="388.9" y1="62.03611111111111" x2="391.2" y2="62.03611111111111" stroke="#000" stroke-width="0.9"/>
<line x1="388.9" y1="59.73333333333333" x2="391.2" y2="59.73333333333333" stroke="#000" stroke-width="0.9"/>
<line x1="388.9" y1="57.43055555555556" x2="391.2" y2="57.43055555555556" stroke="#000" stroke-width="0.9"/>
<line x1="388.9" y1="55.12777777777777" x2="391.2" y2="55.12777777777777" stroke="#000" stroke-width="0.9"/>
<line x1="387.0" y1="52.824999999999996" x2="391.2" y2="52.824999999999996" stroke="#000" stroke-width="0.9"/>
<line x1="388.9" y1="50.52222222222221" x2="391.2" y2="50.52222222222221" stroke="#000" stroke-width="0.9"/>
<line x1="388.9" y1="48.219444444444434" x2="391.2" y2="48.219444444444434" stroke="#000" stroke-width="0.9"/>
<line x1="388.9" y1="45.91666666666667" x2="391.2" y2="45.91666666666667" stroke="#000" stroke-width="0.9"/>
<line x1="388.9" y1="43.61388888888888" x2="391.2" y2="43.61388888888888" stroke="#000" stroke-width="0.9"/>
<line x1="388.9" y1="41.3111111111111" x2="391.2" y2="41.3111111111111" stroke="#000" stroke-width="0.9"/>
<line x1="388.9" y1="39.008333333333326" x2="391.2" y2="39.008333333333326" stroke="#000" stroke-width="0.9"/>
<line x1="388.9" y1="36.70555555555555" x2="391.2" y2="36.70555555555555" stroke="#000" stroke-width="0.9"/>
<line x1="388.9" y1="34.40277777777777" x2="391.2" y2="34.40277777777777" stroke="#000" stroke-width="0.9"/>
<line x1="387.0" y1="32.099999999999994" x2="391.2" y2="32.099999999999994" stroke="#000" stroke-width="0.9"/>
<line x1="447.7" y1="31.6" x2="447.7" y2="115" stroke="#000" stroke-width="1.1"/>
<text x="385.2" y="36.2" style="font-family:'Liberation Serif',serif;font-weight:bold;stroke:#000;stroke-width:0.25px;font-size:9.6px" text-anchor="end" >100</text>
<text x="388" y="118" style="font-family:'Liberation Serif',serif;font-weight:bold;stroke:#000;stroke-width:0.25px;font-size:9.5px" text-anchor="end" >0</text>
<text x="392.5" y="133.6" style="font-family:'Liberation Serif',serif;font-weight:bold;stroke:#000;stroke-width:0.25px;font-size:10.1px" text-anchor="middle">10<tspan dy="-3.7" style="font-size:8.9px">0</tspan></text>
<text x="488.5" y="135" style="font-family:'Liberation Serif',serif;font-weight:bold;stroke:#000;stroke-width:0.25px;font-size:10.1px" text-anchor="middle">10<tspan dy="-3.7" style="font-size:8.9px">4</tspan></text>
<text x="482" y="43.5" style="font-family:'Liberation Serif',serif;font-weight:bold;stroke:#000;stroke-width:0.25px;font-size:9.3px" text-anchor="middle" >72</text>
<path d="M392.3 84.9 L392.3 86.0 L392.3 87.1 L392.3 88.1 L392.3 89.3 L392.3 90.3 L392.4 91.2 L392.4 92.1 L392.4 93.0 L392.4 94.3 L392.4 94.7 L392.4 96.1 L392.4 96.9 L392.4 98.1 L392.4 99.6 L392.4 99.8 L392.4 101.1 L392.4 101.7 L392.5 103.1 L392.5 104.0 L392.5 104.9 L392.5 105.7 L392.5 107.5 L392.5 108.4 L393.2 108.6 L393.9 108.7 L394.7 109.3 L395.4 109.6 L396.1 110.0 L396.8 110.6 L397.5 111.1 L398.2 111.8 L398.9 111.9 L399.6 111.7 L400.3 112.1 L401.4 112.9 L402.4 112.7 L403.5 112.8 L404.5 112.1 L405.6 112.1 L406.6 112.4 L407.7 112.6 L408.7 112.1 L409.7 112.1 L410.6 112.2 L411.6 111.8 L412.6 112.1 L413.1 111.7 L413.6 110.4 L414.0 110.5 L414.5 109.5 L415.3 110.3 L416.1 110.2 L416.9 110.3 L417.5 109.9 L418.1 109.5 L418.8 109.2 L419.4 108.9 L420.0 108.4 L420.5 107.8 L421.0 107.6 L421.6 107.1 L422.1 106.6 L422.6 105.7 L423.1 104.7 L423.4 103.9 L423.7 103.4 L424.0 102.7 L424.3 102.2 L424.6 101.4 L424.9 100.0 L425.2 100.1 L425.5 98.7 L425.8 97.7 L426.0 97.3 L426.3 96.5 L426.6 95.8 L426.8 95.3 L427.1 94.7 L427.3 93.1 L427.6 92.7 L427.9 93.1 L428.2 94.1 L428.6 94.9 L428.9 95.5 L429.2 96.0 L429.5 97.3 L429.7 97.8 L430.0 98.6 L430.3 99.3 L430.6 100.6 L430.8 101.3 L431.1 101.7 L431.4 102.7 L431.7 103.7 L432.0 104.1 L432.3 105.2 L432.6 105.5 L432.9 106.6 L433.2 107.7 L433.5 108.6 L434.1 109.1 L434.8 109.5 L435.4 109.4 L436.0 110.3 L436.6 110.9 L437.2 110.3 L437.9 111.1 L438.5 111.6 L439.1 112.3 L439.7 112.0 L440.7 112.3 L441.7 112.6 L442.6 111.6 L443.6 111.4 L444.6 111.5 L445.2 111.1 L445.8 110.7 L446.5 110.3 L447.1 109.5 L447.7 108.4 L448.3 107.9 L448.9 108.1 L449.5 107.5 L450.1 106.7 L450.7 105.9 L451.3 106.2 L451.9 105.1 L452.1 104.6 L452.3 103.8 L452.5 103.0 L452.8 101.8 L453.0 101.4 L453.2 100.9 L453.4 100.1 L453.6 99.2 L453.9 98.7 L454.1 98.0 L454.3 96.6 L454.5 95.8 L454.6 96.4 L454.8 97.8 L454.9 98.1 L455.1 99.7 L455.2 100.5 L455.4 101.4 L455.6 101.9 L455.7 103.3 L455.9 104.2 L456.0 104.5 L456.2 103.9 L456.4 103.0 L456.7 102.8 L456.9 101.1 L457.1 101.2 L457.4 99.6 L457.6 98.7 L457.8 97.9 L458.0 97.7 L458.2 96.1 L458.3 95.9 L458.5 95.4 L458.7 94.2 L458.9 93.1 L459.1 92.3 L459.2 92.0 L459.4 90.8 L459.6 89.9 L459.7 88.5 L459.7 87.9 L459.8 86.9 L459.8 85.8 L459.9 85.3 L459.9 83.7 L459.9 82.9 L460.0 81.8 L460.1 80.8 L460.1 80.1 L460.1 79.3 L460.2 78.4 L460.4 77.1 L460.6 76.3 L460.7 76.0 L460.9 74.5 L461.1 73.6 L461.3 72.8 L461.5 71.8 L461.6 71.1 L461.8 70.1 L462.0 70.0 L462.1 68.9 L462.3 67.6 L462.4 67.1 L462.5 65.8 L462.7 65.0 L462.8 63.8 L462.9 63.1 L463.1 62.6 L463.2 61.7 L463.3 60.6 L463.4 59.4 L463.5 58.4 L463.6 57.3 L463.7 56.6 L463.8 56.0 L463.8 54.4 L463.9 53.3 L464.0 52.6 L464.1 51.3 L464.2 50.9 L464.3 49.5 L464.4 48.8 L464.5 50.0 L464.5 51.0 L464.6 51.7 L464.6 53.2 L464.7 53.9 L464.8 55.1 L464.8 56.0 L464.9 56.5 L465.0 57.9 L465.0 58.9 L465.1 59.4 L465.1 60.5 L465.2 61.6 L465.3 62.7 L465.3 62.9 L465.4 64.4 L465.5 64.8 L465.6 66.4 L465.6 67.0 L465.7 67.7 L465.8 69.2 L465.8 70.3 L465.9 70.7 L466.0 71.9 L466.1 72.3 L466.1 73.5 L466.2 74.6 L466.3 75.7 L466.4 76.6 L466.5 77.2 L466.6 78.7 L466.7 79.2 L466.8 80.3 L466.9 81.5 L467.0 82.2 L467.1 82.9 L467.2 84.0 L467.3 84.6 L467.4 85.4 L467.5 86.6 L467.6 88.1 L467.7 89.1 L467.7 89.3 L467.8 90.8 L467.8 92.0 L467.9 92.2 L467.9 94.0 L468.0 94.4 L468.0 95.8 L468.1 96.8 L468.1 98.0 L468.2 98.4 L468.2 99.8 L468.2 100.7 L468.3 101.7 L468.5 102.5 L468.6 104.0 L468.8 104.1 L468.9 105.9 L469.1 106.2 L469.2 107.8 L469.4 108.5 L469.5 109.2 L469.7 110.2 L470.3 110.7 L470.9 111.5 L471.5 111.5 L472.1 112.5 L472.7 112.6 L473.3 113.1 L474.1 113.3 L474.9 114.5 L475.7 114.6 L476.7 114.0 L477.7 114.0 L478.8 114.0 L479.8 113.9 L480.8 114.3 L481.8 114.7 L482.9 114.3 L483.9 114.6 L484.9 114.4 L485.9 114.1 L487.0 114.5 L488.0 114.5 L489.0 114.5" fill="none" stroke="#000" stroke-width="1.3" stroke-linejoin="round"/>
<line x1="390.4" y1="148" x2="390.4" y2="231.7" stroke="#000" stroke-width="1.4"/>
<line x1="389.9" y1="231.2" x2="490.2" y2="231.2" stroke="#000" stroke-width="1.4"/>
<line x1="390.4" y1="148" x2="490.2" y2="148" stroke="#222" stroke-width="1.0"/>
<line x1="490.2" y1="148" x2="490.2" y2="231.2" stroke="#333" stroke-width="1.0"/>
<line x1="390.4" y1="231.2" x2="390.4" y2="235.2" stroke="#000" stroke-width="1.0"/>
<line x1="397.8203893931171" y1="231.2" x2="397.8203893931171" y2="233.5" stroke="#000" stroke-width="1.0"/>
<line x1="402.1610389288397" y1="231.2" x2="402.1610389288397" y2="233.5" stroke="#000" stroke-width="1.0"/>
<line x1="405.2407787862343" y1="231.2" x2="405.2407787862343" y2="233.5" stroke="#000" stroke-width="1.0"/>
<line x1="407.62961060688286" y1="231.2" x2="407.62961060688286" y2="233.5" stroke="#000" stroke-width="1.0"/>
<line x1="409.5814283219568" y1="231.2" x2="409.5814283219568" y2="233.5" stroke="#000" stroke-width="1.0"/>
<line x1="411.2316666863514" y1="231.2" x2="411.2316666863514" y2="233.5" stroke="#000" stroke-width="1.0"/>
<line x1="412.66116817935136" y1="231.2" x2="412.66116817935136" y2="233.5" stroke="#000" stroke-width="1.0"/>
<line x1="413.9220778576793" y1="231.2" x2="413.9220778576793" y2="233.5" stroke="#000" stroke-width="1.0"/>
<line x1="415.04999999999995" y1="231.2" x2="415.04999999999995" y2="235.2" stroke="#000" stroke-width="1.0"/>
<line x1="422.4703893931171" y1="231.2" x2="422.4703893931171" y2="233.5" stroke="#000" stroke-width="1.0"/>
<line x1="426.81103892883965" y1="231.2" x2="426.81103892883965" y2="233.5" stroke="#000" stroke-width="1.0"/>
<line x1="429.89077878623425" y1="231.2" x2="429.89077878623425" y2="233.5" stroke="#000" stroke-width="1.0"/>
<line x1="432.27961060688284" y1="231.2" x2="432.27961060688284" y2="233.5" stroke="#000" stroke-width="1.0"/>
<line x1="434.2314283219568" y1="231.2" x2="434.2314283219568" y2="233.5" stroke="#000" stroke-width="1.0"/>
<line x1="435.8816666863514" y1="231.2" x2="435.8816666863514" y2="233.5" stroke="#000" stroke-width="1.0"/>
<line x1="437.3111681793514" y1="231.2" x2="437.3111681793514" y2="233.5" stroke="#000" stroke-width="1.0"/>
<line x1="438.57207785767935" y1="231.2" x2="438.57207785767935" y2="233.5" stroke="#000" stroke-width="1.0"/>
<line x1="439.7" y1="231.2" x2="439.7" y2="235.2" stroke="#000" stroke-width="1.0"/>
<line x1="447.12038939311714" y1="231.2" x2="447.12038939311714" y2="233.5" stroke="#000" stroke-width="1.0"/>
<line x1="451.4610389288397" y1="231.2" x2="451.4610389288397" y2="233.5" stroke="#000" stroke-width="1.0"/>
<line x1="454.5407787862342" y1="231.2" x2="454.5407787862342" y2="233.5" stroke="#000" stroke-width="1.0"/>
<line x1="456.9296106068829" y1="231.2" x2="456.9296106068829" y2="233.5" stroke="#000" stroke-width="1.0"/>
<line x1="458.88142832195683" y1="231.2" x2="458.88142832195683" y2="233.5" stroke="#000" stroke-width="1.0"/>
<line x1="460.5316666863514" y1="231.2" x2="460.5316666863514" y2="233.5" stroke="#000" stroke-width="1.0"/>
<line x1="461.9611681793514" y1="231.2" x2="461.9611681793514" y2="233.5" stroke="#000" stroke-width="1.0"/>
<line x1="463.2220778576793" y1="231.2" x2="463.2220778576793" y2="233.5" stroke="#000" stroke-width="1.0"/>
<line x1="464.34999999999997" y1="231.2" x2="464.34999999999997" y2="235.2" stroke="#000" stroke-width="1.0"/>
<line x1="471.7703893931171" y1="231.2" x2="471.7703893931171" y2="233.5" stroke="#000" stroke-width="1.0"/>
<line x1="476.11103892883966" y1="231.2" x2="476.11103892883966" y2="233.5" stroke="#000" stroke-width="1.0"/>
<line x1="479.19077878623426" y1="231.2" x2="479.19077878623426" y2="233.5" stroke="#000" stroke-width="1.0"/>
<line x1="481.57961060688285" y1="231.2" x2="481.57961060688285" y2="233.5" stroke="#000" stroke-width="1.0"/>
<line x1="483.5314283219568" y1="231.2" x2="483.5314283219568" y2="233.5" stroke="#000" stroke-width="1.0"/>
<line x1="485.18166668635143" y1="231.2" x2="485.18166668635143" y2="233.5" stroke="#000" stroke-width="1.0"/>
<line x1="486.6111681793514" y1="231.2" x2="486.6111681793514" y2="233.5" stroke="#000" stroke-width="1.0"/>
<line x1="487.87207785767936" y1="231.2" x2="487.87207785767936" y2="233.5" stroke="#000" stroke-width="1.0"/>
<line x1="489.0" y1="231.2" x2="489.0" y2="235.2" stroke="#000" stroke-width="1.0"/>
<line x1="386.2" y1="231.2" x2="390.4" y2="231.2" stroke="#000" stroke-width="0.9"/>
<line x1="388.09999999999997" y1="228.90277777777777" x2="390.4" y2="228.90277777777777" stroke="#000" stroke-width="0.9"/>
<line x1="388.09999999999997" y1="226.60555555555555" x2="390.4" y2="226.60555555555555" stroke="#000" stroke-width="0.9"/>
<line x1="388.09999999999997" y1="224.30833333333334" x2="390.4" y2="224.30833333333334" stroke="#000" stroke-width="0.9"/>
<line x1="388.09999999999997" y1="222.0111111111111" x2="390.4" y2="222.0111111111111" stroke="#000" stroke-width="0.9"/>
<line x1="388.09999999999997" y1="219.71388888888887" x2="390.4" y2="219.71388888888887" stroke="#000" stroke-width="0.9"/>
<line x1="388.09999999999997" y1="217.41666666666666" x2="390.4" y2="217.41666666666666" stroke="#000" stroke-width="0.9"/>
<line x1="388.09999999999997" y1="215.11944444444444" x2="390.4" y2="215.11944444444444" stroke="#000" stroke-width="0.9"/>
<line x1="388.09999999999997" y1="212.82222222222222" x2="390.4" y2="212.82222222222222" stroke="#000" stroke-width="0.9"/>
<line x1="386.2" y1="210.52499999999998" x2="390.4" y2="210.52499999999998" stroke="#000" stroke-width="0.9"/>
<line x1="388.09999999999997" y1="208.22777777777776" x2="390.4" y2="208.22777777777776" stroke="#000" stroke-width="0.9"/>
<line x1="388.09999999999997" y1="205.93055555555554" x2="390.4" y2="205.93055555555554" stroke="#000" stroke-width="0.9"/>
<line x1="388.09999999999997" y1="203.63333333333333" x2="390.4" y2="203.63333333333333" stroke="#000" stroke-width="0.9"/>
<line x1="388.09999999999997" y1="201.3361111111111" x2="390.4" y2="201.3361111111111" stroke="#000" stroke-width="0.9"/>
<line x1="388.09999999999997" y1="199.0388888888889" x2="390.4" y2="199.0388888888889" stroke="#000" stroke-width="0.9"/>
<line x1="388.09999999999997" y1="196.74166666666667" x2="390.4" y2="196.74166666666667" stroke="#000" stroke-width="0.9"/>
<line x1="388.09999999999997" y1="194.44444444444443" x2="390.4" y2="194.44444444444443" stroke="#000" stroke-width="0.9"/>
<line x1="388.09999999999997" y1="192.1472222222222" x2="390.4" y2="192.1472222222222" stroke="#000" stroke-width="0.9"/>
<line x1="386.2" y1="189.85" x2="390.4" y2="189.85" stroke="#000" stroke-width="0.9"/>
<line x1="388.09999999999997" y1="187.55277777777778" x2="390.4" y2="187.55277777777778" stroke="#000" stroke-width="0.9"/>
<line x1="388.09999999999997" y1="185.25555555555556" x2="390.4" y2="185.25555555555556" stroke="#000" stroke-width="0.9"/>
<line x1="388.09999999999997" y1="182.95833333333331" x2="390.4" y2="182.95833333333331" stroke="#000" stroke-width="0.9"/>
<line x1="388.09999999999997" y1="180.6611111111111" x2="390.4" y2="180.6611111111111" stroke="#000" stroke-width="0.9"/>
<line x1="388.09999999999997" y1="178.36388888888888" x2="390.4" y2="178.36388888888888" stroke="#000" stroke-width="0.9"/>
<line x1="388.09999999999997" y1="176.06666666666666" x2="390.4" y2="176.06666666666666" stroke="#000" stroke-width="0.9"/>
<line x1="388.09999999999997" y1="173.76944444444445" x2="390.4" y2="173.76944444444445" stroke="#000" stroke-width="0.9"/>
<line x1="388.09999999999997" y1="171.47222222222223" x2="390.4" y2="171.47222222222223" stroke="#000" stroke-width="0.9"/>
<line x1="386.2" y1="169.175" x2="390.4" y2="169.175" stroke="#000" stroke-width="0.9"/>
<line x1="388.09999999999997" y1="166.8777777777778" x2="390.4" y2="166.8777777777778" stroke="#000" stroke-width="0.9"/>
<line x1="388.09999999999997" y1="164.58055555555555" x2="390.4" y2="164.58055555555555" stroke="#000" stroke-width="0.9"/>
<line x1="388.09999999999997" y1="162.28333333333333" x2="390.4" y2="162.28333333333333" stroke="#000" stroke-width="0.9"/>
<line x1="388.09999999999997" y1="159.9861111111111" x2="390.4" y2="159.9861111111111" stroke="#000" stroke-width="0.9"/>
<line x1="388.09999999999997" y1="157.68888888888887" x2="390.4" y2="157.68888888888887" stroke="#000" stroke-width="0.9"/>
<line x1="388.09999999999997" y1="155.39166666666665" x2="390.4" y2="155.39166666666665" stroke="#000" stroke-width="0.9"/>
<line x1="388.09999999999997" y1="153.09444444444443" x2="390.4" y2="153.09444444444443" stroke="#000" stroke-width="0.9"/>
<line x1="388.09999999999997" y1="150.79722222222222" x2="390.4" y2="150.79722222222222" stroke="#000" stroke-width="0.9"/>
<line x1="386.2" y1="148.5" x2="390.4" y2="148.5" stroke="#000" stroke-width="0.9"/>
<line x1="447.5" y1="148" x2="447.5" y2="231.2" stroke="#000" stroke-width="1.0"/>
<text x="384.4" y="152.6" style="font-family:'Liberation Serif',serif;font-weight:bold;stroke:#000;stroke-width:0.25px;font-size:9.6px" text-anchor="end" >100</text>
<text x="388" y="233.5" style="font-family:'Liberation Serif',serif;font-weight:bold;stroke:#000;stroke-width:0.25px;font-size:9.5px" text-anchor="end" >0</text>
<text x="392" y="249.5" style="font-family:'Liberation Serif',serif;font-weight:bold;stroke:#000;stroke-width:0.25px;font-size:10.1px" text-anchor="middle">10<tspan dy="-3.7" style="font-size:8.9px">0</tspan></text>
<text x="489" y="251" style="font-family:'Liberation Serif',serif;font-weight:bold;stroke:#000;stroke-width:0.25px;font-size:10.1px" text-anchor="middle">10<tspan dy="-3.7" style="font-size:8.9px">4</tspan></text>
<text x="482" y="160.5" style="font-family:'Liberation Serif',serif;font-weight:bold;stroke:#000;stroke-width:0.25px;font-size:9.3px" text-anchor="middle" >24</text>
<path d="M391.0 228.2 L391.8 228.3 L392.6 227.8 L393.3 228.2 L394.1 227.5 L394.9 227.1 L395.7 227.6 L396.4 226.7 L397.2 226.7 L398.0 226.2 L399.0 226.2 L400.0 226.3 L401.0 225.9 L402.0 226.4 L403.0 226.5 L404.0 226.1 L405.0 225.5 L405.5 226.2 L406.0 227.1 L406.5 227.1 L407.0 228.0 L408.0 228.6 L409.0 227.9 L410.0 228.7 L411.0 228.3 L411.7 228.6 L412.3 228.2 L413.0 227.6 L413.7 226.9 L414.3 226.6 L415.0 226.8 L415.6 225.7 L416.2 225.8 L416.9 225.1 L417.5 225.1 L418.1 224.5 L418.8 223.5 L419.4 223.6 L420.0 222.7 L420.8 222.9 L421.6 222.7 L422.4 221.7 L423.2 222.0 L424.0 221.4 L424.2 221.0 L424.5 219.5 L424.8 219.2 L425.0 218.1 L425.2 217.4 L425.5 216.6 L425.8 215.8 L426.0 214.7 L426.4 215.8 L426.8 216.3 L427.2 217.0 L427.6 217.7 L428.0 217.0 L428.5 216.7 L428.9 216.3 L429.3 215.7 L429.7 214.6 L430.1 214.6 L430.6 213.8 L431.0 213.5 L431.2 212.4 L431.5 211.8 L431.8 210.4 L432.0 209.8 L432.2 209.1 L432.5 209.0 L432.8 207.7 L433.0 207.0 L433.1 206.3 L433.3 205.7 L433.4 204.4 L433.6 203.5 L433.7 202.5 L433.9 202.3 L434.0 201.4 L434.1 200.1 L434.3 199.6 L434.4 198.1 L434.6 197.9 L434.7 196.9 L434.9 195.9 L435.0 195.1 L435.1 193.8 L435.2 193.5 L435.4 192.0 L435.5 191.9 L435.6 191.0 L435.8 190.1 L435.9 188.9 L436.0 187.7 L436.5 188.8 L436.9 189.7 L437.4 190.2 L437.6 188.7 L437.7 188.5 L437.9 187.4 L438.1 186.3 L438.3 186.1 L438.4 185.0 L438.6 184.4 L438.7 184.4 L438.9 185.5 L439.0 186.6 L439.2 188.0 L439.3 188.2 L439.4 189.2 L439.6 190.3 L439.7 190.8 L439.9 191.8 L440.0 193.0 L440.1 193.6 L440.3 194.4 L440.4 196.0 L440.6 196.3 L440.7 197.0 L440.9 198.4 L441.0 199.2 L441.1 200.3 L441.3 201.0 L441.4 201.8 L441.6 202.8 L441.7 203.2 L441.9 204.0 L442.0 205.2 L442.2 205.8 L442.3 206.6 L442.5 208.0 L442.7 208.0 L442.8 209.2 L443.0 209.8 L443.2 210.5 L443.3 211.8 L443.5 212.7 L443.7 212.9 L443.8 214.2 L444.0 214.8 L444.2 215.5 L444.5 216.2 L444.8 217.0 L445.0 218.0 L445.2 218.3 L445.5 219.7 L445.8 220.2 L446.0 220.5 L446.3 221.4 L446.6 222.3 L446.8 223.1 L447.1 224.2 L447.4 224.8 L448.3 224.7 L449.2 224.6 L450.1 224.6 L451.0 224.2 L451.7 224.7 L452.4 224.9 L453.1 224.4 L453.9 225.5 L454.6 225.5 L455.3 225.9 L456.0 225.6 L456.8 226.2 L457.6 225.6 L458.4 224.9 L459.2 225.4 L460.0 224.5 L460.8 224.5 L461.7 224.3 L462.5 223.5 L463.3 223.2 L464.2 223.0 L465.0 222.9 L465.2 222.4 L465.4 221.4 L465.6 220.9 L465.8 220.1 L466.0 218.7 L466.2 218.0 L466.4 216.9 L466.6 217.0 L466.8 216.2 L467.0 214.7 L467.1 214.2 L467.3 212.9 L467.4 212.7 L467.6 211.6 L467.7 211.0 L467.9 209.9 L468.0 208.6 L468.1 207.8 L468.3 207.0 L468.4 206.6 L468.6 206.0 L468.7 204.9 L468.9 204.0 L469.0 202.6 L469.2 204.1 L469.4 205.2 L469.6 205.5 L469.8 206.5 L470.0 207.7 L470.2 207.9 L470.4 208.7 L470.5 209.6 L470.7 210.9 L470.8 212.1 L471.0 212.2 L471.1 214.0 L471.3 214.4 L471.4 215.0 L471.6 216.6 L471.7 216.8 L471.9 217.8 L472.0 219.1 L472.2 219.6 L472.5 220.7 L472.8 220.8 L473.0 222.3 L473.2 223.0 L473.5 223.7 L473.8 224.0 L474.0 224.6 L474.7 225.7 L475.3 226.0 L476.0 226.0 L476.7 226.7 L477.3 227.3 L478.0 227.2 L478.9 227.5 L479.7 227.7 L480.6 227.7 L481.4 228.6 L482.3 228.2 L483.1 228.4 L484.0 229.4 L484.8 228.7 L485.7 229.6 L486.5 229.1 L487.3 229.5 L488.2 230.0 L489.0 230.0" fill="none" stroke="#000" stroke-width="1.3" stroke-linejoin="round"/>
<text x="421" y="266.4" style="font-family:'Liberation Serif',serif;font-weight:bold;stroke:#000;stroke-width:0.25px;font-size:14.7px" text-anchor="start" >DiOC6</text>
<text x="4.5" y="340" style="font-family:'Liberation Serif',serif;font-weight:bold;stroke:#000;stroke-width:0.25px;font-size:14.7px" text-anchor="start" >Medium</text>
<text x="4.5" y="368.5" style="font-family:'Liberation Serif',serif;font-weight:bold;stroke:#000;stroke-width:0.25px;font-size:14.7px" text-anchor="start" >Sildenafil</text>
<text x="4.5" y="396" style="font-family:'Liberation Serif',serif;font-weight:bold;stroke:#000;stroke-width:0.25px;font-size:14.7px" text-anchor="start" word-spacing="1.1">Sildenafil + z-VAD</text>
<rect x="126.5" y="318.3" width="14.199999999999989" height="27.5" fill="#fff" stroke="#000" stroke-width="1"/>
<rect x="126.5" y="345.8" width="136.2" height="27.7" fill="url(#dots)" stroke="#000" stroke-width="1"/>
<rect x="126.5" y="373.4" width="26.30000000000001" height="27" fill="#000" stroke="#000" stroke-width="1"/>
<line x1="126.5" y1="311" x2="126.5" y2="407.5" stroke="#000" stroke-width="1.1"/>
<line x1="126.5" y1="407.5" x2="280" y2="407.5" stroke="#000" stroke-width="1.0"/>
<line x1="126.5" y1="407.5" x2="126.5" y2="410.5" stroke="#000" stroke-width="1"/>
<text x="126.5" y="420" style="font-family:'Liberation Serif',serif;font-weight:bold;stroke:#000;stroke-width:0.25px;font-size:8.9px" text-anchor="middle" >0</text>
<line x1="152.05" y1="407.5" x2="152.05" y2="410.5" stroke="#000" stroke-width="1"/>
<text x="152.05" y="420" style="font-family:'Liberation Serif',serif;font-weight:bold;stroke:#000;stroke-width:0.25px;font-size:8.9px" text-anchor="middle" >10</text>
<line x1="177.6" y1="407.5" x2="177.6" y2="410.5" stroke="#000" stroke-width="1"/>
<text x="177.6" y="420" style="font-family:'Liberation Serif',serif;font-weight:bold;stroke:#000;stroke-width:0.25px;font-size:8.9px" text-anchor="middle" >20</text>
<line x1="203.15" y1="407.5" x2="203.15" y2="410.5" stroke="#000" stroke-width="1"/>
<text x="203.15" y="420" style="font-family:'Liberation Serif',serif;font-weight:bold;stroke:#000;stroke-width:0.25px;font-size:8.9px" text-anchor="middle" >30</text>
<line x1="228.7" y1="407.5" x2="228.7" y2="410.5" stroke="#000" stroke-width="1"/>
<text x="228.7" y="420" style="font-family:'Liberation Serif',serif;font-weight:bold;stroke:#000;stroke-width:0.25px;font-size:8.9px" text-anchor="middle" >40</text>
<line x1="254.25" y1="407.5" x2="254.25" y2="410.5" stroke="#000" stroke-width="1"/>
<text x="254.25" y="420" style="font-family:'Liberation Serif',serif;font-weight:bold;stroke:#000;stroke-width:0.25px;font-size:8.9px" text-anchor="middle" >50</text>
<line x1="279.8" y1="407.5" x2="279.8" y2="410.5" stroke="#000" stroke-width="1"/>
<text x="279.8" y="420" style="font-family:'Liberation Serif',serif;font-weight:bold;stroke:#000;stroke-width:0.25px;font-size:8.9px" text-anchor="middle" >60</text>
<rect x="368.5" y="320.5" width="67.5" height="27" fill="#fff" stroke="#000" stroke-width="1"/>
<rect x="368.5" y="347.5" width="141.5" height="26.5" fill="url(#dots)" stroke="#000" stroke-width="1"/>
<rect x="368.5" y="374" width="53.5" height="26.5" fill="#000" stroke="#000" stroke-width="1"/>
<line x1="368.5" y1="313.5" x2="368.5" y2="407.5" stroke="#000" stroke-width="1.1"/>
<line x1="368.5" y1="407.5" x2="515.5" y2="407.5" stroke="#000" stroke-width="1.0"/>
<line x1="368.5" y1="407.5" x2="368.5" y2="410.5" stroke="#000" stroke-width="1"/>
<text x="368.5" y="421" style="font-family:'Liberation Serif',serif;font-weight:bold;stroke:#000;stroke-width:0.25px;font-size:8.9px" text-anchor="middle" >0</text>
<line x1="397.85" y1="407.5" x2="397.85" y2="410.5" stroke="#000" stroke-width="1"/>
<text x="397.85" y="421" style="font-family:'Liberation Serif',serif;font-weight:bold;stroke:#000;stroke-width:0.25px;font-size:8.9px" text-anchor="middle" >10</text>
<line x1="427.2" y1="407.5" x2="427.2" y2="410.5" stroke="#000" stroke-width="1"/>
<text x="427.2" y="421" style="font-family:'Liberation Serif',serif;font-weight:bold;stroke:#000;stroke-width:0.25px;font-size:8.9px" text-anchor="middle" >20</text>
<line x1="456.55" y1="407.5" x2="456.55" y2="410.5" stroke="#000" stroke-width="1"/>
<text x="456.55" y="421" style="font-family:'Liberation Serif',serif;font-weight:bold;stroke:#000;stroke-width:0.25px;font-size:8.9px" text-anchor="middle" >30</text>
<line x1="485.9" y1="407.5" x2="485.9" y2="410.5" stroke="#000" stroke-width="1"/>
<text x="485.9" y="421" style="font-family:'Liberation Serif',serif;font-weight:bold;stroke:#000;stroke-width:0.25px;font-size:8.9px" text-anchor="middle" >40</text>
<line x1="515.25" y1="407.5" x2="515.25" y2="410.5" stroke="#000" stroke-width="1"/>
<text x="515.25" y="421" style="font-family:'Liberation Serif',serif;font-weight:bold;stroke:#000;stroke-width:0.25px;font-size:8.9px" text-anchor="middle" >50</text>
<text x="264.3" y="442.5" style="font-family:'Liberation Serif',serif;font-weight:bold;stroke:#000;stroke-width:0.25px;font-size:14.6px" text-anchor="start" word-spacing="0.8">% Annexin Positive Cells</text>
<line x1="70.4" y1="517.9" x2="70.4" y2="635.4" stroke="#000" stroke-width="1.5"/>
<line x1="64.9" y1="631.9" x2="219" y2="631.9" stroke="#000" stroke-width="1.6"/>
<line x1="65.4" y1="517.9" x2="219" y2="517.9" stroke="#111" stroke-width="1.1"/>
<line x1="219" y1="517.9" x2="219" y2="631.9" stroke="#000" stroke-width="1.3"/>
<line x1="70.4" y1="631.9" x2="70.4" y2="635.9" stroke="#000" stroke-width="0.9"/>
<line x1="81.47037809054291" y1="631.9" x2="81.47037809054291" y2="634.1" stroke="#000" stroke-width="0.9"/>
<line x1="87.94613414231559" y1="631.9" x2="87.94613414231559" y2="634.1" stroke="#000" stroke-width="0.9"/>
<line x1="92.54075618108583" y1="631.9" x2="92.54075618108583" y2="634.1" stroke="#000" stroke-width="0.9"/>
<line x1="96.1046219094571" y1="631.9" x2="96.1046219094571" y2="634.1" stroke="#000" stroke-width="0.9"/>
<line x1="99.0165122328585" y1="631.9" x2="99.0165122328585" y2="634.1" stroke="#000" stroke-width="0.9"/>
<line x1="101.4784804215243" y1="631.9" x2="101.4784804215243" y2="634.1" stroke="#000" stroke-width="0.9"/>
<line x1="103.61113427162873" y1="631.9" x2="103.61113427162873" y2="634.1" stroke="#000" stroke-width="0.9"/>
<line x1="105.49226828463117" y1="631.9" x2="105.49226828463117" y2="634.1" stroke="#000" stroke-width="0.9"/>
<line x1="107.17500000000001" y1="631.9" x2="107.17500000000001" y2="635.9" stroke="#000" stroke-width="0.9"/>
<line x1="118.24537809054291" y1="631.9" x2="118.24537809054291" y2="634.1" stroke="#000" stroke-width="0.9"/>
<line x1="124.72113414231558" y1="631.9" x2="124.72113414231558" y2="634.1" stroke="#000" stroke-width="0.9"/>
<line x1="129.31575618108582" y1="631.9" x2="129.31575618108582" y2="634.1" stroke="#000" stroke-width="0.9"/>
<line x1="132.8796219094571" y1="631.9" x2="132.8796219094571" y2="634.1" stroke="#000" stroke-width="0.9"/>
<line x1="135.7915122328585" y1="631.9" x2="135.7915122328585" y2="634.1" stroke="#000" stroke-width="0.9"/>
<line x1="138.2534804215243" y1="631.9" x2="138.2534804215243" y2="634.1" stroke="#000" stroke-width="0.9"/>
<line x1="140.38613427162872" y1="631.9" x2="140.38613427162872" y2="634.1" stroke="#000" stroke-width="0.9"/>
<line x1="142.26726828463117" y1="631.9" x2="142.26726828463117" y2="634.1" stroke="#000" stroke-width="0.9"/>
<line x1="143.95" y1="631.9" x2="143.95" y2="635.9" stroke="#000" stroke-width="0.9"/>
<line x1="155.02037809054292" y1="631.9" x2="155.02037809054292" y2="634.1" stroke="#000" stroke-width="0.9"/>
<line x1="161.4961341423156" y1="631.9" x2="161.4961341423156" y2="634.1" stroke="#000" stroke-width="0.9"/>
<line x1="166.09075618108582" y1="631.9" x2="166.09075618108582" y2="634.1" stroke="#000" stroke-width="0.9"/>
<line x1="169.6546219094571" y1="631.9" x2="169.6546219094571" y2="634.1" stroke="#000" stroke-width="0.9"/>
<line x1="172.56651223285849" y1="631.9" x2="172.56651223285849" y2="634.1" stroke="#000" stroke-width="0.9"/>
<line x1="175.0284804215243" y1="631.9" x2="175.0284804215243" y2="634.1" stroke="#000" stroke-width="0.9"/>
<line x1="177.16113427162873" y1="631.9" x2="177.16113427162873" y2="634.1" stroke="#000" stroke-width="0.9"/>
<line x1="179.04226828463118" y1="631.9" x2="179.04226828463118" y2="634.1" stroke="#000" stroke-width="0.9"/>
<line x1="180.725" y1="631.9" x2="180.725" y2="635.9" stroke="#000" stroke-width="0.9"/>
<line x1="191.7953780905429" y1="631.9" x2="191.7953780905429" y2="634.1" stroke="#000" stroke-width="0.9"/>
<line x1="198.2711341423156" y1="631.9" x2="198.2711341423156" y2="634.1" stroke="#000" stroke-width="0.9"/>
<line x1="202.86575618108583" y1="631.9" x2="202.86575618108583" y2="634.1" stroke="#000" stroke-width="0.9"/>
<line x1="206.4296219094571" y1="631.9" x2="206.4296219094571" y2="634.1" stroke="#000" stroke-width="0.9"/>
<line x1="209.3415122328585" y1="631.9" x2="209.3415122328585" y2="634.1" stroke="#000" stroke-width="0.9"/>
<line x1="211.8034804215243" y1="631.9" x2="211.8034804215243" y2="634.1" stroke="#000" stroke-width="0.9"/>
<line x1="213.93613427162873" y1="631.9" x2="213.93613427162873" y2="634.1" stroke="#000" stroke-width="0.9"/>
<line x1="215.81726828463115" y1="631.9" x2="215.81726828463115" y2="634.1" stroke="#000" stroke-width="0.9"/>
<line x1="217.5" y1="631.9" x2="217.5" y2="635.9" stroke="#000" stroke-width="0.9"/>
<line x1="65.4" y1="517.9" x2="70.4" y2="517.9" stroke="#000" stroke-width="1.0"/>
<line x1="67.4" y1="522.35" x2="70.4" y2="522.35" stroke="#000" stroke-width="1.0"/>
<line x1="67.4" y1="526.8" x2="70.4" y2="526.8" stroke="#000" stroke-width="1.0"/>
<line x1="67.4" y1="531.25" x2="70.4" y2="531.25" stroke="#000" stroke-width="1.0"/>
<line x1="67.4" y1="535.6999999999999" x2="70.4" y2="535.6999999999999" stroke="#000" stroke-width="1.0"/>
<line x1="65.4" y1="540.15" x2="70.4" y2="540.15" stroke="#000" stroke-width="1.0"/>
<line x1="67.4" y1="544.6" x2="70.4" y2="544.6" stroke="#000" stroke-width="1.0"/>
<line x1="67.4" y1="549.05" x2="70.4" y2="549.05" stroke="#000" stroke-width="1.0"/>
<line x1="67.4" y1="553.5" x2="70.4" y2="553.5" stroke="#000" stroke-width="1.0"/>
<line x1="67.4" y1="557.9499999999999" x2="70.4" y2="557.9499999999999" stroke="#000" stroke-width="1.0"/>
<line x1="65.4" y1="562.4" x2="70.4" y2="562.4" stroke="#000" stroke-width="1.0"/>
<line x1="67.4" y1="566.85" x2="70.4" y2="566.85" stroke="#000" stroke-width="1.0"/>
<line x1="67.4" y1="571.3" x2="70.4" y2="571.3" stroke="#000" stroke-width="1.0"/>
<line x1="67.4" y1="575.75" x2="70.4" y2="575.75" stroke="#000" stroke-width="1.0"/>
<line x1="67.4" y1="580.1999999999999" x2="70.4" y2="580.1999999999999" stroke="#000" stroke-width="1.0"/>
<line x1="65.4" y1="584.65" x2="70.4" y2="584.65" stroke="#000" stroke-width="1.0"/>
<line x1="67.4" y1="589.1" x2="70.4" y2="589.1" stroke="#000" stroke-width="1.0"/>
<line x1="67.4" y1="593.55" x2="70.4" y2="593.55" stroke="#000" stroke-width="1.0"/>
<line x1="67.4" y1="598.0" x2="70.4" y2="598.0" stroke="#000" stroke-width="1.0"/>
<line x1="67.4" y1="602.4499999999999" x2="70.4" y2="602.4499999999999" stroke="#000" stroke-width="1.0"/>
<line x1="65.4" y1="606.9" x2="70.4" y2="606.9" stroke="#000" stroke-width="1.0"/>
<line x1="67.4" y1="611.35" x2="70.4" y2="611.35" stroke="#000" stroke-width="1.0"/>
<line x1="67.4" y1="615.8" x2="70.4" y2="615.8" stroke="#000" stroke-width="1.0"/>
<line x1="67.4" y1="620.25" x2="70.4" y2="620.25" stroke="#000" stroke-width="1.0"/>
<line x1="67.4" y1="624.7" x2="70.4" y2="624.7" stroke="#000" stroke-width="1.0"/>
<line x1="65.4" y1="629.15" x2="70.4" y2="629.15" stroke="#000" stroke-width="1.0"/>
<path d="M75.0 631.5 L75.9 631.4 L76.9 631.3 L77.8 631.2 L78.8 631.1 L79.7 631.0 L80.6 630.9 L81.6 630.8 L82.5 630.8 L83.3 630.5 L84.0 630.2 L84.8 630.0 L85.6 629.8 L86.3 629.5 L87.1 629.2 L87.9 629.0 L88.7 628.8 L89.4 628.5 L90.2 628.2 L91.0 628.0 L91.7 627.8 L92.5 627.5 L92.8 626.8 L93.2 626.1 L93.5 625.5 L93.9 624.8 L94.2 624.1 L94.5 623.4 L94.9 622.7 L95.2 622.0 L95.6 621.4 L95.9 620.7 L96.2 620.0 L96.4 619.1 L96.5 618.2 L96.7 617.4 L96.8 616.5 L97.0 615.6 L97.1 614.7 L97.3 613.8 L97.4 612.9 L97.6 612.1 L97.7 611.2 L97.9 610.3 L98.0 609.4 L98.2 608.5 L98.3 607.6 L98.5 606.8 L98.6 605.9 L98.8 605.0 L98.8 604.1 L98.9 603.1 L98.9 602.2 L99.0 601.2 L99.1 600.3 L99.1 599.4 L99.2 598.4 L99.2 597.5 L99.3 596.6 L99.4 595.6 L99.4 594.7 L99.5 593.8 L99.6 592.8 L99.6 591.9 L99.7 590.9 L99.8 590.0 L99.8 589.1 L99.9 588.1 L99.9 587.2 L100.0 586.2 L100.1 585.3 L100.1 584.4 L100.2 583.4 L100.2 582.5 L100.3 581.6 L100.4 580.6 L100.4 579.7 L100.5 578.8 L100.6 577.8 L100.6 576.9 L100.7 575.9 L100.8 575.0 L100.8 574.1 L100.9 573.1 L100.9 572.2 L101.0 571.2 L101.1 570.3 L101.1 569.4 L101.2 568.4 L101.2 567.5 L101.3 566.6 L101.4 565.6 L101.5 564.7 L101.5 563.8 L101.6 562.9 L101.7 561.9 L101.8 561.0 L101.8 560.1 L101.9 559.1 L102.0 558.2 L102.0 557.3 L102.1 556.4 L102.2 555.4 L102.2 554.5 L102.3 553.6 L102.4 552.6 L102.5 551.7 L102.5 550.8 L102.6 549.9 L102.7 548.9 L102.8 548.0 L102.8 547.1 L102.9 546.1 L103.0 545.2 L103.0 544.3 L103.1 543.4 L103.2 542.4 L103.2 541.5 L103.3 540.6 L103.4 539.6 L103.5 538.7 L103.5 537.8 L103.6 536.9 L103.7 535.9 L103.8 535.0 L103.9 534.1 L104.0 533.2 L104.2 532.2 L104.3 531.3 L104.4 530.4 L104.5 529.5 L104.7 528.6 L104.8 527.7 L105.0 526.8 L105.1 525.8 L105.2 524.9 L105.3 524.0 L105.5 523.1 L105.6 522.2 L105.8 521.2 L106.0 522.0 L106.2 522.8 L106.4 523.6 L106.6 524.4 L106.8 525.2 L107.1 525.9 L107.3 526.7 L107.5 527.5 L107.6 528.5 L107.6 529.4 L107.7 530.4 L107.7 531.3 L107.8 532.3 L107.9 533.2 L107.9 534.2 L108.0 535.1 L108.0 536.1 L108.1 537.0 L108.2 538.0 L108.2 538.9 L108.3 539.9 L108.3 540.8 L108.4 541.8 L108.5 542.7 L108.5 543.7 L108.6 544.6 L108.6 545.6 L108.7 546.5 L108.8 547.5 L108.8 548.5 L108.9 549.4 L108.9 550.4 L109.0 551.3 L109.0 552.3 L109.1 553.2 L109.2 554.2 L109.2 555.1 L109.3 556.1 L109.3 557.0 L109.4 558.0 L109.5 558.9 L109.5 559.9 L109.6 560.8 L109.6 561.8 L109.7 562.7 L109.8 563.7 L109.8 564.6 L109.9 565.6 L109.9 566.5 L110.0 567.5 L110.1 568.4 L110.1 569.4 L110.2 570.3 L110.3 571.2 L110.4 572.1 L110.4 573.1 L110.5 574.0 L110.6 574.9 L110.6 575.9 L110.7 576.8 L110.8 577.7 L110.9 578.6 L110.9 579.6 L111.0 580.5 L111.1 581.4 L111.1 582.4 L111.2 583.3 L111.3 584.2 L111.4 585.1 L111.4 586.1 L111.5 587.0 L111.6 587.9 L111.6 588.9 L111.7 589.8 L111.8 590.7 L111.9 591.6 L111.9 592.6 L112.0 593.5 L112.1 594.4 L112.1 595.4 L112.2 596.3 L112.3 597.2 L112.4 598.1 L112.4 599.1 L112.5 600.0 L112.6 600.9 L112.8 601.8 L112.9 602.6 L113.0 603.5 L113.1 604.4 L113.2 605.2 L113.4 606.1 L113.5 607.0 L113.6 607.9 L113.8 608.8 L113.9 609.6 L114.0 610.5 L114.1 611.4 L114.2 612.2 L114.4 613.1 L114.5 614.0 L114.6 614.9 L114.8 615.8 L114.9 616.6 L115.0 617.5 L115.3 618.3 L115.5 619.1 L115.8 619.9 L116.1 620.7 L116.4 621.5 L116.6 622.3 L116.9 623.1 L117.2 623.9 L117.5 624.7 L117.7 625.5 L118.0 626.2 L118.8 626.0 L119.5 625.7 L120.2 625.4 L121.0 625.1 L121.8 624.8 L122.5 624.5 L123.4 624.6 L124.4 624.8 L125.3 624.9 L126.2 625.0 L127.0 625.2 L127.8 625.5 L128.6 625.8 L129.4 626.0 L130.2 626.2 L130.9 626.5 L131.7 626.8 L132.5 627.0 L133.3 627.2 L134.2 627.4 L135.0 627.6 L135.8 627.8 L136.7 628.0 L137.5 628.2 L138.3 628.5 L139.2 628.7 L140.0 628.9 L140.8 629.1 L141.7 629.3 L142.5 629.5 L143.2 629.8 L143.9 630.1 L144.6 630.4 L145.4 630.6 L146.1 630.9 L146.8 631.2 L147.5 631.5 L147.5 631.5 L75.0 631.5 Z" fill="url(#dots2)" stroke="#000" stroke-width="0.8" stroke-linejoin="round"/>
<path d="M75.0 631.5 L75.8 631.3 L76.7 631.2 L77.5 631.0 L78.3 630.8 L79.2 630.7 L80.0 630.5 L80.8 630.3 L81.7 630.2 L82.5 630.0 L83.3 629.8 L84.2 629.7 L85.0 629.5 L85.6 629.1 L86.2 628.6 L86.7 628.2 L87.3 627.7 L87.9 627.3 L88.5 626.8 L89.0 626.4 L89.6 626.0 L90.2 625.5 L90.8 625.1 L91.3 624.6 L91.9 624.2 L92.5 623.8 L92.9 623.1 L93.3 622.4 L93.7 621.7 L94.0 621.1 L94.4 620.4 L94.8 619.7 L95.2 619.0 L95.6 618.4 L96.0 617.7 L96.3 617.0 L96.7 616.3 L97.1 615.7 L97.5 615.0 L97.6 614.1 L97.7 613.2 L97.8 612.3 L97.9 611.4 L98.0 610.5 L98.1 609.6 L98.2 608.7 L98.3 607.8 L98.4 606.9 L98.5 606.0 L98.6 605.1 L98.7 604.2 L98.8 603.3 L98.9 602.4 L99.0 601.5 L99.1 600.6 L99.2 599.7 L99.3 598.8 L99.4 597.9 L99.5 597.0 L99.6 596.1 L99.7 595.2 L99.8 594.3 L99.9 593.4 L100.0 592.5 L100.1 591.6 L100.1 590.6 L100.2 589.7 L100.2 588.8 L100.3 587.8 L100.4 586.9 L100.4 585.9 L100.5 585.0 L100.6 584.1 L100.6 583.1 L100.7 582.2 L100.8 581.2 L100.8 580.3 L100.9 579.4 L100.9 578.4 L101.0 577.5 L101.1 576.6 L101.1 575.6 L101.2 574.7 L101.2 573.8 L101.3 572.8 L101.4 571.9 L101.4 570.9 L101.5 570.0 L101.6 569.1 L101.6 568.1 L101.7 567.2 L101.8 566.2 L101.8 565.3 L101.9 564.4 L101.9 563.4 L102.0 562.5 L102.1 561.6 L102.1 560.6 L102.2 559.7 L102.2 558.8 L102.3 557.8 L102.4 556.9 L102.4 555.9 L102.5 555.0 L102.6 554.1 L102.7 553.2 L102.8 552.2 L102.8 551.3 L102.9 550.4 L103.0 549.5 L103.1 548.6 L103.2 547.7 L103.2 546.8 L103.3 545.8 L103.4 544.9 L103.5 544.0 L103.6 543.1 L103.7 542.2 L103.8 541.2 L103.8 540.3 L103.9 539.4 L104.0 538.5 L104.1 537.6 L104.2 536.7 L104.2 535.8 L104.3 534.8 L104.4 533.9 L104.5 533.0 L104.6 532.1 L104.7 531.2 L104.8 530.2 L104.8 529.3 L104.9 528.4 L105.0 527.5 L105.2 526.6 L105.4 525.7 L105.5 524.8 L105.7 523.9 L105.9 523.0 L106.1 522.1 L106.2 521.2 L107.5 521.2 L108.8 521.2 L108.9 522.1 L109.0 523.0 L109.1 523.9 L109.2 524.8 L109.4 525.6 L109.5 526.5 L109.6 527.4 L109.8 528.2 L109.9 529.1 L110.0 530.0 L110.1 530.9 L110.2 531.9 L110.3 532.8 L110.4 533.7 L110.5 534.6 L110.6 535.6 L110.6 536.5 L110.7 537.4 L110.8 538.3 L110.9 539.3 L111.0 540.2 L111.1 541.1 L111.2 542.0 L111.3 543.0 L111.4 543.9 L111.5 544.8 L111.6 545.7 L111.7 546.7 L111.8 547.6 L111.9 548.5 L111.9 549.4 L112.0 550.4 L112.1 551.3 L112.2 552.2 L112.3 553.1 L112.4 554.1 L112.5 555.0 L112.6 555.9 L112.7 556.9 L112.8 557.8 L112.9 558.7 L113.0 559.6 L113.1 560.6 L113.1 561.5 L113.2 562.4 L113.3 563.3 L113.4 564.3 L113.5 565.2 L113.6 566.1 L113.7 567.0 L113.8 568.0 L113.9 568.9 L114.0 569.8 L114.1 570.7 L114.2 571.7 L114.3 572.6 L114.4 573.5 L114.4 574.4 L114.5 575.4 L114.6 576.3 L114.7 577.2 L114.8 578.1 L114.9 579.1 L115.0 580.0 L115.2 580.8 L115.4 581.6 L115.6 582.4 L115.8 583.2 L115.9 584.1 L116.1 584.9 L116.3 585.7 L116.5 586.5 L116.7 587.3 L116.9 588.1 L117.1 588.9 L117.2 589.8 L117.4 590.6 L117.6 591.4 L117.8 592.2 L118.0 593.0 L118.2 593.8 L118.4 594.6 L118.6 595.4 L118.8 596.2 L119.4 596.7 L120.0 597.1 L120.6 597.6 L121.2 598.0 L121.5 597.2 L121.8 596.5 L122.1 595.8 L122.4 595.0 L122.6 594.2 L122.9 593.5 L123.2 592.8 L123.5 592.0 L123.8 591.2 L124.2 590.6 L124.6 590.0 L125.0 589.3 L125.4 588.7 L125.8 588.1 L126.2 587.4 L126.7 586.8 L127.1 586.1 L127.5 585.5 L128.8 585.5 L130.0 585.5 L131.2 585.5 L131.6 586.2 L131.9 586.9 L132.2 587.7 L132.5 588.4 L132.8 589.1 L133.1 589.8 L133.4 590.5 L133.8 591.2 L134.2 591.9 L134.7 592.5 L135.2 593.1 L135.6 593.8 L136.1 594.4 L136.6 595.0 L137.0 595.6 L137.5 596.2 L137.8 597.0 L138.1 597.7 L138.4 598.4 L138.8 599.2 L139.1 599.9 L139.4 600.6 L139.7 601.4 L140.0 602.1 L140.3 602.8 L140.6 603.5 L140.9 604.3 L141.2 605.0 L141.6 605.7 L141.9 606.5 L142.2 607.2 L142.5 607.9 L142.8 608.6 L143.1 609.4 L143.4 610.1 L143.8 610.8 L144.1 611.6 L144.4 612.3 L144.7 613.0 L145.0 613.8 L145.5 614.3 L145.9 614.9 L146.4 615.5 L146.8 616.0 L147.3 616.6 L147.7 617.2 L148.2 617.7 L148.6 618.3 L149.1 618.9 L149.5 619.4 L150.0 620.0 L150.5 620.6 L150.9 621.1 L151.4 621.7 L151.8 622.3 L152.3 622.8 L152.7 623.4 L153.2 624.0 L153.6 624.5 L154.1 625.1 L154.5 625.7 L155.0 626.2 L155.6 626.7 L156.2 627.2 L156.9 627.7 L157.5 628.1 L158.1 628.6 L158.8 629.1 L159.4 629.5 L160.0 630.0 L160.9 630.2 L161.9 630.3 L162.8 630.5 L163.8 630.6 L164.7 630.8 L165.6 630.9 L166.6 631.1 L167.5 631.2 L168.5 631.3 L169.5 631.3 L170.5 631.3 L171.5 631.4 L172.5 631.4 L173.5 631.4 L174.5 631.4 L175.5 631.5 L176.5 631.5 L177.5 631.5" fill="none" stroke="#000" stroke-width="2.1" stroke-linejoin="round"/>
<text transform="translate(57.9 573.5) rotate(-90) scale(0.765 1)" style="font-family:'Liberation Serif',serif;font-weight:bold;stroke:#000;stroke-width:0.25px;font-size:16.2px" text-anchor="middle">Cell count</text>
<text x="69" y="643.8" style="font-family:'Liberation Serif',serif;font-weight:bold;stroke:#000;stroke-width:0.25px;font-size:7.6px" text-anchor="start">10<tspan dy="-2.2" style="font-size:7.2px">0</tspan></text>
<text x="209" y="646" style="font-family:'Liberation Serif',serif;font-weight:bold;stroke:#000;stroke-width:0.25px;font-size:7.6px" text-anchor="start">10<tspan dy="-2.2" style="font-size:7.2px">4</tspan></text>
<text x="131" y="650" style="font-family:'Liberation Serif',serif;font-weight:bold;stroke:#000;stroke-width:0.25px;font-size:8.8px" text-anchor="start" textLength="18.3" lengthAdjust="spacingAndGlyphs">FL2</text>
<text x="109.5" y="670.5" style="font-family:'Liberation Serif',serif;font-weight:bold;stroke:#000;stroke-width:0.25px;font-size:14.7px" text-anchor="start" >Sildenafil</text>
<text x="167.5" y="538.8" style="font-family:'Liberation Sans',sans-serif;stroke:#000;stroke-width:0.3px;font-size:10.7px" text-anchor="start" textLength="41.5" lengthAdjust="spacingAndGlyphs">31.8 %</text>
<line x1="310.8" y1="519.8" x2="310.8" y2="637.7" stroke="#000" stroke-width="1.5"/>
<line x1="305.3" y1="634.2" x2="459.5" y2="634.2" stroke="#000" stroke-width="2.2"/>
<line x1="305.8" y1="519.8" x2="459.5" y2="519.8" stroke="#111" stroke-width="1.1"/>
<line x1="459.5" y1="519.8" x2="459.5" y2="634.2" stroke="#000" stroke-width="1.3"/>
<line x1="310.8" y1="634.2" x2="310.8" y2="638.2" stroke="#000" stroke-width="0.9"/>
<line x1="321.8779038404345" y1="634.2" x2="321.8779038404345" y2="636.4000000000001" stroke="#000" stroke-width="0.9"/>
<line x1="328.3580621736836" y1="634.2" x2="328.3580621736836" y2="636.4000000000001" stroke="#000" stroke-width="0.9"/>
<line x1="332.95580768086904" y1="634.2" x2="332.95580768086904" y2="636.4000000000001" stroke="#000" stroke-width="0.9"/>
<line x1="336.5220961595655" y1="634.2" x2="336.5220961595655" y2="636.4000000000001" stroke="#000" stroke-width="0.9"/>
<line x1="339.4359660141181" y1="634.2" x2="339.4359660141181" y2="636.4000000000001" stroke="#000" stroke-width="0.9"/>
<line x1="341.89960787252465" y1="634.2" x2="341.89960787252465" y2="636.4000000000001" stroke="#000" stroke-width="0.9"/>
<line x1="344.03371152130353" y1="634.2" x2="344.03371152130353" y2="636.4000000000001" stroke="#000" stroke-width="0.9"/>
<line x1="345.91612434736714" y1="634.2" x2="345.91612434736714" y2="636.4000000000001" stroke="#000" stroke-width="0.9"/>
<line x1="347.6" y1="634.2" x2="347.6" y2="638.2" stroke="#000" stroke-width="0.9"/>
<line x1="358.6779038404345" y1="634.2" x2="358.6779038404345" y2="636.4000000000001" stroke="#000" stroke-width="0.9"/>
<line x1="365.15806217368356" y1="634.2" x2="365.15806217368356" y2="636.4000000000001" stroke="#000" stroke-width="0.9"/>
<line x1="369.755807680869" y1="634.2" x2="369.755807680869" y2="636.4000000000001" stroke="#000" stroke-width="0.9"/>
<line x1="373.3220961595655" y1="634.2" x2="373.3220961595655" y2="636.4000000000001" stroke="#000" stroke-width="0.9"/>
<line x1="376.2359660141181" y1="634.2" x2="376.2359660141181" y2="636.4000000000001" stroke="#000" stroke-width="0.9"/>
<line x1="378.69960787252467" y1="634.2" x2="378.69960787252467" y2="636.4000000000001" stroke="#000" stroke-width="0.9"/>
<line x1="380.83371152130354" y1="634.2" x2="380.83371152130354" y2="636.4000000000001" stroke="#000" stroke-width="0.9"/>
<line x1="382.71612434736716" y1="634.2" x2="382.71612434736716" y2="636.4000000000001" stroke="#000" stroke-width="0.9"/>
<line x1="384.4" y1="634.2" x2="384.4" y2="638.2" stroke="#000" stroke-width="0.9"/>
<line x1="395.4779038404345" y1="634.2" x2="395.4779038404345" y2="636.4000000000001" stroke="#000" stroke-width="0.9"/>
<line x1="401.9580621736836" y1="634.2" x2="401.9580621736836" y2="636.4000000000001" stroke="#000" stroke-width="0.9"/>
<line x1="406.555807680869" y1="634.2" x2="406.555807680869" y2="636.4000000000001" stroke="#000" stroke-width="0.9"/>
<line x1="410.1220961595655" y1="634.2" x2="410.1220961595655" y2="636.4000000000001" stroke="#000" stroke-width="0.9"/>
<line x1="413.0359660141181" y1="634.2" x2="413.0359660141181" y2="636.4000000000001" stroke="#000" stroke-width="0.9"/>
<line x1="415.4996078725247" y1="634.2" x2="415.4996078725247" y2="636.4000000000001" stroke="#000" stroke-width="0.9"/>
<line x1="417.63371152130355" y1="634.2" x2="417.63371152130355" y2="636.4000000000001" stroke="#000" stroke-width="0.9"/>
<line x1="419.51612434736717" y1="634.2" x2="419.51612434736717" y2="636.4000000000001" stroke="#000" stroke-width="0.9"/>
<line x1="421.2" y1="634.2" x2="421.2" y2="638.2" stroke="#000" stroke-width="0.9"/>
<line x1="432.27790384043453" y1="634.2" x2="432.27790384043453" y2="636.4000000000001" stroke="#000" stroke-width="0.9"/>
<line x1="438.7580621736836" y1="634.2" x2="438.7580621736836" y2="636.4000000000001" stroke="#000" stroke-width="0.9"/>
<line x1="443.355807680869" y1="634.2" x2="443.355807680869" y2="636.4000000000001" stroke="#000" stroke-width="0.9"/>
<line x1="446.9220961595655" y1="634.2" x2="446.9220961595655" y2="636.4000000000001" stroke="#000" stroke-width="0.9"/>
<line x1="449.83596601411807" y1="634.2" x2="449.83596601411807" y2="636.4000000000001" stroke="#000" stroke-width="0.9"/>
<line x1="452.2996078725247" y1="634.2" x2="452.2996078725247" y2="636.4000000000001" stroke="#000" stroke-width="0.9"/>
<line x1="454.4337115213035" y1="634.2" x2="454.4337115213035" y2="636.4000000000001" stroke="#000" stroke-width="0.9"/>
<line x1="456.3161243473671" y1="634.2" x2="456.3161243473671" y2="636.4000000000001" stroke="#000" stroke-width="0.9"/>
<line x1="458.0" y1="634.2" x2="458.0" y2="638.2" stroke="#000" stroke-width="0.9"/>
<line x1="305.8" y1="519.8" x2="310.8" y2="519.8" stroke="#000" stroke-width="1.0"/>
<line x1="307.8" y1="524.25" x2="310.8" y2="524.25" stroke="#000" stroke-width="1.0"/>
<line x1="307.8" y1="528.6999999999999" x2="310.8" y2="528.6999999999999" stroke="#000" stroke-width="1.0"/>
<line x1="307.8" y1="533.15" x2="310.8" y2="533.15" stroke="#000" stroke-width="1.0"/>
<line x1="307.8" y1="537.5999999999999" x2="310.8" y2="537.5999999999999" stroke="#000" stroke-width="1.0"/>
<line x1="305.8" y1="542.05" x2="310.8" y2="542.05" stroke="#000" stroke-width="1.0"/>
<line x1="307.8" y1="546.5" x2="310.8" y2="546.5" stroke="#000" stroke-width="1.0"/>
<line x1="307.8" y1="550.9499999999999" x2="310.8" y2="550.9499999999999" stroke="#000" stroke-width="1.0"/>
<line x1="307.8" y1="555.4" x2="310.8" y2="555.4" stroke="#000" stroke-width="1.0"/>
<line x1="307.8" y1="559.8499999999999" x2="310.8" y2="559.8499999999999" stroke="#000" stroke-width="1.0"/>
<line x1="305.8" y1="564.3" x2="310.8" y2="564.3" stroke="#000" stroke-width="1.0"/>
<line x1="307.8" y1="568.75" x2="310.8" y2="568.75" stroke="#000" stroke-width="1.0"/>
<line x1="307.8" y1="573.1999999999999" x2="310.8" y2="573.1999999999999" stroke="#000" stroke-width="1.0"/>
<line x1="307.8" y1="577.65" x2="310.8" y2="577.65" stroke="#000" stroke-width="1.0"/>
<line x1="307.8" y1="582.0999999999999" x2="310.8" y2="582.0999999999999" stroke="#000" stroke-width="1.0"/>
<line x1="305.8" y1="586.55" x2="310.8" y2="586.55" stroke="#000" stroke-width="1.0"/>
<line x1="307.8" y1="591.0" x2="310.8" y2="591.0" stroke="#000" stroke-width="1.0"/>
<line x1="307.8" y1="595.4499999999999" x2="310.8" y2="595.4499999999999" stroke="#000" stroke-width="1.0"/>
<line x1="307.8" y1="599.9" x2="310.8" y2="599.9" stroke="#000" stroke-width="1.0"/>
<line x1="307.8" y1="604.3499999999999" x2="310.8" y2="604.3499999999999" stroke="#000" stroke-width="1.0"/>
<line x1="305.8" y1="608.8" x2="310.8" y2="608.8" stroke="#000" stroke-width="1.0"/>
<line x1="307.8" y1="613.25" x2="310.8" y2="613.25" stroke="#000" stroke-width="1.0"/>
<line x1="307.8" y1="617.6999999999999" x2="310.8" y2="617.6999999999999" stroke="#000" stroke-width="1.0"/>
<line x1="307.8" y1="622.15" x2="310.8" y2="622.15" stroke="#000" stroke-width="1.0"/>
<line x1="307.8" y1="626.5999999999999" x2="310.8" y2="626.5999999999999" stroke="#000" stroke-width="1.0"/>
<line x1="305.8" y1="631.05" x2="310.8" y2="631.05" stroke="#000" stroke-width="1.0"/>
<path d="M311.2 630.0 L311.9 629.6 L312.6 629.2 L313.3 628.8 L313.9 628.5 L314.6 628.1 L315.3 627.7 L316.0 627.3 L316.6 626.9 L317.3 626.5 L318.0 626.2 L318.7 625.8 L319.3 625.4 L320.0 625.0 L320.5 624.5 L321.0 624.0 L321.5 623.5 L322.0 623.0 L322.5 622.5 L323.0 622.0 L323.5 621.5 L324.0 621.0 L324.5 620.5 L325.0 620.0 L325.5 619.5 L326.0 619.0 L326.5 618.5 L327.0 618.0 L327.5 617.5 L328.2 617.9 L328.9 618.2 L329.6 618.6 L330.4 618.9 L331.1 619.3 L331.8 619.6 L332.5 620.0 L333.2 619.6 L333.9 619.3 L334.6 618.9 L335.4 618.6 L336.1 618.2 L336.8 617.9 L337.5 617.5 L337.8 616.8 L338.2 616.1 L338.5 615.5 L338.9 614.8 L339.2 614.1 L339.5 613.4 L339.9 612.7 L340.2 612.0 L340.6 611.4 L340.9 610.7 L341.2 610.0 L341.5 609.2 L341.8 608.5 L342.1 607.7 L342.4 606.9 L342.7 606.2 L343.0 605.4 L343.3 604.6 L343.6 603.8 L343.8 603.1 L344.1 602.3 L344.4 601.5 L344.7 600.8 L345.0 600.0 L345.1 599.1 L345.2 598.2 L345.3 597.3 L345.4 596.4 L345.5 595.5 L345.6 594.6 L345.7 593.7 L345.8 592.8 L345.9 591.9 L346.0 591.0 L346.1 590.1 L346.2 589.2 L346.4 588.3 L346.5 587.4 L346.6 586.5 L346.7 585.6 L346.8 584.7 L346.9 583.8 L347.0 582.8 L347.1 581.9 L347.2 581.0 L347.3 580.1 L347.4 579.2 L347.5 578.3 L347.6 577.4 L347.7 576.5 L347.8 575.6 L347.9 574.7 L348.0 573.8 L348.1 572.9 L348.2 572.0 L348.3 571.1 L348.4 570.2 L348.5 569.3 L348.6 568.4 L348.8 567.5 L348.9 566.6 L349.0 565.8 L349.1 564.9 L349.2 564.0 L349.4 563.1 L349.5 562.2 L349.6 561.4 L349.8 560.5 L349.9 559.6 L350.0 558.8 L350.1 557.9 L350.2 557.0 L350.4 556.1 L350.5 555.2 L350.6 554.4 L350.8 553.5 L350.9 552.6 L351.0 551.8 L351.1 550.9 L351.2 550.0 L351.5 550.8 L351.7 551.7 L351.9 552.5 L352.1 553.3 L352.3 554.2 L352.5 555.0 L352.6 555.9 L352.6 556.9 L352.7 557.8 L352.8 558.7 L352.9 559.6 L352.9 560.6 L353.0 561.5 L353.1 562.4 L353.2 563.3 L353.2 564.3 L353.3 565.2 L353.4 566.1 L353.5 567.0 L353.5 568.0 L353.6 568.9 L353.7 569.8 L353.8 570.7 L353.8 571.7 L353.9 572.6 L354.0 573.5 L354.1 574.4 L354.1 575.4 L354.2 576.3 L354.3 577.2 L354.4 578.1 L354.4 579.1 L354.5 580.0 L354.6 580.9 L354.7 581.8 L354.8 582.7 L354.9 583.6 L355.0 584.5 L355.1 585.4 L355.2 586.2 L355.4 587.1 L355.5 588.0 L355.6 588.9 L355.7 589.8 L355.8 590.7 L355.9 591.6 L356.0 592.5 L356.1 593.4 L356.2 594.3 L356.3 595.2 L356.4 596.1 L356.5 597.0 L356.6 597.9 L356.8 598.8 L356.9 599.6 L357.0 600.5 L357.1 601.4 L357.2 602.3 L357.3 603.2 L357.4 604.1 L357.5 605.0 L357.7 605.8 L357.8 606.7 L358.0 607.5 L358.2 608.3 L358.3 609.2 L358.5 610.0 L358.7 610.8 L358.8 611.7 L359.0 612.5 L359.2 613.3 L359.3 614.2 L359.5 615.0 L359.7 615.8 L359.8 616.7 L360.0 617.5 L360.5 618.1 L360.9 618.6 L361.4 619.2 L361.8 619.8 L362.3 620.3 L362.7 620.9 L363.2 621.5 L363.6 622.0 L364.1 622.6 L364.5 623.2 L365.0 623.8 L365.8 624.0 L366.7 624.2 L367.5 624.4 L368.3 624.6 L369.2 624.8 L370.0 625.0 L370.5 625.5 L371.0 626.1 L371.5 626.6 L372.0 627.2 L372.5 627.8 L373.0 628.3 L373.5 628.9 L374.0 629.4 L374.5 630.0 L375.0 630.5 L375.8 630.7 L376.7 630.8 L377.5 631.0 L378.3 631.2 L379.2 631.3 L380.0 631.5 L380.0 633.5 L311.2 633.5 Z" fill="url(#dots2)" stroke="#000" stroke-width="0.8" stroke-linejoin="round"/>
<path d="M311.2 620.0 L311.4 620.9 L311.5 621.8 L311.6 622.6 L311.8 623.5 L311.9 624.4 L312.0 625.2 L312.1 626.1 L312.2 627.0 L312.4 627.9 L312.5 628.8 L313.2 628.5 L314.0 628.2 L314.8 628.0 L315.5 627.8 L316.2 627.5 L316.6 626.9 L317.0 626.2 L317.4 625.6 L317.8 625.0 L318.1 624.4 L318.5 623.8 L318.9 623.1 L319.2 622.5 L319.6 621.9 L320.0 621.2 L320.5 620.8 L321.0 620.2 L321.5 619.8 L322.0 619.2 L322.5 618.8 L323.0 618.2 L323.5 617.8 L324.0 617.2 L324.5 616.8 L325.0 616.2 L325.5 615.7 L326.1 615.2 L326.6 614.6 L327.1 614.1 L327.7 613.6 L328.2 613.0 L328.8 612.5 L330.0 612.5 L331.2 612.5 L332.5 612.5 L332.9 611.9 L333.2 611.2 L333.6 610.6 L334.0 610.0 L334.4 609.4 L334.8 608.8 L335.1 608.1 L335.5 607.5 L335.9 606.9 L336.2 606.2 L337.0 606.0 L337.8 605.8 L338.5 605.5 L339.2 605.2 L340.0 605.0 L340.1 604.1 L340.2 603.2 L340.4 602.4 L340.5 601.5 L340.6 600.6 L340.8 599.8 L340.9 598.9 L341.0 598.0 L341.1 597.1 L341.2 596.2 L341.4 595.4 L341.5 594.5 L341.6 593.6 L341.8 592.8 L341.9 591.9 L342.0 591.0 L342.1 590.1 L342.2 589.2 L342.4 588.4 L342.5 587.5 L342.6 586.6 L342.7 585.7 L342.9 584.8 L343.0 584.0 L343.1 583.1 L343.2 582.2 L343.3 581.3 L343.5 580.4 L343.6 579.5 L343.7 578.6 L343.8 577.7 L344.0 576.9 L344.1 576.0 L344.2 575.1 L344.3 574.2 L344.4 573.3 L344.6 572.4 L344.7 571.5 L344.8 570.6 L344.9 569.8 L345.0 568.9 L345.2 568.0 L345.3 567.1 L345.4 566.2 L345.5 565.3 L345.6 564.4 L345.8 563.5 L345.9 562.7 L346.0 561.8 L346.1 560.9 L346.2 560.0 L346.3 559.1 L346.4 558.1 L346.5 557.2 L346.6 556.3 L346.7 555.4 L346.8 554.4 L346.9 553.5 L347.0 552.6 L347.1 551.7 L347.2 550.7 L347.3 549.8 L347.4 548.9 L347.5 548.0 L347.5 547.0 L347.6 546.1 L347.7 545.2 L347.8 544.3 L347.9 543.3 L348.0 542.4 L348.1 541.5 L348.2 540.6 L348.3 539.6 L348.4 538.7 L348.5 537.8 L348.6 536.9 L348.7 535.9 L348.8 535.0 L349.2 534.5 L349.7 533.9 L350.1 533.4 L350.6 532.9 L351.1 532.3 L351.5 531.8 L352.0 531.2 L352.1 532.2 L352.2 533.1 L352.4 534.0 L352.5 534.9 L352.6 535.8 L352.7 536.8 L352.8 537.7 L352.9 538.6 L353.1 539.5 L353.2 540.4 L353.3 541.3 L353.4 542.2 L353.5 543.2 L353.6 544.1 L353.8 545.0 L353.8 546.0 L353.8 547.0 L353.9 548.0 L353.9 548.9 L353.9 549.9 L354.0 550.9 L354.0 551.9 L354.1 552.9 L354.1 553.9 L354.1 554.8 L354.2 555.8 L354.2 556.8 L354.2 557.8 L354.3 558.8 L354.3 559.8 L354.4 560.8 L354.4 561.7 L354.4 562.7 L354.5 563.7 L354.5 564.7 L354.5 565.7 L354.6 566.7 L354.6 567.7 L354.7 568.6 L354.7 569.6 L354.7 570.6 L354.8 571.6 L354.8 572.6 L354.8 573.6 L354.9 574.5 L354.9 575.5 L355.0 576.5 L355.0 577.5 L355.1 578.4 L355.3 579.3 L355.4 580.1 L355.6 581.0 L355.7 581.9 L355.9 582.8 L356.0 583.7 L356.2 584.6 L356.3 585.4 L356.5 586.3 L356.6 587.2 L356.8 588.1 L356.9 589.0 L357.1 589.9 L357.2 590.7 L357.4 591.6 L357.5 592.5 L357.7 593.3 L357.8 594.2 L358.0 595.0 L358.2 595.8 L358.3 596.7 L358.5 597.5 L358.7 598.3 L358.8 599.2 L359.0 600.0 L359.2 600.8 L359.3 601.7 L359.5 602.5 L359.7 603.3 L359.8 604.2 L360.0 605.0 L360.8 605.4 L361.7 605.8 L362.5 606.2 L362.7 605.5 L363.0 604.7 L363.2 603.9 L363.4 603.1 L363.7 602.3 L363.9 601.6 L364.1 600.8 L364.4 600.0 L364.6 599.2 L364.8 598.4 L365.1 597.7 L365.3 596.9 L365.5 596.1 L365.8 595.3 L366.0 594.5 L366.2 593.8 L366.9 593.3 L367.5 592.9 L368.1 592.5 L368.8 592.1 L369.4 591.7 L370.0 591.2 L370.5 591.8 L371.0 592.2 L371.5 592.8 L372.0 593.2 L372.5 593.8 L372.7 594.6 L372.9 595.5 L373.1 596.3 L373.3 597.2 L373.5 598.1 L373.7 598.9 L373.8 599.8 L374.0 600.7 L374.2 601.5 L374.4 602.4 L374.6 603.3 L374.8 604.1 L375.0 605.0 L375.2 605.8 L375.4 606.7 L375.6 607.5 L375.8 608.3 L376.0 609.2 L376.2 610.0 L376.5 610.8 L376.7 611.7 L376.9 612.5 L377.1 613.3 L377.3 614.2 L377.5 615.0 L377.7 615.8 L377.9 616.7 L378.1 617.5 L378.3 618.3 L378.5 619.2 L378.8 620.0 L379.1 620.7 L379.4 621.4 L379.8 622.0 L380.1 622.7 L380.5 623.4 L380.8 624.1 L381.1 624.8 L381.5 625.5 L381.8 626.1 L382.2 626.8 L382.5 627.5 L383.2 627.9 L383.9 628.2 L384.6 628.6 L385.4 628.9 L386.1 629.3 L386.8 629.6 L387.5 630.0 L388.4 630.1 L389.3 630.3 L390.2 630.4 L391.1 630.6 L392.0 630.7 L392.9 630.9 L393.8 631.0 L394.6 631.1 L395.5 631.3 L396.4 631.4 L397.3 631.6 L398.2 631.7 L399.1 631.9 L400.0 632.0 L401.0 632.0 L402.0 632.1 L403.0 632.1 L404.0 632.2 L405.0 632.2 L406.0 632.3 L407.0 632.4 L408.0 632.4 L409.0 632.5 L410.0 632.5" fill="none" stroke="#000" stroke-width="2.5" stroke-linejoin="round"/>
<text transform="translate(292.8 574.3) rotate(-90) scale(0.765 1)" style="font-family:'Liberation Serif',serif;font-weight:bold;stroke:#000;stroke-width:0.25px;font-size:16.2px" text-anchor="middle">Cell count</text>
<text x="310.5" y="647" style="font-family:'Liberation Serif',serif;font-weight:bold;stroke:#000;stroke-width:0.25px;font-size:7.6px" text-anchor="start">10<tspan dy="-2.2" style="font-size:7.2px">0</tspan></text>
<text x="451.3" y="650" style="font-family:'Liberation Serif',serif;font-weight:bold;stroke:#000;stroke-width:0.25px;font-size:7.6px" text-anchor="start">10<tspan dy="-2.2" style="font-size:7.2px">4</tspan></text>
<text x="374" y="653" style="font-family:'Liberation Serif',serif;font-weight:bold;stroke:#000;stroke-width:0.25px;font-size:8.8px" text-anchor="start" textLength="17.5" lengthAdjust="spacingAndGlyphs">FL2</text>
<text x="349" y="672" style="font-family:'Liberation Serif',serif;font-weight:bold;stroke:#000;stroke-width:0.25px;font-size:14.4px" text-anchor="start" >Vardenafil</text>
<text x="409.5" y="543" style="font-family:'Liberation Sans',sans-serif;stroke:#000;stroke-width:0.3px;font-size:11px" text-anchor="start" textLength="38.5" lengthAdjust="spacingAndGlyphs">28.7%</text>
</g>
</svg>
</body></html>
